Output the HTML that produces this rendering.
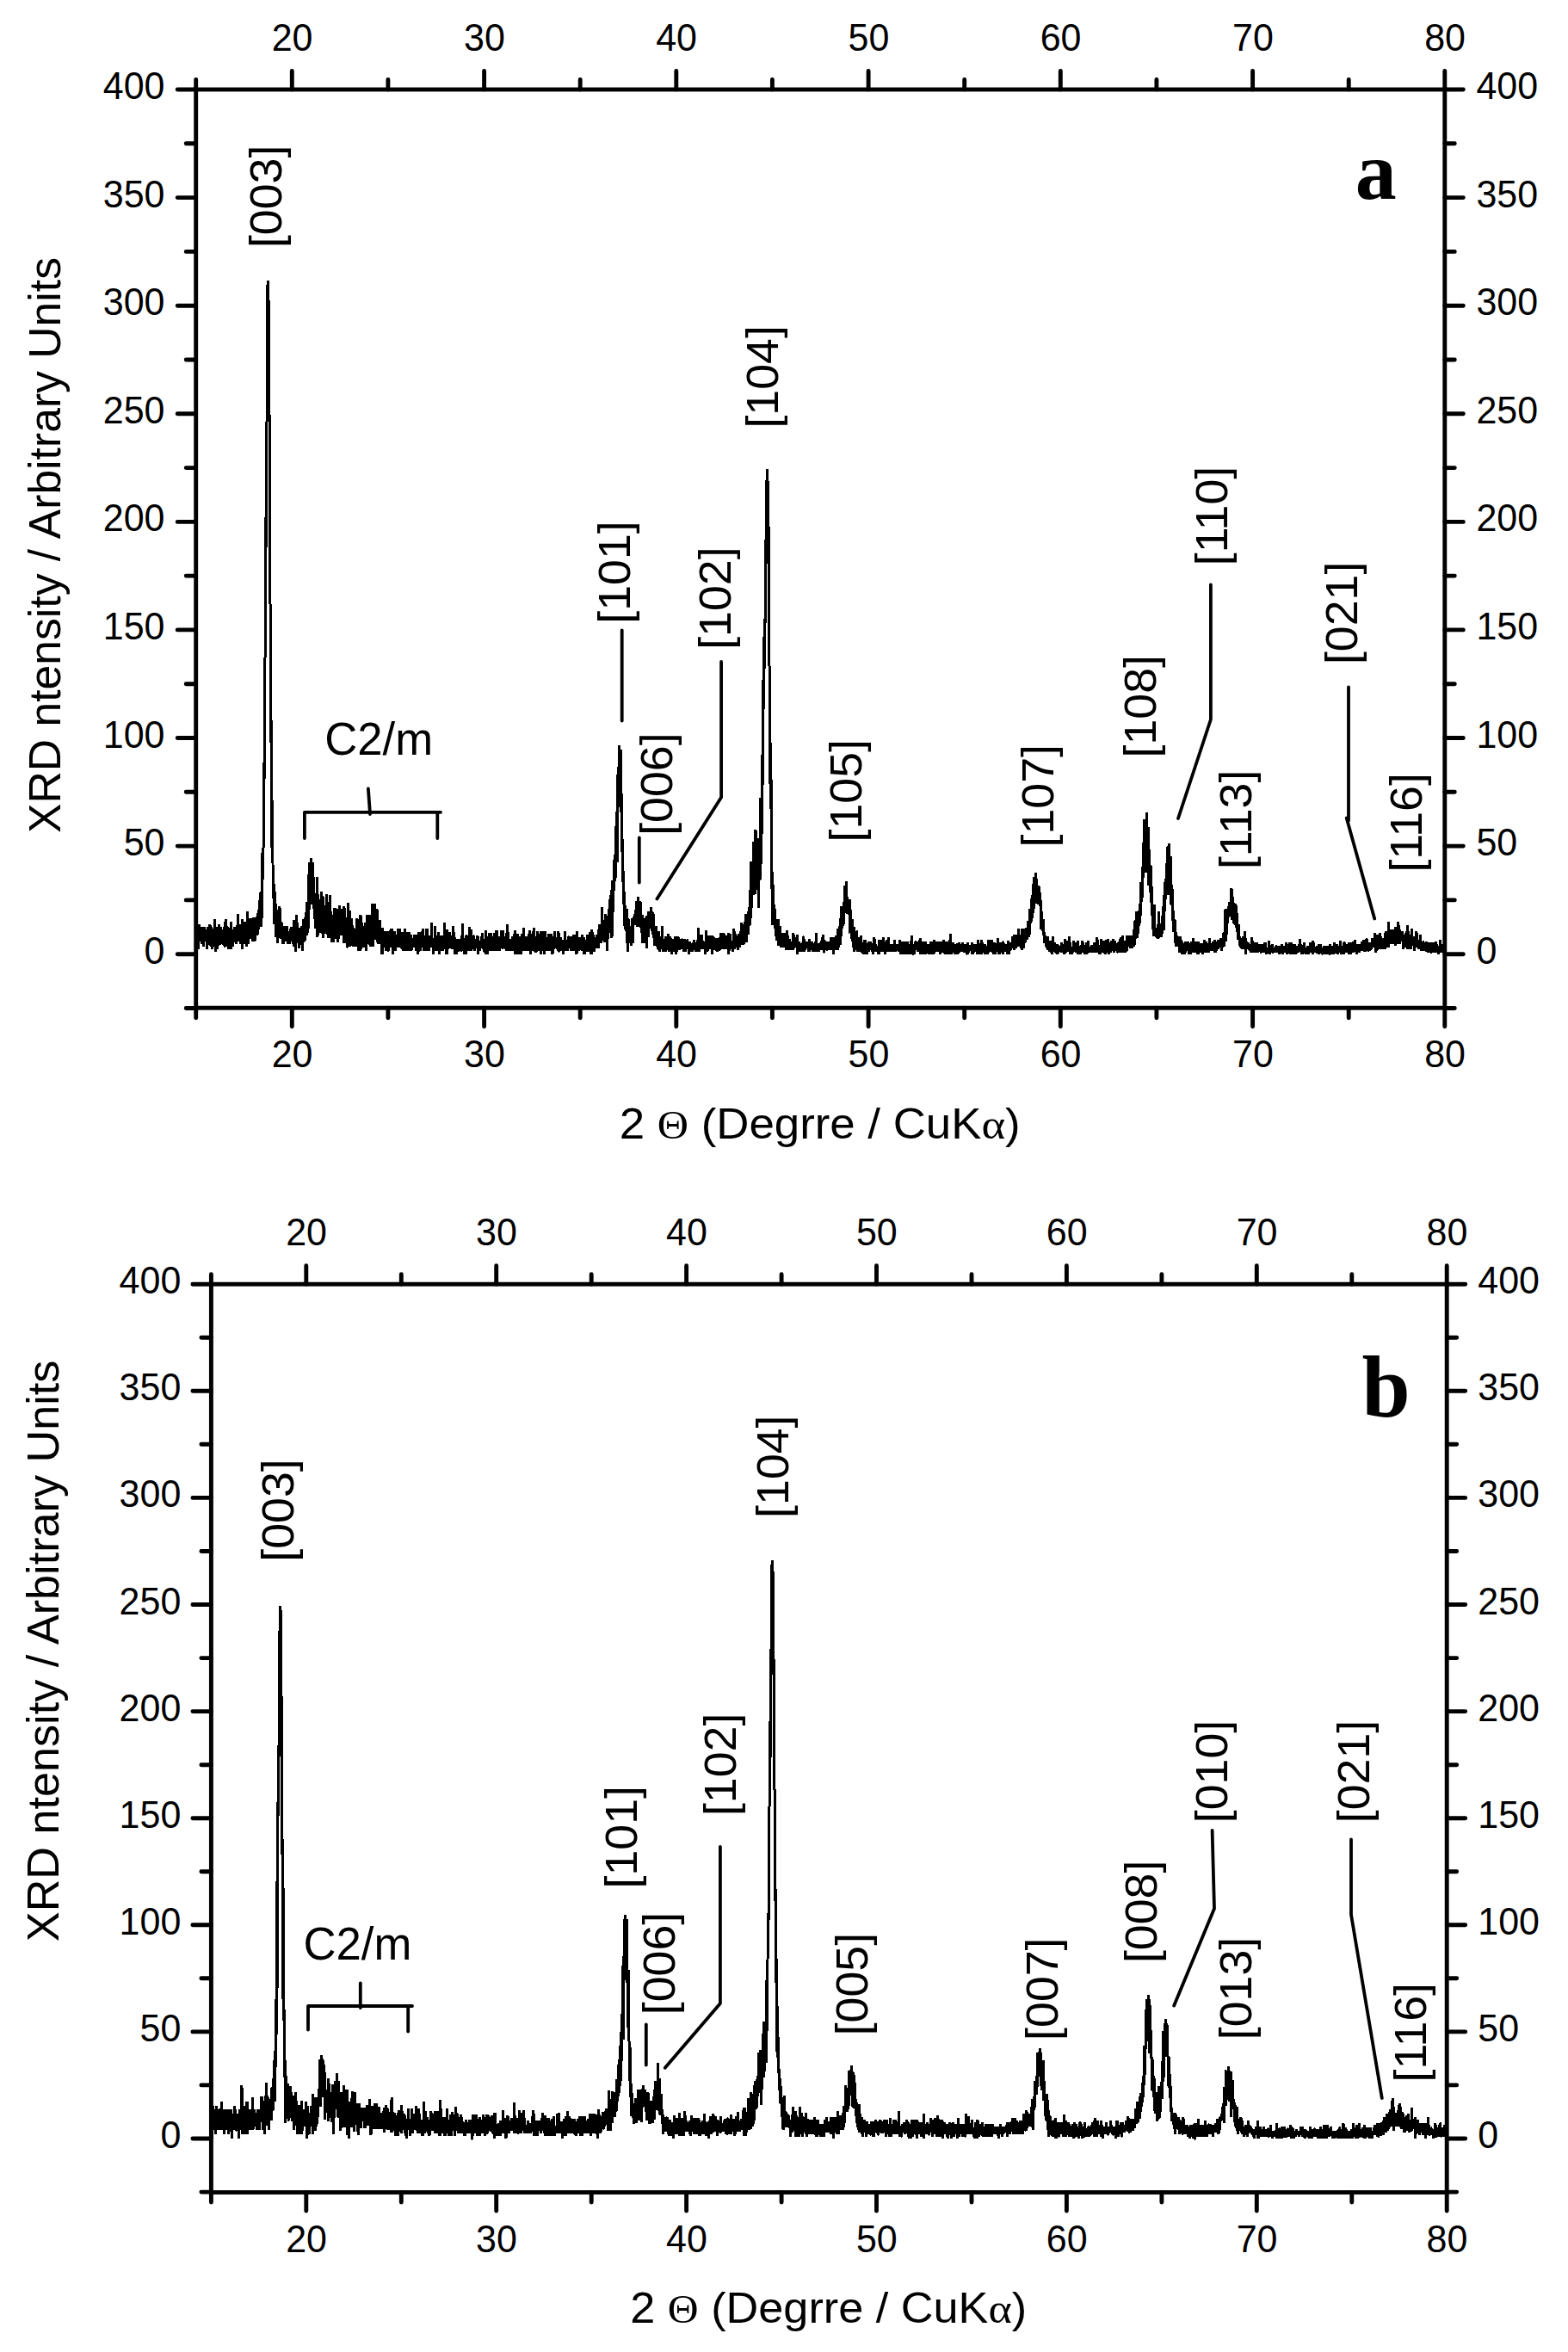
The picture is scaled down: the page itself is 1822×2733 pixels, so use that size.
<!DOCTYPE html>
<html lang="en"><head><meta charset="utf-8"><title>XRD patterns</title>
<style>html,body{margin:0;padding:0;background:#fff}svg{display:block}text{fill:#000}</style></head><body>
<svg width="1822" height="2733" viewBox="0 0 1822 2733">
<rect width="1822" height="2733" fill="#fff"/>
<g fill="none" stroke="#000" stroke-width="4.9" stroke-linecap="round">
<path d="M227.7 104V92.5M227.7 1171.2V1182.7M339.3 104V82.5M339.3 1171.2V1192.7M450.9 104V92.5M450.9 1171.2V1182.7M562.6 104V82.5M562.6 1171.2V1192.7M674.2 104V92.5M674.2 1171.2V1182.7M785.8 104V82.5M785.8 1171.2V1192.7M897.4 104V92.5M897.4 1171.2V1182.7M1009.1 104V82.5M1009.1 1171.2V1192.7M1120.7 104V92.5M1120.7 1171.2V1182.7M1232.3 104V82.5M1232.3 1171.2V1192.7M1343.9 104V92.5M1343.9 1171.2V1182.7M1455.6 104V82.5M1455.6 1171.2V1192.7M1567.2 104V92.5M1567.2 1171.2V1182.7M1678.8 104V82.5M1678.8 1171.2V1192.7M227.7 1171.5H216.2M1678.8 1171.5H1690.3M227.7 1108.7H206.2M1678.8 1108.7H1700.3M227.7 1045.9H216.2M1678.8 1045.9H1690.3M227.7 983.1H206.2M1678.8 983.1H1700.3M227.7 920.3H216.2M1678.8 920.3H1690.3M227.7 857.5H206.2M1678.8 857.5H1700.3M227.7 794.7H216.2M1678.8 794.7H1690.3M227.7 731.9H206.2M1678.8 731.9H1700.3M227.7 669.1H216.2M1678.8 669.1H1690.3M227.7 606.4H206.2M1678.8 606.4H1700.3M227.7 543.6H216.2M1678.8 543.6H1690.3M227.7 480.8H206.2M1678.8 480.8H1700.3M227.7 418H216.2M1678.8 418H1690.3M227.7 355.2H206.2M1678.8 355.2H1700.3M227.7 292.4H216.2M1678.8 292.4H1690.3M227.7 229.6H206.2M1678.8 229.6H1700.3M227.7 166.8H216.2M1678.8 166.8H1690.3M227.7 104H206.2M1678.8 104H1700.3"/>
</g>
<rect x="227.7" y="104" width="1451.1" height="1067.2" fill="none" stroke="#000" stroke-width="4.9"/>
<g font-family='"Liberation Sans", sans-serif' font-size="43" fill="#000">
<g text-anchor="middle">
<text transform="translate(339.6 58.5) scale(1 1.019)">20</text>
<text transform="translate(339.6 1240) scale(1 1.019)">20</text>
<text transform="translate(562.9 58.5) scale(1 1.019)">30</text>
<text transform="translate(562.9 1240) scale(1 1.019)">30</text>
<text transform="translate(786.1 58.5) scale(1 1.019)">40</text>
<text transform="translate(786.1 1240) scale(1 1.019)">40</text>
<text transform="translate(1009.4 58.5) scale(1 1.019)">50</text>
<text transform="translate(1009.4 1240) scale(1 1.019)">50</text>
<text transform="translate(1232.6 58.5) scale(1 1.019)">60</text>
<text transform="translate(1232.6 1240) scale(1 1.019)">60</text>
<text transform="translate(1455.9 58.5) scale(1 1.019)">70</text>
<text transform="translate(1455.9 1240) scale(1 1.019)">70</text>
<text transform="translate(1679.1 58.5) scale(1 1.019)">80</text>
<text transform="translate(1679.1 1240) scale(1 1.019)">80</text>
</g>
<g text-anchor="end">
<text transform="translate(191.5 1119.7) scale(1 1.019)">0</text>
<text transform="translate(191.5 994.1) scale(1 1.019)">50</text>
<text transform="translate(191.5 868.5) scale(1 1.019)">100</text>
<text transform="translate(191.5 742.9) scale(1 1.019)">150</text>
<text transform="translate(191.5 617.4) scale(1 1.019)">200</text>
<text transform="translate(191.5 491.8) scale(1 1.019)">250</text>
<text transform="translate(191.5 366.2) scale(1 1.019)">300</text>
<text transform="translate(191.5 240.6) scale(1 1.019)">350</text>
<text transform="translate(191.5 115) scale(1 1.019)">400</text>
</g>
<g text-anchor="start">
<text transform="translate(1715.4 1119.7) scale(1 1.019)">0</text>
<text transform="translate(1715.4 994.1) scale(1 1.019)">50</text>
<text transform="translate(1715.4 868.5) scale(1 1.019)">100</text>
<text transform="translate(1715.4 742.9) scale(1 1.019)">150</text>
<text transform="translate(1715.4 617.4) scale(1 1.019)">200</text>
<text transform="translate(1715.4 491.8) scale(1 1.019)">250</text>
<text transform="translate(1715.4 366.2) scale(1 1.019)">300</text>
<text transform="translate(1715.4 240.6) scale(1 1.019)">350</text>
<text transform="translate(1715.4 115) scale(1 1.019)">400</text>
</g>
</g>
<text x="952.7" y="1323" font-family='"Liberation Sans", sans-serif' font-size="49.5" text-anchor="middle" textLength="466" lengthAdjust="spacingAndGlyphs">2 <tspan font-family='"Liberation Serif", serif' font-size="0.95em">Θ</tspan> (Degrre / CuK<tspan font-family='"Liberation Serif", serif'>α</tspan>)</text>
<text transform="translate(70.2 633.5) rotate(-90)" font-family='"Liberation Sans", sans-serif' font-size="51.5" text-anchor="middle" textLength="669" lengthAdjust="spacingAndGlyphs">XRD ntensity / Arbitrary Units</text>
<polyline fill="none" stroke="#000" stroke-width="3" stroke-linejoin="bevel" shape-rendering="crispEdges" points="227.7,1100 227.9,1100 228.1,1085.6 228.4,1094.3 228.6,1097.1 228.8,1082.7 229,1097.1 229.3,1088.5 229.5,1097.1 229.7,1091.4 229.9,1074 230.2,1102.9 230.4,1076.9 230.6,1085.6 230.8,1094.3 231,1091.4 231.3,1074 231.5,1079.8 231.7,1082.7 231.9,1091.4 232.2,1091.4 232.4,1082.7 232.6,1091.4 232.8,1088.5 233.1,1091.4 233.3,1094.3 233.5,1085.6 233.7,1091.4 234,1088.5 234.2,1091.4 234.4,1097.1 234.6,1076.9 234.8,1088.5 235.1,1085.6 235.3,1094.3 235.5,1085.6 235.7,1091.4 236,1097.1 236.2,1100 236.4,1091.4 236.6,1091.4 236.9,1097.1 237.1,1088.5 237.3,1076.9 237.5,1088.5 237.7,1085.6 238,1088.5 238.2,1079.8 238.4,1091.4 238.6,1088.5 238.9,1082.7 239.1,1085.6 239.3,1094.3 239.5,1085.6 239.8,1091.4 240,1088.5 240.2,1094.3 240.4,1088.5 240.6,1102.9 240.9,1091.4 241.1,1076.9 241.3,1091.4 241.5,1082.7 241.8,1097.1 242,1091.4 242.2,1097.1 242.4,1097.1 242.7,1088.5 242.9,1088.5 243.1,1085.6 243.3,1088.5 243.6,1091.4 243.8,1094.3 244,1074 244.2,1082.7 244.4,1082.7 244.7,1091.4 244.9,1097.1 245.1,1100 245.3,1085.6 245.6,1076.9 245.8,1097.1 246,1085.6 246.2,1094.3 246.5,1091.4 246.7,1088.5 246.9,1102.9 247.1,1094.3 247.3,1097.1 247.6,1097.1 247.8,1091.4 248,1100 248.2,1079.8 248.5,1088.5 248.7,1085.6 248.9,1094.3 249.1,1068.3 249.4,1076.9 249.6,1097.1 249.8,1079.8 250,1085.6 250.2,1105.8 250.5,1076.9 250.7,1094.3 250.9,1085.6 251.1,1088.5 251.4,1094.3 251.6,1082.7 251.8,1091.4 252,1094.3 252.3,1079.8 252.5,1076.9 252.7,1088.5 252.9,1102.9 253.2,1094.3 253.4,1079.8 253.6,1085.6 253.8,1085.6 254,1088.5 254.3,1085.6 254.5,1085.6 254.7,1074 254.9,1079.8 255.2,1097.1 255.4,1085.6 255.6,1091.4 255.8,1082.7 256.1,1097.1 256.3,1097.1 256.5,1085.6 256.7,1076.9 256.9,1091.4 257.2,1094.3 257.4,1079.8 257.6,1091.4 257.8,1079.8 258.1,1097.1 258.3,1094.3 258.5,1088.5 258.7,1082.7 259,1091.4 259.2,1088.5 259.4,1082.7 259.6,1097.1 259.8,1097.1 260.1,1088.5 260.3,1094.3 260.5,1097.1 260.7,1097.1 261,1076.9 261.2,1100 261.4,1100 261.6,1071.1 261.9,1079.8 262.1,1100 262.3,1068.3 262.5,1082.7 262.7,1097.1 263,1094.3 263.2,1088.5 263.4,1097.1 263.6,1082.7 263.9,1085.6 264.1,1076.9 264.3,1076.9 264.5,1094.3 264.8,1094.3 265,1097.1 265.2,1079.8 265.4,1102.9 265.7,1091.4 265.9,1088.5 266.1,1085.6 266.3,1088.5 266.5,1091.4 266.8,1091.4 267,1082.7 267.2,1094.3 267.4,1097.1 267.7,1082.7 267.9,1088.5 268.1,1071.1 268.3,1094.3 268.6,1100 268.8,1102.9 269,1091.4 269.2,1082.7 269.4,1097.1 269.7,1097.1 269.9,1091.4 270.1,1082.7 270.3,1082.7 270.6,1085.6 270.8,1100 271,1097.1 271.2,1079.8 271.5,1085.6 271.7,1094.2 271.9,1079.8 272.1,1088.5 272.3,1088.5 272.6,1085.6 272.8,1076.9 273,1091.3 273.2,1085.6 273.5,1094.2 273.7,1085.5 273.9,1085.5 274.1,1085.5 274.4,1079.8 274.6,1082.6 274.8,1097.1 275,1082.6 275.3,1091.3 275.5,1088.4 275.7,1082.6 275.9,1094.2 276.1,1062.3 276.4,1085.5 276.6,1082.6 276.8,1085.5 277,1088.4 277.3,1079.7 277.5,1085.5 277.7,1082.6 277.9,1082.6 278.2,1085.5 278.4,1073.9 278.6,1088.4 278.8,1094.2 279,1079.6 279.3,1085.5 279.5,1094.2 279.7,1094.2 279.9,1097.1 280.2,1073.8 280.4,1094.2 280.6,1091.2 280.8,1082.5 281.1,1088.3 281.3,1067.9 281.5,1102.9 281.7,1082.5 281.9,1073.7 282.2,1088.3 282.4,1085.4 282.6,1097 282.8,1082.4 283.1,1073.7 283.3,1082.4 283.5,1097 283.7,1076.6 284,1091.2 284.2,1088.2 284.4,1070.7 284.6,1085.3 284.9,1082.4 285.1,1091.1 285.3,1091.1 285.5,1088.2 285.7,1091.1 286,1076.5 286.2,1082.3 286.4,1094 286.6,1085.2 286.9,1099.9 287.1,1082.3 287.3,1058.7 287.5,1079.3 287.8,1067.5 288,1091 288.2,1088.1 288.4,1091 288.6,1096.9 288.9,1093.9 289.1,1082.1 289.3,1079.2 289.5,1082.1 289.8,1067.3 290,1088 290.2,1082 290.4,1070.2 290.7,1090.9 290.9,1067.1 291.1,1082 291.3,1081.9 291.5,1081.9 291.8,1081.9 292,1075.9 292.2,1090.8 292.4,1081.8 292.7,1084.8 292.9,1075.8 293.1,1084.7 293.3,1093.7 293.6,1075.7 293.8,1072.6 294,1066.6 294.2,1084.6 294.5,1081.5 294.7,1066.4 294.9,1084.5 295.1,1075.4 295.3,1093.5 295.6,1084.4 295.8,1075.2 296,1072.1 296.2,1072 296.5,1093.4 296.7,1065.8 296.9,1084.1 297.1,1081 297.4,1077.8 297.6,1077.8 297.8,1077.7 298,1074.5 298.2,1065.1 298.5,1077.4 298.7,1086.8 298.9,1080.4 299.1,1061.4 299.4,1077.1 299.6,1061.1 299.8,1086.4 300,1079.9 300.3,1076.6 300.5,1057.1 300.7,1076.3 300.9,1069.6 301.1,1066.2 301.4,1059.3 301.6,1045.8 301.8,1072.1 302,1065.1 302.3,1037.8 302.5,1037.3 302.7,1050.4 302.9,1042.9 303.2,1077.2 303.4,1048.6 303.6,1051.4 303.8,1047 304.1,1031.3 304.3,1067.4 304.5,1047.5 304.7,991.4 304.9,1016.5 305.2,1022.2 305.4,1011 305.6,1020.7 305.8,985.3 306.1,984.8 306.3,945.3 306.5,940.3 306.7,915.6 307,885.9 307.2,905.3 307.4,847 307.6,836.5 307.8,788.7 308.1,754.9 308.3,716.6 308.5,742.9 308.7,703.3 309,601.1 309.2,636.2 309.4,559.9 309.6,540.6 309.9,509.2 310.1,478.1 310.3,436 310.5,331.3 310.7,389.5 311,389 311.2,331.3 311.4,326.3 311.6,428.1 311.9,397.2 312.1,348.8 312.3,450.7 312.5,431.1 312.8,458.3 313,481.9 313.2,577.7 313.4,536.3 313.6,566.9 313.9,698.6 314.1,704.1 314.3,760.8 314.5,741.8 314.8,862.5 315,837 315.2,904.7 315.4,920.3 315.7,866.1 315.9,984.9 316.1,945.3 316.3,1003.1 316.6,929.9 316.8,990 317,1002.8 317.2,1026.7 317.4,1005.2 317.7,1042.8 317.9,1044.2 318.1,1026.9 318.3,1039.3 318.6,1044 318.8,1052 319,1073.7 319.2,1036 319.5,1057.3 319.7,1057.7 319.9,1064.9 320.1,1058.5 320.3,1072.2 320.6,1088.9 320.8,1049.7 321,1069.6 321.2,1076.3 321.5,1079.6 321.7,1057.3 321.9,1083.1 322.1,1060.9 322.4,1096 322.6,1077.1 322.8,1064.6 323,1077.3 323.2,1071.1 323.5,1086.9 323.7,1068.3 323.9,1077.7 324.1,1062.3 324.4,1068.6 324.6,1090.2 324.8,1078 325,1053.5 325.3,1090.3 325.5,1069 325.7,1090.4 325.9,1063.1 326.2,1090.5 326.4,1078.4 326.6,1078.4 326.8,1078.5 327,1072.5 327.3,1072.5 327.5,1087.6 327.7,1084.7 327.9,1084.7 328.2,1096.7 328.4,1090.7 328.6,1093.7 328.8,1087.8 329.1,1084.8 329.3,1081.9 329.5,1096.8 329.7,1081.9 329.9,1087.9 330.2,1076 330.4,1090.9 330.6,1079.1 330.8,1082 331.1,1093.9 331.3,1088 331.5,1088 331.7,1088 332,1088 332.2,1082.2 332.4,1091 332.6,1088.1 332.8,1088.1 333.1,1076.3 333.3,1088.1 333.5,1094 333.7,1079.3 334,1088.2 334.2,1085.2 334.4,1082.3 334.6,1097 334.9,1088.2 335.1,1082.3 335.3,1094.1 335.5,1088.2 335.8,1094.1 336,1088.2 336.2,1094.1 336.4,1091.2 336.6,1085.3 336.9,1097 337.1,1079.5 337.3,1085.4 337.5,1091.2 337.8,1091.2 338,1091.2 338.2,1088.3 338.4,1088.3 338.7,1082.5 338.9,1076.7 339.1,1091.2 339.3,1085.4 339.5,1091.2 339.8,1094 340,1088.1 340.2,1085 340.4,1090.9 340.7,1090.8 340.9,1096.7 341.1,1090.6 341.3,1069.4 341.6,1099.6 341.8,1081.2 342,1087.2 342.2,1096.4 342.4,1093.2 342.7,1093.2 342.9,1083.7 343.1,1071.1 343.3,1102.4 343.6,1105.5 343.8,1089.7 344,1092.8 344.2,1079.9 344.5,1079.8 344.7,1082.9 344.9,1063.4 345.1,1092.4 345.4,1095.6 345.6,1092.3 345.8,1072.5 346,1092.2 346.2,1095.4 346.5,1088.7 346.7,1092 346.9,1081.8 347.1,1088.5 347.4,1101.9 347.6,1095.1 347.8,1091.6 348,1081.3 348.3,1077.7 348.5,1081.1 348.7,1094.8 348.9,1098.3 349.1,1094.7 349.4,1084.1 349.6,1091.1 349.8,1083.9 350,1094.5 350.3,1076.6 350.5,1087.2 350.7,1076.3 350.9,1097.9 351.2,1087 351.4,1097.8 351.6,1105 351.8,1075.7 352,1079.2 352.3,1071.7 352.5,1075.2 352.7,1067.6 352.9,1082.4 353.2,1093.6 353.4,1093.5 353.6,1093.5 353.8,1085.7 354.1,1077.9 354.3,1066.1 354.5,1081.4 354.7,1093 355,1081 355.2,1080.8 355.4,1060.4 355.6,1076.2 355.8,1063.6 356.1,1067.2 356.3,1083.5 356.5,1057.6 356.7,1048.2 357,1086.7 357.2,1068.4 357.4,1067.6 357.6,1071.4 357.9,1056.3 358.1,1079.4 358.3,1043.6 358.5,1031.5 358.7,1055.8 359,1016 359.2,1018.8 359.4,1056.5 359.6,1032.6 359.9,1001.7 360.1,1013.7 360.3,1007.3 360.5,1001.7 360.8,1006.9 361,1018.9 361.2,1037 361.4,1025.4 361.6,996.7 361.9,1009 362.1,1050.6 362.3,1022.5 362.5,1046.2 362.8,1018.7 363,1030.8 363.2,1048.1 363.4,1021.4 363.7,1005.9 363.9,1001.7 364.1,1034.2 364.3,1024.2 364.5,1056.2 364.8,1040.9 365,1036 365.2,1057.1 365.4,1062.4 365.7,1057.5 365.9,1067.9 366.1,1052.7 366.3,1052.9 366.6,1063.1 366.8,1053.1 367,1078.5 367.2,1068.5 367.5,1068.5 367.7,1053.6 367.9,1053.7 368.1,1053.8 368.3,1019 368.6,1054 368.8,1083.9 369,1088.9 369.2,1074 369.5,1039.5 369.7,1069.2 369.9,1054.5 370.1,1084.1 370.4,1054.6 370.6,1049.8 370.8,1074.4 371,1054.9 371.2,1069.6 371.5,1045.2 371.7,1084.3 371.9,1064.9 372.1,1060.1 372.4,1079.6 372.6,1065.1 372.8,1079.6 373,1060.3 373.3,1055.6 373.5,1070.1 373.7,1065.3 373.9,1036.5 374.1,1060.7 374.4,1041.5 374.6,1084.7 374.8,1070.4 375,1051.3 375.3,1070.5 375.5,1041.9 375.7,1089.6 375.9,1061.1 376.2,1061.2 376.4,1066 376.6,1075.5 376.8,1070.8 377.1,1061.4 377.3,1075.6 377.5,1066.2 377.7,1071 377.9,1071 378.2,1080.5 378.4,1052.3 378.6,1061.8 378.8,1085.3 379.1,1061.9 379.3,1047.9 379.5,1038.6 379.7,1071.4 380,1048.1 380.2,1048.2 380.4,1062.2 380.6,1071.5 380.8,1085.5 381.1,1076.3 381.3,1076.3 381.5,1071.7 381.7,1090.2 382,1085.6 382.2,1081 382.4,1058 382.6,1085.7 382.9,1081.1 383.1,1039.8 383.3,1081.2 383.5,1076.6 383.7,1067.5 384,1081.3 384.2,1090.4 384.4,1085.9 384.6,1081.3 384.9,1058.6 385.1,1085.9 385.3,1063.2 385.5,1067.8 385.8,1095.1 386,1072.4 386.2,1090.6 386.4,1086.1 386.7,1086.1 386.9,1063.5 387.1,1095.2 387.3,1077.1 387.5,1072.7 387.8,1077.2 388,1095.2 388.2,1054.8 388.4,1086.3 388.7,1086.3 388.9,1063.9 389.1,1090.8 389.3,1077.4 389.6,1068.5 389.8,1055.1 390,1077.5 390.2,1082 390.4,1073.1 390.7,1082 390.9,1086.5 391.1,1068.7 391.3,1073.2 391.6,1068.8 391.8,1073.3 392,1073.3 392.2,1064.5 392.5,1095.4 392.7,1069 392.9,1055.8 393.1,1077.9 393.3,1091.1 393.6,1069.1 393.8,1086.7 394,1064.8 394.2,1073.6 394.5,1051.7 394.7,1064.9 394.9,1069.3 395.1,1073.7 395.4,1086.8 395.6,1082.5 395.8,1086.9 396,1069.4 396.3,1078.2 396.5,1073.9 396.7,1078.2 396.9,1056.5 397.1,1087 397.4,1078.3 397.6,1078.3 397.8,1082.7 398,1074 398.3,1087.1 398.5,1082.7 398.7,1078.4 398.9,1082.8 399.2,1069.9 399.4,1095.8 399.6,1069.9 399.8,1095.8 400,1052.8 400.3,1087.2 400.5,1078.6 400.7,1095.8 400.9,1083 401.2,1087.3 401.4,1095.8 401.6,1078.7 401.8,1078.7 402.1,1083 402.3,1066 402.5,1078.8 402.7,1095.9 402.9,1074.6 403.2,1078.9 403.4,1100.2 403.6,1100.2 403.8,1087.4 404.1,1070.4 404.3,1087.5 404.5,1096 404.7,1049.3 405,1083.3 405.2,1100.2 405.4,1079.1 405.6,1091.8 405.9,1091.8 406.1,1087.6 406.3,1079.1 406.5,1091.8 406.7,1058.1 407,1100.3 407.2,1087.6 407.4,1087.7 407.6,1083.5 407.9,1070.9 408.1,1066.7 408.3,1079.3 408.5,1087.7 408.8,1066.8 409,1079.4 409.2,1079.4 409.4,1092 409.6,1079.4 409.9,1075.3 410.1,1083.6 410.3,1083.6 410.5,1083.7 410.8,1079.5 411,1100.4 411.2,1092 411.4,1096.2 411.7,1079.6 411.9,1079.6 412.1,1100.4 412.3,1087.9 412.5,1092.1 412.8,1100.4 413,1088 413.2,1088 413.4,1088 413.7,1088 413.9,1083.9 414.1,1092.1 414.3,1092.2 414.6,1075.6 414.8,1100.4 415,1067.4 415.2,1079.8 415.5,1096.3 415.7,1088.1 415.9,1084 416.1,1092.2 416.3,1104.6 416.6,1079.9 416.8,1075.8 417,1092.2 417.2,1092.2 417.5,1096.4 417.7,1079.9 417.9,1088.2 418.1,1092.3 418.4,1071.7 418.6,1084.1 418.8,1063.5 419,1104.6 419.2,1096.4 419.5,1088.2 419.7,1063.6 419.9,1100.5 420.1,1088.2 420.4,1071.8 420.6,1088.2 420.8,1096.4 421,1084.1 421.3,1096.4 421.5,1096.4 421.7,1075.9 421.9,1088.2 422.1,1092.3 422.4,1079.9 422.6,1096.4 422.8,1100.5 423,1088.1 423.3,1096.4 423.5,1088.1 423.7,1092.2 423.9,1092.2 424.2,1071.6 424.4,1088.1 424.6,1083.9 424.8,1088.1 425,1088 425.3,1075.6 425.5,1104.6 425.7,1088 425.9,1088 426.2,1063.1 426.4,1083.8 426.6,1087.9 426.8,1071.3 427.1,1067.1 427.3,1083.7 427.5,1075.4 427.7,1079.5 428,1079.5 428.2,1096.2 428.4,1096.2 428.6,1092 428.8,1083.6 429.1,1062.7 429.3,1083.6 429.5,1091.9 429.7,1083.6 430,1066.8 430.2,1075.2 430.4,1100.3 430.6,1066.8 430.9,1096.1 431.1,1071 431.3,1079.3 431.5,1075.2 431.7,1079.4 432,1091.9 432.2,1083.6 432.4,1079.4 432.6,1050.1 432.9,1075.2 433.1,1100.3 433.3,1079.4 433.5,1066.9 433.8,1092 434,1083.7 434.2,1067 434.4,1054.5 434.6,1079.6 434.9,1075.4 435.1,1050.5 435.3,1071.4 435.5,1083.8 435.8,1088 436,1079.8 436.2,1071.5 436.4,1075.7 436.7,1092.2 436.9,1067.6 437.1,1084.1 437.3,1084.1 437.6,1067.8 437.8,1080.1 438,1055.7 438.2,1068 438.4,1092.5 438.7,1076.3 438.9,1092.5 439.1,1096.6 439.3,1084.5 439.6,1080.6 439.8,1076.6 440,1096.7 440.2,1092.7 440.5,1076.8 440.7,1084.8 440.9,1084.9 441.1,1073.1 441.3,1088.9 441.6,1069.3 441.8,1089 442,1093 442.2,1089.1 442.5,1089.1 442.7,1097 442.9,1089.2 443.1,1077.6 443.4,1097.1 443.6,1108.7 443.8,1097.1 444,1104.8 444.2,1077.9 444.5,1108.7 444.7,1085.7 444.9,1093.4 445.1,1097.2 445.4,1089.5 445.6,1081.9 445.8,1093.4 446,1097.2 446.3,1085.8 446.5,1093.4 446.7,1089.6 446.9,1101.1 447.2,1093.5 447.4,1089.7 447.6,1085.9 447.8,1097.3 448,1089.7 448.3,1093.5 448.5,1104.9 448.7,1082.2 448.9,1093.5 449.2,1089.8 449.4,1093.6 449.6,1101.1 449.8,1097.4 450.1,1093.6 450.3,1089.8 450.5,1097.4 450.7,1086.1 450.9,1104.9 451.2,1104.9 451.4,1082.3 451.6,1097.4 451.8,1097.4 452.1,1093.6 452.3,1086.1 452.5,1097.4 452.7,1082.4 453,1082.4 453.2,1097.4 453.4,1093.7 453.6,1093.7 453.8,1101.2 454.1,1089.9 454.3,1101.2 454.5,1078.6 454.7,1089.9 455,1082.4 455.2,1089.9 455.4,1078.6 455.6,1097.4 455.9,1089.9 456.1,1093.7 456.3,1097.4 456.5,1097.4 456.8,1108.7 457,1086.2 457.2,1089.9 457.4,1097.4 457.6,1089.9 457.9,1089.9 458.1,1082.4 458.3,1086.2 458.5,1097.4 458.8,1097.4 459,1101.2 459.2,1101.2 459.4,1105 459.7,1101.2 459.9,1105 460.1,1097.5 460.3,1093.7 460.5,1097.5 460.8,1097.5 461,1097.5 461.2,1093.7 461.4,1086.2 461.7,1093.7 461.9,1093.7 462.1,1090 462.3,1078.8 462.6,1101.2 462.8,1093.7 463,1090 463.2,1097.5 463.4,1086.3 463.7,1101.2 463.9,1086.3 464.1,1097.5 464.3,1101.2 464.6,1078.8 464.8,1097.5 465,1093.8 465.2,1097.5 465.5,1093.8 465.7,1082.6 465.9,1086.3 466.1,1097.5 466.4,1097.5 466.6,1101.2 466.8,1101.2 467,1101.2 467.2,1082.6 467.5,1090 467.7,1093.8 467.9,1101.2 468.1,1093.8 468.4,1090.1 468.6,1105 468.8,1097.5 469,1101.2 469.3,1090.1 469.5,1101.2 469.7,1105 469.9,1090.1 470.1,1078.9 470.4,1101.3 470.6,1105 470.8,1097.5 471,1101.3 471.3,1097.5 471.5,1101.3 471.7,1086.4 471.9,1097.5 472.2,1093.8 472.4,1101.3 472.6,1105 472.8,1093.8 473,1093.8 473.3,1090.1 473.5,1082.7 473.7,1097.6 473.9,1105 474.2,1093.8 474.4,1097.6 474.6,1090.1 474.8,1101.3 475.1,1090.1 475.3,1086.4 475.5,1093.9 475.7,1082.7 475.9,1090.1 476.2,1097.6 476.4,1105 476.6,1097.6 476.8,1105 477.1,1093.9 477.3,1093.9 477.5,1097.6 477.7,1086.5 478,1105 478.2,1097.6 478.4,1090.2 478.6,1101.3 478.9,1097.6 479.1,1097.6 479.3,1097.6 479.5,1090.2 479.7,1097.6 480,1090.2 480.2,1093.9 480.4,1101.3 480.6,1097.6 480.9,1097.6 481.1,1093.9 481.3,1093.9 481.5,1086.5 481.8,1101.3 482,1097.6 482.2,1097.6 482.4,1097.6 482.6,1097.6 482.9,1093.9 483.1,1097.6 483.3,1086.5 483.5,1105 483.8,1101.3 484,1090.2 484.2,1101.3 484.4,1101.3 484.7,1105 484.9,1105 485.1,1093.9 485.3,1097.6 485.5,1105 485.8,1101.3 486,1108.7 486.2,1086.6 486.4,1082.9 486.7,1086.6 486.9,1105 487.1,1105 487.3,1101.3 487.6,1090.3 487.8,1105 488,1097.6 488.2,1097.6 488.5,1090.3 488.7,1086.6 488.9,1105 489.1,1097.7 489.3,1082.9 489.6,1094 489.8,1082.9 490,1094 490.2,1101.3 490.5,1097.7 490.7,1097.7 490.9,1086.6 491.1,1079.3 491.4,1090.3 491.6,1094 491.8,1101.3 492,1094 492.2,1094 492.5,1094 492.7,1094 492.9,1105 493.1,1101.4 493.4,1097.7 493.6,1105 493.8,1097.7 494,1105 494.3,1086.7 494.5,1090.4 494.7,1097.7 494.9,1101.4 495.1,1094 495.4,1079.4 495.6,1094 495.8,1105 496,1097.7 496.3,1079.4 496.5,1097.7 496.7,1097.7 496.9,1094 497.2,1090.4 497.4,1090.4 497.6,1097.7 497.8,1101.4 498.1,1094.1 498.3,1094.1 498.5,1086.7 498.7,1105 498.9,1101.4 499.2,1090.4 499.4,1090.4 499.6,1094.1 499.8,1094.1 500.1,1097.7 500.3,1101.4 500.5,1097.7 500.7,1101.4 501,1094.1 501.2,1090.4 501.4,1072.2 501.6,1090.4 501.8,1097.7 502.1,1094.1 502.3,1094.1 502.5,1097.7 502.7,1101.4 503,1094.1 503.2,1108.7 503.4,1094.1 503.6,1094.1 503.9,1105.1 504.1,1094.1 504.3,1094.1 504.5,1090.5 504.7,1101.4 505,1090.5 505.2,1090.5 505.4,1075.9 505.6,1090.5 505.9,1105.1 506.1,1097.8 506.3,1101.4 506.5,1097.8 506.8,1105.1 507,1094.1 507.2,1090.5 507.4,1105.1 507.7,1090.5 507.9,1086.9 508.1,1094.1 508.3,1094.1 508.5,1105.1 508.8,1101.4 509,1097.8 509.2,1101.4 509.4,1097.8 509.7,1105.1 509.9,1083.3 510.1,1097.8 510.3,1108.7 510.6,1090.5 510.8,1101.4 511,1090.5 511.2,1105.1 511.4,1101.4 511.7,1086.9 511.9,1090.5 512.1,1097.8 512.3,1097.8 512.6,1097.8 512.8,1105.1 513,1086.9 513.2,1090.6 513.5,1094.2 513.7,1101.4 513.9,1094.2 514.1,1097.8 514.3,1105.1 514.6,1101.5 514.8,1101.5 515,1094.2 515.2,1087 515.5,1101.5 515.7,1101.5 515.9,1087 516.1,1090.6 516.4,1097.8 516.6,1072.5 516.8,1090.6 517,1101.5 517.3,1101.5 517.5,1101.5 517.7,1101.5 517.9,1101.5 518.1,1094.2 518.4,1094.2 518.6,1101.5 518.8,1105.1 519,1108.7 519.3,1105.1 519.5,1094.2 519.7,1094.2 519.9,1079.8 520.2,1090.6 520.4,1097.9 520.6,1101.5 520.8,1101.5 521,1083.4 521.3,1094.3 521.5,1101.5 521.7,1101.5 521.9,1087.1 522.2,1094.3 522.4,1083.5 522.6,1097.9 522.8,1090.7 523.1,1097.9 523.3,1101.5 523.5,1097.9 523.7,1090.7 523.9,1094.3 524.2,1101.5 524.4,1101.5 524.6,1097.9 524.8,1087.1 525.1,1101.5 525.3,1097.9 525.5,1097.9 525.7,1090.7 526,1101.5 526.2,1101.5 526.4,1097.9 526.6,1101.5 526.8,1076.3 527.1,1097.9 527.3,1101.5 527.5,1083.5 527.7,1094.3 528,1087.1 528.2,1105.1 528.4,1101.5 528.6,1101.5 528.9,1108.7 529.1,1094.3 529.3,1094.3 529.5,1097.9 529.8,1105.1 530,1090.8 530.2,1094.3 530.4,1094.3 530.6,1108.7 530.9,1097.9 531.1,1105.1 531.3,1094.4 531.5,1097.9 531.8,1105.1 532,1090.8 532.2,1105.1 532.4,1105.1 532.7,1097.9 532.9,1098 533.1,1105.1 533.3,1105.1 533.5,1098 533.8,1094.4 534,1101.5 534.2,1101.5 534.4,1098 534.7,1090.8 534.9,1101.5 535.1,1098 535.3,1098 535.6,1090.8 535.8,1098 536,1105.1 536.2,1105.1 536.4,1098 536.7,1094.4 536.9,1087.3 537.1,1101.6 537.3,1087.3 537.6,1073 537.8,1087.3 538,1094.4 538.2,1090.8 538.5,1090.8 538.7,1098 538.9,1094.4 539.1,1094.4 539.4,1101.6 539.6,1101.6 539.8,1108.7 540,1101.6 540.2,1090.9 540.5,1101.6 540.7,1101.6 540.9,1101.6 541.1,1101.6 541.4,1105.1 541.6,1094.4 541.8,1108.7 542,1087.3 542.3,1087.3 542.5,1098 542.7,1094.5 542.9,1098 543.1,1090.9 543.4,1090.9 543.6,1098 543.8,1098 544,1094.5 544.3,1101.6 544.5,1087.4 544.7,1087.4 544.9,1105.1 545.2,1087.4 545.4,1090.9 545.6,1076.7 545.8,1105.1 546,1101.6 546.3,1094.5 546.5,1105.1 546.7,1080.3 546.9,1101.6 547.2,1105.1 547.4,1094.5 547.6,1101.6 547.8,1080.3 548.1,1101.6 548.3,1094.5 548.5,1091 548.7,1094.5 549,1087.4 549.2,1098.1 549.4,1098.1 549.6,1098.1 549.8,1101.6 550.1,1101.6 550.3,1087.4 550.5,1087.4 550.7,1087.4 551,1098.1 551.2,1105.2 551.4,1091 551.6,1098.1 551.9,1101.6 552.1,1091 552.3,1101.6 552.5,1098.1 552.7,1091 553,1098.1 553.2,1091 553.4,1094.6 553.6,1101.6 553.9,1098.1 554.1,1094.6 554.3,1091 554.5,1098.1 554.8,1098.1 555,1087.5 555.2,1094.6 555.4,1098.1 555.6,1108.7 555.9,1098.1 556.1,1098.1 556.3,1098.1 556.5,1101.6 556.8,1094.6 557,1098.1 557.2,1101.6 557.4,1098.1 557.7,1105.2 557.9,1094.6 558.1,1094.6 558.3,1094.6 558.6,1101.6 558.8,1094.6 559,1101.7 559.2,1087.6 559.4,1094.6 559.7,1098.1 559.9,1091.1 560.1,1098.1 560.3,1084 560.6,1094.6 560.8,1094.6 561,1101.7 561.2,1101.7 561.5,1098.1 561.7,1094.6 561.9,1101.7 562.1,1091.1 562.3,1105.2 562.6,1105.2 562.8,1101.7 563,1094.6 563.2,1098.2 563.5,1091.1 563.7,1098.2 563.9,1105.2 564.1,1087.6 564.4,1108.7 564.6,1080.6 564.8,1101.7 565,1087.6 565.2,1091.1 565.5,1105.2 565.7,1087.6 565.9,1098.2 566.1,1094.7 566.4,1101.7 566.6,1101.7 566.8,1108.7 567,1105.2 567.3,1098.2 567.5,1098.2 567.7,1094.7 567.9,1098.2 568.2,1091.2 568.4,1101.7 568.6,1084.2 568.8,1091.2 569,1101.7 569.3,1091.2 569.5,1094.7 569.7,1091.2 569.9,1084.2 570.2,1087.7 570.4,1105.2 570.6,1098.2 570.8,1084.2 571.1,1098.2 571.3,1098.2 571.5,1091.2 571.7,1105.2 571.9,1094.7 572.2,1101.7 572.4,1094.7 572.6,1098.2 572.8,1087.7 573.1,1098.2 573.3,1098.2 573.5,1105.2 573.7,1101.7 574,1101.7 574.2,1087.8 574.4,1084.3 574.6,1087.8 574.8,1101.7 575.1,1098.2 575.3,1101.7 575.5,1101.7 575.7,1101.7 576,1098.2 576.2,1080.8 576.4,1101.7 576.6,1105.2 576.9,1091.3 577.1,1080.8 577.3,1098.3 577.5,1098.3 577.7,1098.3 578,1098.3 578.2,1098.3 578.4,1091.3 578.6,1091.3 578.9,1105.2 579.1,1101.7 579.3,1098.3 579.5,1094.8 579.8,1094.8 580,1091.3 580.2,1101.7 580.4,1087.8 580.7,1105.2 580.9,1091.3 581.1,1094.8 581.3,1094.8 581.5,1087.9 581.8,1091.3 582,1098.3 582.2,1094.8 582.4,1080.9 582.7,1098.3 582.9,1091.3 583.1,1094.8 583.3,1084.4 583.6,1098.3 583.8,1094.8 584,1101.8 584.2,1101.8 584.4,1084.4 584.7,1094.8 584.9,1081 585.1,1098.3 585.3,1094.8 585.6,1094.8 585.8,1087.9 586,1091.4 586.2,1098.3 586.5,1101.8 586.7,1101.8 586.9,1091.4 587.1,1091.4 587.3,1098.3 587.6,1098.3 587.8,1091.4 588,1087.9 588.2,1105.2 588.5,1084.5 588.7,1094.9 588.9,1098.3 589.1,1094.9 589.4,1105.2 589.6,1088 589.8,1074.1 590,1081.1 590.3,1105.2 590.5,1101.8 590.7,1101.8 590.9,1101.8 591.1,1101.8 591.4,1094.9 591.6,1091.4 591.8,1105.2 592,1101.8 592.3,1098.4 592.5,1098.4 592.7,1101.8 592.9,1094.9 593.2,1098.4 593.4,1094.9 593.6,1094.9 593.8,1091.5 594,1105.3 594.3,1098.4 594.5,1098.4 594.7,1094.9 594.9,1094.9 595.2,1098.4 595.4,1101.8 595.6,1088 595.8,1091.5 596.1,1091.5 596.3,1098.4 596.5,1105.3 596.7,1094.9 596.9,1091.5 597.2,1091.5 597.4,1084.6 597.6,1101.8 597.8,1088.1 598.1,1108.7 598.3,1081.2 598.5,1101.8 598.7,1088.1 599,1098.4 599.2,1095 599.4,1095 599.6,1105.3 599.9,1088.1 600.1,1098.4 600.3,1088.1 600.5,1101.8 600.7,1101.8 601,1084.7 601.2,1091.6 601.4,1105.3 601.6,1095 601.9,1108.7 602.1,1088.1 602.3,1091.6 602.5,1098.4 602.8,1101.8 603,1088.1 603.2,1095 603.4,1105.3 603.6,1101.9 603.9,1101.9 604.1,1105.3 604.3,1088.2 604.5,1101.9 604.8,1088.2 605,1108.7 605.2,1101.9 605.4,1108.7 605.7,1098.4 605.9,1098.4 606.1,1105.3 606.3,1098.4 606.5,1084.8 606.8,1101.9 607,1101.9 607.2,1091.6 607.4,1095 607.7,1098.5 607.9,1095 608.1,1078 608.3,1081.4 608.6,1095 608.8,1101.9 609,1095.1 609.2,1105.3 609.5,1095.1 609.7,1098.5 609.9,1095.1 610.1,1095.1 610.3,1088.2 610.6,1101.9 610.8,1095.1 611,1095.1 611.2,1088.3 611.5,1101.9 611.7,1095.1 611.9,1098.5 612.1,1095.1 612.4,1091.7 612.6,1098.5 612.8,1105.3 613,1101.9 613.2,1101.9 613.5,1101.9 613.7,1095.1 613.9,1101.9 614.1,1098.5 614.4,1105.3 614.6,1084.9 614.8,1091.7 615,1095.1 615.3,1098.5 615.5,1098.5 615.7,1081.5 615.9,1101.9 616.1,1095.1 616.4,1108.7 616.6,1098.5 616.8,1084.9 617,1098.5 617.3,1091.7 617.5,1091.7 617.7,1098.5 617.9,1098.5 618.2,1105.3 618.4,1098.5 618.6,1095.1 618.8,1095.1 619.1,1098.5 619.3,1105.3 619.5,1098.5 619.7,1081.6 619.9,1091.8 620.2,1091.8 620.4,1098.5 620.6,1078.2 620.8,1101.9 621.1,1095.2 621.3,1091.8 621.5,1105.3 621.7,1105.3 622,1095.2 622.2,1105.3 622.4,1105.3 622.6,1095.2 622.8,1095.2 623.1,1105.3 623.3,1105.3 623.5,1088.4 623.7,1098.6 624,1095.2 624.2,1091.8 624.4,1098.6 624.6,1098.6 624.9,1081.7 625.1,1105.3 625.3,1101.9 625.5,1095.2 625.7,1091.8 626,1102 626.2,1102 626.4,1102 626.6,1098.6 626.9,1105.3 627.1,1098.6 627.3,1102 627.5,1091.8 627.8,1088.5 628,1085.1 628.2,1108.7 628.4,1081.8 628.7,1098.6 628.9,1095.2 629.1,1091.9 629.3,1085.1 629.5,1095.2 629.8,1105.3 630,1088.5 630.2,1095.2 630.4,1081.8 630.7,1085.2 630.9,1085.2 631.1,1091.9 631.3,1095.3 631.6,1091.9 631.8,1095.3 632,1102 632.2,1108.7 632.4,1095.3 632.7,1108.7 632.9,1098.6 633.1,1105.3 633.3,1095.3 633.6,1105.3 633.8,1081.9 634,1102 634.2,1102 634.5,1088.6 634.7,1098.6 634.9,1102 635.1,1091.9 635.3,1098.6 635.6,1095.3 635.8,1105.3 636,1102 636.2,1102 636.5,1102 636.7,1102 636.9,1092 637.1,1092 637.4,1085.3 637.6,1098.7 637.8,1092 638,1105.4 638.2,1085.3 638.5,1092 638.7,1098.7 638.9,1095.3 639.1,1102 639.4,1095.3 639.6,1088.6 639.8,1098.7 640,1102 640.3,1102 640.5,1105.4 640.7,1102 640.9,1085.3 641.2,1092 641.4,1108.7 641.6,1088.7 641.8,1102 642,1108.7 642.3,1102 642.5,1098.7 642.7,1102 642.9,1095.4 643.2,1102 643.4,1102 643.6,1102 643.8,1092 644.1,1098.7 644.3,1098.7 644.5,1085.4 644.7,1095.4 644.9,1082.1 645.2,1102 645.4,1088.7 645.6,1095.4 645.8,1088.7 646.1,1092.1 646.3,1102 646.5,1095.4 646.7,1092.1 647,1098.7 647.2,1088.7 647.4,1098.7 647.6,1102 647.8,1102.1 648.1,1095.4 648.3,1102.1 648.5,1105.4 648.7,1085.4 649,1082.1 649.2,1102.1 649.4,1105.4 649.6,1105.4 649.9,1092.1 650.1,1095.4 650.3,1105.4 650.5,1098.7 650.8,1088.8 651,1095.4 651.2,1092.1 651.4,1102.1 651.6,1088.8 651.9,1098.8 652.1,1102.1 652.3,1095.4 652.5,1098.8 652.8,1102.1 653,1098.8 653.2,1098.8 653.4,1092.1 653.7,1095.5 653.9,1105.4 654.1,1092.1 654.3,1108.7 654.5,1102.1 654.8,1095.5 655,1102.1 655.2,1098.8 655.4,1095.5 655.7,1095.5 655.9,1095.5 656.1,1102.1 656.3,1092.2 656.6,1095.5 656.8,1082.3 657,1102.1 657.2,1105.4 657.4,1095.5 657.7,1095.5 657.9,1105.4 658.1,1102.1 658.3,1098.8 658.6,1098.8 658.8,1098.8 659,1098.8 659.2,1105.4 659.5,1092.2 659.7,1092.2 659.9,1098.8 660.1,1088.9 660.4,1088.9 660.6,1088.9 660.8,1088.9 661,1092.2 661.2,1095.5 661.5,1092.2 661.7,1102.1 661.9,1095.5 662.1,1098.8 662.4,1095.5 662.6,1102.1 662.8,1089 663,1089 663.3,1092.3 663.5,1089 663.7,1089 663.9,1105.4 664.1,1095.5 664.4,1092.3 664.6,1098.8 664.8,1105.4 665,1095.6 665.3,1102.1 665.5,1095.6 665.7,1095.6 665.9,1102.1 666.2,1095.6 666.4,1085.7 666.6,1092.3 666.8,1105.4 667,1098.9 667.3,1102.1 667.5,1105.4 667.7,1085.7 667.9,1092.3 668.2,1092.3 668.4,1098.9 668.6,1098.9 668.8,1098.9 669.1,1095.6 669.3,1098.9 669.5,1089 669.7,1098.9 670,1108.7 670.2,1102.2 670.4,1095.6 670.6,1082.5 670.8,1089.1 671.1,1095.6 671.3,1089.1 671.5,1105.4 671.7,1095.6 672,1105.4 672.2,1089.1 672.4,1095.6 672.6,1105.4 672.9,1098.9 673.1,1095.6 673.3,1092.4 673.5,1102.2 673.7,1092.4 674,1089.1 674.2,1098.9 674.4,1102.2 674.6,1102.2 674.9,1095.6 675.1,1092.4 675.3,1092.4 675.5,1095.7 675.8,1098.9 676,1089.1 676.2,1095.7 676.4,1095.7 676.6,1105.4 676.9,1085.9 677.1,1095.7 677.3,1089.2 677.5,1098.9 677.8,1105.4 678,1098.9 678.2,1095.7 678.4,1089.2 678.7,1098.9 678.9,1108.7 679.1,1102.2 679.3,1105.5 679.6,1092.5 679.8,1108.7 680,1105.5 680.2,1095.7 680.4,1105.5 680.7,1095.7 680.9,1102.2 681.1,1102.2 681.3,1092.5 681.6,1099 681.8,1095.7 682,1092.5 682.2,1102.2 682.5,1102.2 682.7,1086 682.9,1092.5 683.1,1099 683.3,1092.5 683.6,1095.8 683.8,1102.2 684,1105.5 684.2,1092.5 684.5,1099 684.7,1099 684.9,1105.5 685.1,1095.8 685.4,1082.9 685.6,1105.5 685.8,1105.5 686,1092.6 686.2,1099 686.5,1099 686.7,1108.7 686.9,1089.4 687.1,1108.7 687.4,1102.3 687.6,1105.5 687.8,1079.7 688,1089.4 688.3,1083 688.5,1092.6 688.7,1095.8 688.9,1095.8 689.1,1099.1 689.4,1092.6 689.6,1095.8 689.8,1086.2 690,1105.5 690.3,1092.6 690.5,1102.3 690.7,1105.5 690.9,1099.1 691.2,1092.7 691.4,1089.5 691.6,1095.9 691.8,1089.5 692.1,1092.7 692.3,1095.9 692.5,1089.5 692.7,1092.7 692.9,1092.7 693.2,1089.5 693.4,1092.7 693.6,1102.3 693.8,1086.3 694.1,1089.5 694.3,1089.5 694.5,1095.9 694.7,1089.5 695,1089.5 695.2,1102.3 695.4,1092.7 695.6,1080 695.8,1095.9 696.1,1095.9 696.3,1073.6 696.5,1092.8 696.7,1080 697,1083.2 697.2,1095.9 697.4,1076.8 697.6,1083.1 697.9,1089.5 698.1,1089.5 698.3,1092.7 698.5,1095.8 698.7,1083 699,1086.1 699.2,1089.3 699.4,1053.7 699.6,1079.6 699.9,1079.5 700.1,1092.5 700.3,1089.2 700.5,1072.8 700.8,1076 701,1076 701.2,1082.5 701.4,1072.6 701.7,1089 701.9,1088.9 702.1,1085.6 702.3,1078.9 702.5,1095.4 702.8,1082.1 703,1068.7 703.2,1078.7 703.4,1085.3 703.7,1061.8 703.9,1075.1 704.1,1081.8 704.3,1088.4 704.6,1081.6 704.8,1081.6 705,1067.9 705.2,1105.3 705.4,1081.4 705.7,1081.3 705.9,1067.5 706.1,1064 706.3,1070.7 706.6,1074.1 706.8,1091.3 707,1077.4 707.2,1063.3 707.5,1077.2 707.7,1073.6 707.9,1055.8 708.1,1084 708.3,1044.8 708.6,1062.4 708.8,1051.5 709,1054.8 709.2,1051 709.5,1039.9 709.7,1057.7 709.9,1083.1 710.1,1046.1 710.4,1071.7 710.6,1034.2 710.8,1059.9 711,1089.8 711.3,1063 711.5,1031.9 711.7,1054.4 711.9,1022.6 712.1,1053.3 712.4,1024.7 712.6,1023.8 712.8,1059.6 713,1025.7 713.3,999.3 713.5,1031.9 713.7,1035 713.9,1007.4 714.2,1023.6 714.4,999.4 714.6,997.4 714.8,1014.2 715,993.1 715.3,1020.3 715.5,963.4 715.7,960.4 715.9,1004.3 716.2,948.8 716.4,942.7 716.6,980.2 716.8,953.5 717.1,953.6 717.3,1001.7 717.5,932.2 717.7,926.9 717.9,900.3 718.2,927 718.4,932.4 718.6,921.8 718.8,895.1 719.1,889.8 719.3,916.5 719.5,871.3 719.7,866.3 720,937.8 720.2,932.7 720.4,906.2 720.6,890.2 720.9,884.9 721.1,911.6 721.3,943.6 721.5,871.3 721.7,906.4 722,938.4 722.2,938.5 722.4,922.5 722.6,989.6 722.9,947.6 723.1,996.2 723.3,1013.5 723.5,988.3 723.8,1000.6 724,1025.3 724.2,1023.1 724.4,1012.6 724.6,1014.8 724.9,1040.8 725.1,1057.9 725.3,1035.8 725.5,1063.5 725.8,1060.6 726,1075.9 726.2,1080 726.4,1052 726.7,1063.2 726.9,1063.7 727.1,1074.5 727.3,1068 727.5,1071.7 727.8,1082 728,1069 728.2,1056.1 728.4,1085.8 728.7,1095.7 728.9,1069.8 729.1,1066.8 729.3,1083 729.6,1073.5 729.8,1105.5 730,1067.3 730.2,1073.8 730.5,1086.5 730.7,1080.2 730.9,1070.8 731.1,1092.9 731.3,1086.6 731.6,1080.4 731.8,1077.2 732,1093 732.2,1096.1 732.5,1092.9 732.7,1083.5 732.9,1086.6 733.1,1083.4 733.4,1086.5 733.6,1083.3 733.8,1099.2 734,1076.9 734.2,1070.4 734.5,1067.1 734.7,1076.6 734.9,1086.1 735.1,1069.9 735.4,1095.7 735.6,1076.1 735.8,1076 736,1069.3 736.3,1072.4 736.5,1068.9 736.7,1075.4 736.9,1068.5 737.1,1061.6 737.4,1074.9 737.6,1068 737.8,1074.6 738,1064.2 738.3,1070.8 738.5,1060.3 738.7,1056.7 738.9,1059.9 739.2,1070.3 739.4,1073.6 739.6,1073.5 739.8,1047.2 740,1062.8 740.3,1059.2 740.5,1066.2 740.7,1076.8 740.9,1062.6 741.2,1042.1 741.4,1076.8 741.6,1059.1 741.8,1047.2 742.1,1069.9 742.3,1055.9 742.5,1052.6 742.7,1052.8 743,1070.4 743.2,1070.5 743.4,1053.4 743.6,1064 743.8,1047.2 744.1,1067.8 744.3,1047.7 744.5,1078.4 744.7,1065.1 745,1068.7 745.2,1082.2 745.4,1082.3 745.6,1082.4 745.9,1066.2 746.1,1063.2 746.3,1092.5 746.5,1076.4 746.7,1095.8 747,1073.5 747.2,1095.9 747.4,1089.6 747.6,1077 747.9,1077.1 748.1,1074 748.3,1086.6 748.5,1074.1 748.8,1070.9 749,1086.7 749.2,1080.4 749.4,1067.8 749.6,1067.8 749.9,1089.8 750.1,1086.6 750.3,1070.8 750.5,1092.9 750.8,1096 751,1070.5 751.2,1102.3 751.4,1067.1 751.7,1063.8 751.9,1073.3 752.1,1073.2 752.3,1089.3 752.6,1073 752.8,1079.4 753,1089.1 753.2,1085.8 753.4,1072.6 753.7,1072.5 753.9,1059.2 754.1,1072.3 754.3,1078.9 754.6,1065.5 754.8,1072.1 755,1075.4 755.2,1068.8 755.5,1065.4 755.7,1075.4 755.9,1072.1 756.1,1059.2 756.3,1068.9 756.6,1069 756.8,1054.2 757,1065.9 757.2,1082.4 757.5,1069.4 757.7,1059.2 757.9,1060 758.1,1063.4 758.4,1060.4 758.6,1086.3 758.8,1076.8 759,1073.8 759.2,1080.2 759.5,1070.9 759.7,1089.9 759.9,1062 760.1,1099.4 760.4,1093.3 760.6,1096.4 760.8,1078.1 761,1087.4 761.3,1090.5 761.5,1081.6 761.7,1084.7 761.9,1093.8 762.2,1084.9 762.4,1090.9 762.6,1090.9 762.8,1076.1 763,1087.9 763.3,1099.8 763.5,1096.8 763.7,1088 763.9,1096.9 764.2,1090.9 764.4,1088 764.6,1102.8 764.8,1090.9 765.1,1082.1 765.3,1102.8 765.5,1102.8 765.7,1096.9 765.9,1091 766.2,1105.7 766.4,1091 766.6,1099.8 766.8,1102.8 767.1,1093.9 767.3,1102.8 767.5,1099.8 767.7,1096.9 768,1096.9 768.2,1102.8 768.4,1099.9 768.6,1099.9 768.8,1088.1 769.1,1091 769.3,1076.3 769.5,1099.9 769.7,1094 770,1094 770.2,1102.8 770.4,1094 770.6,1102.8 770.9,1105.8 771.1,1102.8 771.3,1105.8 771.5,1094 771.8,1097 772,1099.9 772.2,1102.8 772.4,1099.9 772.6,1091.1 772.9,1097 773.1,1088.2 773.3,1097 773.5,1105.8 773.8,1099.9 774,1097 774.2,1094.1 774.4,1094.1 774.7,1094.1 774.9,1102.8 775.1,1091.2 775.3,1102.9 775.5,1102.9 775.8,1099.9 776,1097 776.2,1085.3 776.4,1088.3 776.7,1099.9 776.9,1088.3 777.1,1097 777.3,1094.1 777.6,1105.8 777.8,1102.9 778,1102.9 778.2,1091.2 778.4,1100 778.7,1091.2 778.9,1088.3 779.1,1091.2 779.3,1097.1 779.6,1102.9 779.8,1102.9 780,1102.9 780.2,1097.1 780.5,1100 780.7,1108.7 780.9,1100 781.1,1097.1 781.4,1097.1 781.6,1097.1 781.8,1097.1 782,1091.3 782.2,1100 782.5,1094.2 782.7,1105.8 782.9,1102.9 783.1,1097.1 783.4,1094.2 783.6,1100 783.8,1091.3 784,1094.2 784.3,1102.9 784.5,1097.1 784.7,1100 784.9,1088.5 785.1,1097.1 785.4,1097.1 785.6,1108.7 785.8,1094.3 786,1100 786.3,1100 786.5,1100 786.7,1105.8 786.9,1100 787.2,1094.3 787.4,1088.5 787.6,1102.9 787.8,1102.9 788,1088.5 788.3,1094.3 788.5,1100.1 788.7,1094.3 788.9,1102.9 789.2,1094.3 789.4,1097.2 789.6,1102.9 789.8,1103 790.1,1100.1 790.3,1100.1 790.5,1091.5 790.7,1094.3 791,1100.1 791.2,1097.2 791.4,1100.1 791.6,1100.1 791.8,1094.4 792.1,1091.5 792.3,1091.5 792.5,1100.1 792.7,1103 793,1091.5 793.2,1100.1 793.4,1100.1 793.6,1103 793.9,1094.4 794.1,1105.8 794.3,1097.3 794.5,1094.4 794.7,1091.5 795,1094.4 795.2,1100.1 795.4,1091.6 795.6,1094.4 795.9,1097.3 796.1,1091.6 796.3,1105.8 796.5,1103 796.8,1103 797,1103 797.2,1097.3 797.4,1100.2 797.6,1094.5 797.9,1100.2 798.1,1091.6 798.3,1103 798.5,1091.6 798.8,1094.5 799,1100.2 799.2,1100.2 799.4,1097.3 799.7,1094.5 799.9,1100.2 800.1,1097.3 800.3,1097.3 800.5,1108.7 800.8,1105.9 801,1100.2 801.2,1100.2 801.4,1094.5 801.7,1100.2 801.9,1103 802.1,1097.4 802.3,1100.2 802.6,1100.2 802.8,1105.9 803,1097.4 803.2,1100.2 803.5,1100.2 803.7,1103 803.9,1103 804.1,1097.4 804.3,1097.4 804.6,1097.4 804.8,1105.9 805,1100.2 805.2,1094.6 805.5,1103.1 805.7,1100.2 805.9,1094.6 806.1,1100.2 806.4,1103.1 806.6,1091.8 806.8,1103.1 807,1103.1 807.2,1097.4 807.5,1100.3 807.7,1094.6 807.9,1100.3 808.1,1094.6 808.4,1103.1 808.6,1097.5 808.8,1105.9 809,1097.5 809.3,1103.1 809.5,1103.1 809.7,1105.9 809.9,1100.3 810.1,1097.5 810.4,1094.7 810.6,1091.9 810.8,1103.1 811,1100.3 811.3,1100.3 811.5,1091.9 811.7,1103.1 811.9,1077.9 812.2,1103.1 812.4,1086.3 812.6,1105.9 812.8,1103.1 813.1,1086.3 813.3,1094.7 813.5,1091.9 813.7,1100.3 813.9,1100.3 814.2,1094.7 814.4,1100.3 814.6,1097.5 814.8,1103.1 815.1,1086.4 815.3,1103.1 815.5,1100.3 815.7,1092 816,1097.6 816.2,1097.6 816.4,1097.6 816.6,1094.8 816.8,1094.8 817.1,1103.1 817.3,1094.8 817.5,1094.8 817.7,1100.4 818,1094.8 818.2,1100.4 818.4,1097.6 818.6,1100.4 818.9,1103.1 819.1,1094.8 819.3,1097.6 819.5,1108.7 819.7,1103.2 820,1097.6 820.2,1105.9 820.4,1097.6 820.6,1081 820.9,1092.1 821.1,1089.3 821.3,1105.9 821.5,1086.6 821.8,1103.2 822,1105.9 822.2,1094.9 822.4,1103.2 822.7,1094.9 822.9,1100.4 823.1,1094.9 823.3,1094.9 823.5,1100.4 823.8,1092.1 824,1094.9 824.2,1103.2 824.4,1086.6 824.7,1092.2 824.9,1094.9 825.1,1100.4 825.3,1097.7 825.6,1097.7 825.8,1100.4 826,1100.4 826.2,1094.9 826.4,1094.9 826.7,1100.4 826.9,1100.5 827.1,1086.7 827.3,1100.5 827.6,1108.7 827.8,1100.5 828,1095 828.2,1100.5 828.5,1097.7 828.7,1097.7 828.9,1089.5 829.1,1089.5 829.3,1100.5 829.6,1095 829.8,1103.2 830,1103.2 830.2,1095 830.5,1097.7 830.7,1092.3 830.9,1092.3 831.1,1097.8 831.4,1103.2 831.6,1103.2 831.8,1097.8 832,1103.2 832.3,1100.5 832.5,1095 832.7,1089.6 832.9,1097.8 833.1,1100.5 833.4,1106 833.6,1095.1 833.8,1106 834,1097.8 834.3,1103.3 834.5,1089.6 834.7,1100.5 834.9,1095.1 835.2,1100.5 835.4,1100.5 835.6,1103.3 835.8,1103.3 836,1100.5 836.3,1103.3 836.5,1103.3 836.7,1103.3 836.9,1092.4 837.2,1084.3 837.4,1095.1 837.6,1095.1 837.8,1087 838.1,1089.7 838.3,1100.6 838.5,1100.6 838.7,1097.9 838.9,1097.9 839.2,1092.4 839.4,1103.3 839.6,1100.6 839.8,1100.6 840.1,1095.2 840.3,1095.2 840.5,1100.6 840.7,1095.2 841,1084.4 841.2,1092.5 841.4,1097.9 841.6,1097.9 841.9,1095.2 842.1,1095.2 842.3,1089.8 842.5,1103.3 842.7,1097.9 843,1100.6 843.2,1089.8 843.4,1089.8 843.6,1095.2 843.9,1100.6 844.1,1087.2 844.3,1100.6 844.5,1103.3 844.8,1095.3 845,1097.9 845.2,1100.6 845.4,1089.9 845.6,1095.3 845.9,1092.6 846.1,1087.2 846.3,1108.7 846.5,1084.5 846.8,1100.7 847,1106 847.2,1092.6 847.4,1095.3 847.7,1100.7 847.9,1089.9 848.1,1100.7 848.3,1084.6 848.5,1095.3 848.8,1090 849,1100.7 849.2,1095.3 849.4,1092.7 849.7,1103.4 849.9,1098 850.1,1100.7 850.3,1095.3 850.6,1098 850.8,1092.7 851,1103.4 851.2,1100.7 851.4,1106 851.7,1095.4 851.9,1100.7 852.1,1100.7 852.3,1092.7 852.6,1079.4 852.8,1100.7 853,1087.4 853.2,1092.7 853.5,1103.4 853.7,1082.1 853.9,1103.4 854.1,1090.1 854.4,1084.8 854.6,1095.4 854.8,1092.8 855,1087.5 855.2,1098.1 855.5,1098.1 855.7,1100.7 855.9,1087.5 856.1,1098.1 856.4,1087.5 856.6,1100.8 856.8,1095.5 857,1100.8 857.3,1100.8 857.5,1103.4 857.7,1100.8 857.9,1090.2 858.1,1092.8 858.4,1098.1 858.6,1090.2 858.8,1084.9 859,1095.5 859.3,1084.9 859.5,1100.8 859.7,1092.9 859.9,1087.6 860.2,1085 860.4,1092.9 860.6,1082.3 860.8,1085 861,1087.6 861.3,1090.3 861.5,1098.2 861.7,1071.8 861.9,1074.5 862.2,1082.4 862.4,1087.7 862.6,1082.4 862.8,1092.9 863.1,1095.6 863.3,1090.3 863.5,1085.1 863.7,1085 864,1098.2 864.2,1084.9 864.4,1095.5 864.6,1090.1 864.8,1074.2 865.1,1092.7 865.3,1071.4 865.5,1090 865.7,1087.3 866,1081.8 866.2,1084.4 866.4,1089.8 866.6,1076.1 866.9,1062.4 867.1,1089.6 867.3,1084 867.5,1094.9 867.7,1075.5 868,1072.6 868.2,1080.8 868.4,1075 868.6,1083.3 868.9,1069 869.1,1085.9 869.3,1077.1 869.5,1082.7 869.8,1065.1 870,1058.9 870.2,1064.5 870.4,1073.1 870.6,1075.8 870.9,1057.5 871.1,1051 871.3,1075 871.5,1040.8 871.8,1033.9 872,1064.7 872.2,1039 872.4,1067.1 872.7,1050.6 872.9,1001.2 873.1,1023.2 873.3,1042.3 873.6,1031.6 873.8,1054.5 874,1033.5 874.2,1025.9 874.4,1004.2 874.7,1027.9 874.9,1030.7 875.1,1012.1 875.3,1040.1 875.6,977.6 875.8,1009.6 876,986.6 876.2,989.3 876.5,996 876.7,1010.4 876.9,983.1 877.1,1001.5 877.3,1039.4 877.6,996.5 877.8,992.1 878,964.4 878.2,975.7 878.5,1022.4 878.7,990.8 878.9,1034 879.1,986.8 879.4,979.1 879.6,983.2 879.8,975.8 880,987.9 880.2,1027.1 880.5,1004.2 880.7,973.7 880.9,997.2 881.1,1020.6 881.4,990.2 881.6,978.9 881.8,1055.3 882,1024.7 882.3,1001.7 882.5,1001.3 882.7,1012.4 882.9,1007.8 883.2,991.3 883.4,1021.7 883.6,984.6 883.8,978.7 884,926.9 884.3,978.2 884.5,936.7 884.7,1003.6 884.9,942.3 885.2,968.6 885.4,916.2 885.6,877.3 885.8,912 886.1,911.7 886.3,911 886.5,881.2 886.7,872.1 886.9,790.3 887.2,817.5 887.4,824 887.6,740.5 887.8,770 888.1,775.6 888.3,776.9 888.5,729.4 888.7,719.5 889,731.4 889.2,626.7 889.4,696.5 889.6,636.4 889.8,658.9 890.1,631.7 890.3,636.7 890.5,557.8 890.7,563.5 891,604.4 891.2,551.7 891.4,545.1 891.6,576.5 891.9,550.1 892.1,565.6 892.3,571.4 892.5,588.3 892.8,655.2 893,651.6 893.2,611.7 893.4,683.9 893.6,753.6 893.9,757.2 894.1,786.7 894.3,801.1 894.5,791.7 894.8,840.7 895,910.5 895.2,863.5 895.4,909.7 895.7,884.9 895.9,940.4 896.1,906 896.3,940.5 896.5,960.1 896.8,993.9 897,1032.6 897.2,1013.4 897.4,1030.8 897.7,1023 897.9,1075.4 898.1,1050.4 898.3,1032.8 898.6,1028.3 898.8,1054.1 899,1058.1 899.2,1073.6 899.4,1051 899.7,1068.8 899.9,1066.4 900.1,1055.7 900.3,1075.6 900.6,1075.8 900.8,1076.1 901,1079 901.2,1081.9 901.5,1068.7 901.7,1068.9 901.9,1082.3 902.1,1092.9 902.3,1074.7 902.6,1080 902.8,1085.3 903,1088 903.2,1085.5 903.5,1085.6 903.7,1090.8 903.9,1088.3 904.1,1096 904.4,1085.8 904.6,1098.6 904.8,1068.2 905,1093.6 905.3,1091.1 905.5,1086.1 905.7,1096.2 905.9,1086.2 906.1,1083.6 906.4,1076.1 906.6,1093.7 906.8,1086.2 907,1091.2 907.3,1096.2 907.5,1101.2 907.7,1093.7 907.9,1091.2 908.2,1088.7 908.4,1098.7 908.6,1088.7 908.8,1096.2 909,1093.7 909.3,1083.7 909.5,1088.7 909.7,1098.7 909.9,1093.7 910.2,1101.2 910.4,1088.7 910.6,1096.2 910.8,1098.7 911.1,1091.2 911.3,1083.7 911.5,1098.7 911.7,1096.2 911.9,1096.2 912.2,1091.2 912.4,1101.2 912.6,1093.7 912.8,1091.2 913.1,1103.7 913.3,1101.2 913.5,1086.2 913.7,1103.7 914,1091.2 914.2,1088.7 914.4,1101.2 914.6,1093.7 914.9,1081.2 915.1,1091.2 915.3,1093.7 915.5,1093.7 915.7,1098.7 916,1096.2 916.2,1103.7 916.4,1091.2 916.6,1098.7 916.9,1101.2 917.1,1096.2 917.3,1091.2 917.5,1093.7 917.8,1093.7 918,1098.7 918.2,1103.7 918.4,1098.7 918.6,1098.7 918.9,1103.7 919.1,1093.7 919.3,1103.7 919.5,1098.7 919.8,1103.7 920,1101.2 920.2,1098.7 920.4,1096.2 920.7,1101.2 920.9,1098.7 921.1,1101.2 921.3,1096.2 921.5,1103.7 921.8,1096.2 922,1083.8 922.2,1098.7 922.4,1096.2 922.7,1101.2 922.9,1101.2 923.1,1098.7 923.3,1096.2 923.6,1098.7 923.8,1093.7 924,1096.2 924.2,1096.2 924.5,1098.7 924.7,1088.8 924.9,1096.2 925.1,1101.2 925.3,1098.7 925.6,1098.7 925.8,1098.7 926,1101.2 926.2,1086.3 926.5,1096.3 926.7,1101.2 926.9,1108.7 927.1,1101.2 927.4,1098.7 927.6,1096.3 927.8,1096.3 928,1098.7 928.2,1101.2 928.5,1093.8 928.7,1103.7 928.9,1098.7 929.1,1101.2 929.4,1101.2 929.6,1103.7 929.8,1106.2 930,1096.3 930.3,1101.2 930.5,1101.2 930.7,1101.2 930.9,1103.7 931.1,1098.8 931.4,1098.8 931.6,1096.3 931.8,1096.3 932,1098.8 932.3,1106.2 932.5,1098.8 932.7,1096.3 932.9,1096.3 933.2,1098.8 933.4,1101.2 933.6,1088.8 933.8,1088.8 934.1,1091.3 934.3,1101.2 934.5,1098.8 934.7,1106.2 934.9,1098.8 935.2,1098.8 935.4,1101.3 935.6,1103.7 935.8,1101.3 936.1,1096.3 936.3,1096.3 936.5,1101.3 936.7,1101.3 937,1093.8 937.2,1101.3 937.4,1096.3 937.6,1101.3 937.8,1096.3 938.1,1093.8 938.3,1098.8 938.5,1098.8 938.7,1098.8 939,1101.3 939.2,1101.3 939.4,1106.2 939.6,1093.8 939.9,1101.3 940.1,1091.3 940.3,1106.2 940.5,1103.7 940.7,1096.3 941,1093.8 941.2,1096.3 941.4,1101.3 941.6,1098.8 941.9,1093.8 942.1,1101.3 942.3,1093.8 942.5,1103.7 942.8,1093.8 943,1096.3 943.2,1093.8 943.4,1098.8 943.7,1093.8 943.9,1098.8 944.1,1096.3 944.3,1101.3 944.5,1096.3 944.8,1106.2 945,1101.3 945.2,1101.3 945.4,1098.8 945.7,1103.7 945.9,1106.2 946.1,1103.7 946.3,1106.2 946.6,1096.3 946.8,1101.3 947,1098.8 947.2,1101.3 947.4,1093.9 947.7,1101.3 947.9,1098.8 948.1,1098.8 948.3,1084 948.6,1091.4 948.8,1096.3 949,1096.3 949.2,1098.8 949.5,1098.8 949.7,1098.8 949.9,1106.2 950.1,1103.8 950.3,1101.3 950.6,1096.3 950.8,1106.2 951,1103.8 951.2,1103.8 951.5,1098.8 951.7,1103.8 951.9,1106.2 952.1,1101.3 952.4,1101.3 952.6,1096.3 952.8,1098.8 953,1101.3 953.2,1096.4 953.5,1098.8 953.7,1101.3 953.9,1096.4 954.1,1093.9 954.4,1093.9 954.6,1098.8 954.8,1101.3 955,1103.8 955.3,1089 955.5,1093.9 955.7,1098.8 955.9,1103.8 956.2,1091.4 956.4,1089 956.6,1086.5 956.8,1098.8 957,1098.8 957.3,1101.3 957.5,1106.2 957.7,1106.2 957.9,1098.8 958.2,1101.3 958.4,1103.8 958.6,1093.9 958.8,1093.9 959.1,1098.8 959.3,1096.4 959.5,1093.9 959.7,1101.3 959.9,1098.8 960.2,1098.8 960.4,1096.4 960.6,1103.8 960.8,1103.8 961.1,1103.8 961.3,1101.3 961.5,1101.3 961.7,1101.3 962,1098.8 962.2,1103.8 962.4,1093.9 962.6,1096.4 962.8,1093.9 963.1,1098.8 963.3,1101.3 963.5,1101.3 963.7,1098.9 964,1096.4 964.2,1103.8 964.4,1098.9 964.6,1096.4 964.9,1101.3 965.1,1101.3 965.3,1093.9 965.5,1089 965.8,1096.4 966,1093.9 966.2,1101.3 966.4,1098.9 966.6,1103.8 966.9,1093.9 967.1,1098.9 967.3,1091.5 967.5,1096.4 967.8,1093.9 968,1098.9 968.2,1108.7 968.4,1098.9 968.7,1089 968.9,1094 969.1,1096.4 969.3,1096.4 969.5,1094 969.8,1101.3 970,1096.4 970.2,1098.9 970.4,1101.3 970.7,1098.9 970.9,1096.4 971.1,1103.8 971.3,1091.5 971.6,1096.4 971.8,1094 972,1086.6 972.2,1096.4 972.4,1086.6 972.7,1101.3 972.9,1091.5 973.1,1086.6 973.3,1103.8 973.6,1096.4 973.8,1086.6 974,1079.2 974.2,1086.6 974.5,1101.3 974.7,1096.3 974.9,1091.3 975.1,1086.3 975.4,1091.2 975.6,1093.6 975.8,1083.5 976,1075.7 976.2,1080.7 976.5,1075.4 976.7,1098.4 976.9,1067.3 977.1,1080.1 977.4,1077.3 977.6,1053.4 977.8,1087.5 978,1058 978.3,1079.2 978.5,1073.6 978.7,1062.5 978.9,1062.2 979.1,1067.4 979.4,1075.4 979.6,1075.2 979.8,1060.9 980,1069.1 980.3,1051.7 980.5,1048.4 980.7,1059.6 980.9,1073.8 981.2,1032.7 981.4,1029.1 981.6,1043.6 981.8,1049.2 982,1046 982.3,1060.7 982.5,1060.5 982.7,1054.3 982.9,1048.1 983.2,1054 983.4,1057 983.6,1029.1 983.8,1024.1 984.1,1053.9 984.3,1041.9 984.5,1048.1 984.7,1045.2 985,1054.5 985.2,1060.8 985.4,1058.1 985.6,1049.5 985.8,1061.6 986.1,1053.2 986.3,1056.5 986.5,1051.1 986.7,1063 987,1057.7 987.2,1083.4 987.4,1083.6 987.6,1045.1 987.9,1073.1 988.1,1070.6 988.3,1057.5 988.5,1068.6 988.7,1060.9 989,1079.7 989.2,1085.2 989.4,1069.8 989.6,1080.3 989.9,1090.8 990.1,1068 990.3,1093.5 990.5,1086.1 990.8,1088.7 991,1091.3 991.2,1086.4 991.4,1101.3 991.6,1081.7 991.9,1089.2 992.1,1096.5 992.3,1106.3 992.5,1077 992.8,1091.6 993,1098.9 993.2,1089.2 993.4,1096.5 993.7,1091.6 993.9,1103.8 994.1,1096.5 994.3,1094.1 994.6,1089.2 994.8,1089.2 995,1086.8 995.2,1091.6 995.4,1089.2 995.7,1081.9 995.9,1081.9 996.1,1094.1 996.3,1098.9 996.6,1099 996.8,1096.5 997,1106.3 997.2,1099 997.5,1101.4 997.7,1101.4 997.9,1101.4 998.1,1096.5 998.3,1091.6 998.6,1101.4 998.8,1089.2 999,1091.7 999.2,1094.1 999.5,1096.5 999.7,1096.5 999.9,1096.5 1000.1,1106.3 1000.4,1099 1000.6,1099 1000.8,1086.8 1001,1103.8 1001.2,1106.3 1001.5,1106.3 1001.7,1103.8 1001.9,1096.5 1002.1,1096.5 1002.4,1096.5 1002.6,1096.5 1002.8,1099 1003,1103.8 1003.3,1096.5 1003.5,1108.7 1003.7,1103.8 1003.9,1103.8 1004.2,1103.8 1004.4,1091.7 1004.6,1101.4 1004.8,1091.7 1005,1103.8 1005.3,1091.7 1005.5,1103.8 1005.7,1103.8 1005.9,1108.7 1006.2,1106.3 1006.4,1101.4 1006.6,1106.3 1006.8,1103.8 1007.1,1106.3 1007.3,1101.4 1007.5,1108.7 1007.7,1101.4 1007.9,1103.8 1008.2,1101.4 1008.4,1101.4 1008.6,1096.6 1008.8,1096.6 1009.1,1099 1009.3,1106.3 1009.5,1101.4 1009.7,1099 1010,1094.1 1010.2,1099 1010.4,1101.4 1010.6,1099 1010.8,1103.8 1011.1,1094.1 1011.3,1103.8 1011.5,1099 1011.7,1096.6 1012,1099 1012.2,1099 1012.4,1099 1012.6,1103.8 1012.9,1096.6 1013.1,1099 1013.3,1096.6 1013.5,1106.3 1013.7,1096.6 1014,1099 1014.2,1096.6 1014.4,1103.9 1014.6,1106.3 1014.9,1108.7 1015.1,1103.9 1015.3,1099 1015.5,1101.4 1015.8,1096.6 1016,1089.3 1016.2,1106.3 1016.4,1101.4 1016.7,1103.9 1016.9,1096.6 1017.1,1103.9 1017.3,1099 1017.5,1103.9 1017.8,1096.6 1018,1103.9 1018.2,1101.4 1018.4,1099 1018.7,1101.4 1018.9,1101.4 1019.1,1106.3 1019.3,1101.4 1019.6,1106.3 1019.8,1103.9 1020,1103.9 1020.2,1106.3 1020.4,1108.7 1020.7,1101.4 1020.9,1101.4 1021.1,1103.9 1021.3,1101.4 1021.6,1108.7 1021.8,1101.4 1022,1091.8 1022.2,1096.6 1022.5,1101.4 1022.7,1091.8 1022.9,1101.4 1023.1,1103.9 1023.3,1099 1023.6,1099 1023.8,1101.4 1024,1094.2 1024.2,1101.5 1024.5,1106.3 1024.7,1091.8 1024.9,1099 1025.1,1094.2 1025.4,1101.5 1025.6,1099 1025.8,1106.3 1026,1096.6 1026.3,1089.4 1026.5,1106.3 1026.7,1101.5 1026.9,1103.9 1027.1,1106.3 1027.4,1101.5 1027.6,1103.9 1027.8,1094.2 1028,1099 1028.3,1103.9 1028.5,1103.9 1028.7,1108.7 1028.9,1101.5 1029.2,1101.5 1029.4,1101.5 1029.6,1103.9 1029.8,1103.9 1030,1103.9 1030.3,1101.5 1030.5,1099.1 1030.7,1103.9 1030.9,1091.8 1031.2,1106.3 1031.4,1101.5 1031.6,1096.6 1031.8,1101.5 1032.1,1103.9 1032.3,1101.5 1032.5,1089.4 1032.7,1099.1 1032.9,1101.5 1033.2,1106.3 1033.4,1099.1 1033.6,1099.1 1033.8,1099.1 1034.1,1099.1 1034.3,1099.1 1034.5,1106.3 1034.7,1099.1 1035,1103.9 1035.2,1101.5 1035.4,1103.9 1035.6,1096.7 1035.9,1103.9 1036.1,1101.5 1036.3,1099.1 1036.5,1106.3 1036.7,1101.5 1037,1099.1 1037.2,1106.3 1037.4,1101.5 1037.6,1099.1 1037.9,1101.5 1038.1,1099.1 1038.3,1103.9 1038.5,1096.7 1038.8,1101.5 1039,1096.7 1039.2,1106.3 1039.4,1099.1 1039.6,1091.9 1039.9,1101.5 1040.1,1099.1 1040.3,1099.1 1040.5,1103.9 1040.8,1106.3 1041,1099.1 1041.2,1103.9 1041.4,1096.7 1041.7,1099.1 1041.9,1101.5 1042.1,1103.9 1042.3,1103.9 1042.5,1096.7 1042.8,1099.1 1043,1096.7 1043.2,1103.9 1043.4,1096.7 1043.7,1099.1 1043.9,1099.1 1044.1,1103.9 1044.3,1101.5 1044.6,1103.9 1044.8,1096.7 1045,1106.3 1045.2,1094.3 1045.5,1099.1 1045.7,1091.9 1045.9,1099.1 1046.1,1106.3 1046.3,1101.5 1046.6,1101.5 1046.8,1108.7 1047,1101.5 1047.2,1106.3 1047.5,1099.1 1047.7,1099.1 1047.9,1094.3 1048.1,1108.7 1048.4,1101.5 1048.6,1101.5 1048.8,1101.5 1049,1103.9 1049.2,1103.9 1049.5,1108.7 1049.7,1103.9 1049.9,1096.7 1050.1,1101.5 1050.4,1096.7 1050.6,1099.1 1050.8,1108.7 1051,1094.3 1051.3,1103.9 1051.5,1096.7 1051.7,1099.1 1051.9,1101.5 1052.1,1101.5 1052.4,1108.7 1052.6,1106.3 1052.8,1106.3 1053,1101.5 1053.3,1099.1 1053.5,1094.3 1053.7,1106.3 1053.9,1099.1 1054.2,1103.9 1054.4,1108.7 1054.6,1103.9 1054.8,1094.3 1055.1,1103.9 1055.3,1106.3 1055.5,1101.5 1055.7,1108.7 1055.9,1099.1 1056.2,1103.9 1056.4,1096.7 1056.6,1103.9 1056.8,1099.1 1057.1,1099.1 1057.3,1108.7 1057.5,1101.5 1057.7,1106.3 1058,1101.5 1058.2,1099.1 1058.4,1101.5 1058.6,1106.3 1058.8,1106.3 1059.1,1087.2 1059.3,1101.5 1059.5,1101.5 1059.7,1096.7 1060,1096.8 1060.2,1106.3 1060.4,1099.1 1060.6,1106.3 1060.9,1108.7 1061.1,1108.7 1061.3,1108.7 1061.5,1103.9 1061.7,1106.3 1062,1099.1 1062.2,1099.1 1062.4,1099.1 1062.6,1108.7 1062.9,1103.9 1063.1,1101.5 1063.3,1099.2 1063.5,1094.4 1063.8,1101.5 1064,1094.4 1064.2,1094.4 1064.4,1101.5 1064.6,1096.8 1064.9,1099.2 1065.1,1101.5 1065.3,1096.8 1065.5,1099.2 1065.8,1103.9 1066,1099.2 1066.2,1096.8 1066.4,1106.3 1066.7,1094.4 1066.9,1099.2 1067.1,1103.9 1067.3,1101.5 1067.6,1103.9 1067.8,1103.9 1068,1099.2 1068.2,1092 1068.4,1099.2 1068.7,1106.3 1068.9,1099.2 1069.1,1089.6 1069.3,1094.4 1069.6,1103.9 1069.8,1108.7 1070,1106.3 1070.2,1096.8 1070.5,1106.3 1070.7,1108.7 1070.9,1096.8 1071.1,1106.3 1071.3,1101.6 1071.6,1101.6 1071.8,1106.3 1072,1101.6 1072.2,1101.6 1072.5,1099.2 1072.7,1094.4 1072.9,1108.7 1073.1,1103.9 1073.4,1101.6 1073.6,1099.2 1073.8,1103.9 1074,1094.4 1074.2,1108.7 1074.5,1106.3 1074.7,1103.9 1074.9,1094.4 1075.1,1101.6 1075.4,1101.6 1075.6,1094.4 1075.8,1101.6 1076,1108.7 1076.3,1101.6 1076.5,1099.2 1076.7,1101.6 1076.9,1103.9 1077.2,1103.9 1077.4,1101.6 1077.6,1101.6 1077.8,1096.8 1078,1103.9 1078.3,1106.3 1078.5,1101.6 1078.7,1106.3 1078.9,1103.9 1079.2,1108.7 1079.4,1103.9 1079.6,1096.8 1079.8,1101.6 1080.1,1106.3 1080.3,1104 1080.5,1104 1080.7,1106.3 1080.9,1096.8 1081.2,1108.7 1081.4,1094.5 1081.6,1099.2 1081.8,1099.2 1082.1,1096.8 1082.3,1099.2 1082.5,1106.3 1082.7,1106.3 1083,1101.6 1083.2,1099.2 1083.4,1094.5 1083.6,1101.6 1083.8,1106.3 1084.1,1099.2 1084.3,1104 1084.5,1106.3 1084.7,1104 1085,1108.7 1085.2,1101.6 1085.4,1104 1085.6,1106.3 1085.9,1092.1 1086.1,1104 1086.3,1096.8 1086.5,1101.6 1086.8,1106.3 1087,1096.9 1087.2,1101.6 1087.4,1099.2 1087.6,1101.6 1087.9,1096.9 1088.1,1106.3 1088.3,1096.9 1088.5,1099.2 1088.8,1094.5 1089,1106.3 1089.2,1104 1089.4,1101.6 1089.7,1106.3 1089.9,1101.6 1090.1,1101.6 1090.3,1104 1090.5,1106.3 1090.8,1104 1091,1096.9 1091.2,1104 1091.4,1101.6 1091.7,1099.2 1091.9,1094.5 1092.1,1099.2 1092.3,1108.7 1092.6,1096.9 1092.8,1101.6 1093,1104 1093.2,1096.9 1093.4,1101.6 1093.7,1106.3 1093.9,1106.3 1094.1,1094.5 1094.3,1106.3 1094.6,1101.6 1094.8,1101.6 1095,1104 1095.2,1106.3 1095.5,1104 1095.7,1096.9 1095.9,1104 1096.1,1106.3 1096.4,1106.3 1096.6,1096.9 1096.8,1092.2 1097,1096.9 1097.2,1099.3 1097.5,1104 1097.7,1101.6 1097.9,1104 1098.1,1096.9 1098.4,1094.5 1098.6,1104 1098.8,1104 1099,1108.7 1099.3,1104 1099.5,1101.6 1099.7,1096.9 1099.9,1104 1100.1,1099.3 1100.4,1108.7 1100.6,1094.5 1100.8,1108.7 1101,1094.5 1101.3,1104 1101.5,1099.3 1101.7,1104 1101.9,1096.9 1102.2,1108.7 1102.4,1104 1102.6,1099.3 1102.8,1094.6 1103,1106.3 1103.3,1104 1103.5,1104 1103.7,1101.6 1103.9,1096.9 1104.2,1085.1 1104.4,1106.3 1104.6,1106.3 1104.8,1106.3 1105.1,1104 1105.3,1106.3 1105.5,1104 1105.7,1104 1106,1108.7 1106.2,1099.3 1106.4,1101.6 1106.6,1104 1106.8,1106.3 1107.1,1104 1107.3,1104 1107.5,1106.3 1107.7,1094.6 1108,1101.6 1108.2,1096.9 1108.4,1099.3 1108.6,1096.9 1108.9,1106.3 1109.1,1101.6 1109.3,1101.6 1109.5,1104 1109.7,1101.6 1110,1108.7 1110.2,1101.6 1110.4,1106.3 1110.6,1104 1110.9,1099.3 1111.1,1108.7 1111.3,1104 1111.5,1104 1111.8,1096.9 1112,1096.9 1112.2,1108.7 1112.4,1104 1112.6,1106.3 1112.9,1108.7 1113.1,1101.7 1113.3,1106.4 1113.5,1106.4 1113.8,1106.4 1114,1101.7 1114.2,1104 1114.4,1106.4 1114.7,1106.4 1114.9,1094.6 1115.1,1101.7 1115.3,1099.3 1115.5,1104 1115.8,1097 1116,1104 1116.2,1104 1116.4,1101.7 1116.7,1099.3 1116.9,1097 1117.1,1101.7 1117.3,1106.4 1117.6,1099.3 1117.8,1104 1118,1104 1118.2,1097 1118.5,1104 1118.7,1094.6 1118.9,1101.7 1119.1,1101.7 1119.3,1101.7 1119.6,1106.4 1119.8,1101.7 1120,1097 1120.2,1106.4 1120.5,1104 1120.7,1106.4 1120.9,1101.7 1121.1,1101.7 1121.4,1104 1121.6,1101.7 1121.8,1099.3 1122,1099.3 1122.2,1101.7 1122.5,1097 1122.7,1099.3 1122.9,1097 1123.1,1104 1123.4,1108.7 1123.6,1108.7 1123.8,1104 1124,1104 1124.3,1094.7 1124.5,1101.7 1124.7,1104 1124.9,1108.7 1125.1,1104 1125.4,1106.4 1125.6,1106.4 1125.8,1101.7 1126,1101.7 1126.3,1104 1126.5,1104 1126.7,1099.3 1126.9,1099.3 1127.2,1104 1127.4,1104 1127.6,1101.7 1127.8,1099.3 1128.1,1104 1128.3,1101.7 1128.5,1104 1128.7,1099.3 1128.9,1104 1129.2,1094.7 1129.4,1108.7 1129.6,1104 1129.8,1097 1130.1,1099.4 1130.3,1106.4 1130.5,1108.7 1130.7,1104 1131,1097 1131.2,1101.7 1131.4,1104 1131.6,1106.4 1131.8,1104 1132.1,1104 1132.3,1099.4 1132.5,1104 1132.7,1101.7 1133,1101.7 1133.2,1101.7 1133.4,1101.7 1133.6,1106.4 1133.9,1101.7 1134.1,1097 1134.3,1101.7 1134.5,1104 1134.7,1099.4 1135,1101.7 1135.2,1106.4 1135.4,1108.7 1135.6,1101.7 1135.9,1104 1136.1,1101.7 1136.3,1104 1136.5,1097 1136.8,1092.4 1137,1101.7 1137.2,1106.4 1137.4,1099.4 1137.7,1104 1137.9,1104 1138.1,1101.7 1138.3,1104 1138.5,1101.7 1138.8,1108.7 1139,1101.7 1139.2,1099.4 1139.4,1108.7 1139.7,1101.7 1139.9,1101.7 1140.1,1092.4 1140.3,1101.7 1140.6,1104 1140.8,1106.4 1141,1108.7 1141.2,1099.4 1141.4,1094.7 1141.7,1106.4 1141.9,1104 1142.1,1101.7 1142.3,1099.4 1142.6,1104 1142.8,1104 1143,1106.4 1143.2,1099.4 1143.5,1101.7 1143.7,1101.7 1143.9,1104 1144.1,1108.7 1144.3,1106.4 1144.6,1101.7 1144.8,1097.1 1145,1104 1145.2,1099.4 1145.5,1104 1145.7,1106.4 1145.9,1104 1146.1,1104 1146.4,1104 1146.6,1104.1 1146.8,1101.7 1147,1099.4 1147.3,1106.4 1147.5,1108.7 1147.7,1101.7 1147.9,1106.4 1148.1,1106.4 1148.4,1104.1 1148.6,1101.7 1148.8,1094.8 1149,1092.4 1149.3,1104.1 1149.5,1104.1 1149.7,1104.1 1149.9,1101.7 1150.2,1106.4 1150.4,1097.1 1150.6,1092.4 1150.8,1099.4 1151,1099.4 1151.3,1104.1 1151.5,1101.7 1151.7,1101.7 1151.9,1101.7 1152.2,1092.5 1152.4,1101.7 1152.6,1092.5 1152.8,1106.4 1153.1,1099.4 1153.3,1099.4 1153.5,1101.7 1153.7,1104.1 1153.9,1106.4 1154.2,1101.7 1154.4,1108.7 1154.6,1099.4 1154.8,1104.1 1155.1,1094.8 1155.3,1099.4 1155.5,1101.7 1155.7,1101.7 1156,1104.1 1156.2,1108.7 1156.4,1101.7 1156.6,1097.1 1156.9,1106.4 1157.1,1104.1 1157.3,1099.4 1157.5,1097.1 1157.7,1097.1 1158,1101.8 1158.2,1099.4 1158.4,1106.4 1158.6,1101.8 1158.9,1099.4 1159.1,1099.4 1159.3,1097.1 1159.5,1106.4 1159.8,1090.2 1160,1099.4 1160.2,1106.4 1160.4,1099.4 1160.6,1108.7 1160.9,1099.4 1161.1,1108.7 1161.3,1094.8 1161.5,1097.1 1161.8,1099.4 1162,1097.1 1162.2,1099.4 1162.4,1106.4 1162.7,1101.8 1162.9,1104.1 1163.1,1099.5 1163.3,1101.8 1163.5,1104.1 1163.8,1101.8 1164,1099.5 1164.2,1104.1 1164.4,1101.8 1164.7,1094.8 1164.9,1104.1 1165.1,1108.7 1165.3,1094.8 1165.6,1094.8 1165.8,1099.5 1166,1104.1 1166.2,1106.4 1166.5,1099.5 1166.7,1097.2 1166.9,1097.2 1167.1,1104.1 1167.3,1101.8 1167.6,1099.5 1167.8,1097.2 1168,1101.8 1168.2,1106.4 1168.5,1101.8 1168.7,1104.1 1168.9,1104.1 1169.1,1101.8 1169.4,1099.5 1169.6,1097.2 1169.8,1104.1 1170,1099.5 1170.2,1099.5 1170.5,1106.4 1170.7,1099.5 1170.9,1108.7 1171.1,1092.6 1171.4,1097.2 1171.6,1101.8 1171.8,1099.5 1172,1094.9 1172.3,1094.9 1172.5,1108.7 1172.7,1099.5 1172.9,1101.8 1173.1,1097.2 1173.4,1099.5 1173.6,1104.1 1173.8,1104.1 1174,1097.2 1174.3,1094.9 1174.5,1101.8 1174.7,1104.1 1174.9,1097.2 1175.2,1099.5 1175.4,1099.5 1175.6,1099.5 1175.8,1099.5 1176,1094.9 1176.3,1094.9 1176.5,1088 1176.7,1101.8 1176.9,1094.9 1177.2,1092.6 1177.4,1097.2 1177.6,1097.2 1177.8,1101.8 1178.1,1099.5 1178.3,1099.5 1178.5,1085.7 1178.7,1104.1 1179,1097.2 1179.2,1099.5 1179.4,1094.9 1179.6,1088 1179.8,1099.5 1180.1,1090.3 1180.3,1101.8 1180.5,1088 1180.7,1097.2 1181,1097.2 1181.2,1090.3 1181.4,1085.7 1181.6,1099.5 1181.9,1092.6 1182.1,1099.5 1182.3,1094.9 1182.5,1090.3 1182.7,1088 1183,1090.3 1183.2,1088 1183.4,1078.8 1183.6,1094.9 1183.9,1099.5 1184.1,1085.7 1184.3,1094.9 1184.5,1088 1184.8,1094.9 1185,1094.9 1185.2,1085.7 1185.4,1097.2 1185.6,1092.6 1185.9,1085.7 1186.1,1094.9 1186.3,1085.7 1186.5,1094.9 1186.8,1094.9 1187,1101.8 1187.2,1104.1 1187.4,1094.9 1187.7,1085.8 1187.9,1078.9 1188.1,1090.4 1188.3,1094.9 1188.6,1085.8 1188.8,1094.9 1189,1088.1 1189.2,1083.5 1189.4,1101.8 1189.7,1090.4 1189.9,1092.7 1190.1,1078.9 1190.3,1092.7 1190.6,1094.9 1190.8,1088 1191,1088 1191.2,1094.9 1191.5,1094.8 1191.7,1080.9 1191.9,1090.2 1192.1,1085.5 1192.3,1078.4 1192.6,1087.7 1192.8,1080.6 1193,1092.3 1193.2,1080.4 1193.5,1092.2 1193.7,1082.6 1193.9,1089.7 1194.1,1070.5 1194.4,1075.1 1194.6,1087 1194.8,1070 1195,1089.3 1195.2,1077 1195.5,1089.1 1195.7,1071.7 1195.9,1076.5 1196.1,1086.3 1196.4,1083.6 1196.6,1055.8 1196.8,1073.2 1197,1062.8 1197.3,1072.8 1197.5,1062.2 1197.7,1064.5 1197.9,1059 1198.2,1069.2 1198.4,1050.3 1198.6,1071.3 1198.8,1044.2 1199,1062.7 1199.3,1056.9 1199.5,1040 1199.7,1067.2 1199.9,1064.1 1200.2,1055.4 1200.4,1035.3 1200.6,1031.9 1200.8,1045.8 1201.1,1019 1201.3,1036.3 1201.5,1056.2 1201.7,1032.5 1201.9,1041 1202.2,1049.5 1202.4,1019 1202.6,1037.1 1202.8,1039.8 1203.1,1036.6 1203.3,1019 1203.5,1033.2 1203.7,1014 1204,1020.9 1204.2,1042.1 1204.4,1027 1204.6,1048.2 1204.8,1021.2 1205.1,1048.5 1205.3,1048.6 1205.5,1048.9 1205.7,1034.2 1206,1040.5 1206.2,1049.6 1206.4,1029.4 1206.6,1029.9 1206.9,1050.7 1207.1,1039.5 1207.3,1031.4 1207.5,1043.4 1207.8,1029.7 1208,1044.3 1208.2,1053.2 1208.4,1037.1 1208.6,1051.3 1208.9,1046.4 1209.1,1046.9 1209.3,1063.4 1209.5,1079.6 1209.8,1058.9 1210,1059.3 1210.2,1062.3 1210.4,1070.4 1210.7,1063.1 1210.9,1066 1211.1,1081.3 1211.3,1081.5 1211.5,1069.4 1211.8,1072.1 1212,1072.4 1212.2,1067.8 1212.4,1080 1212.7,1087.3 1212.9,1085.1 1213.1,1082.9 1213.3,1094.7 1213.6,1094.8 1213.8,1094.9 1214,1092.6 1214.2,1088.2 1214.4,1088.2 1214.7,1088.2 1214.9,1095.1 1215.1,1095.1 1215.3,1088.2 1215.6,1088.2 1215.8,1099.6 1216,1095.1 1216.2,1099.6 1216.5,1092.8 1216.7,1097.3 1216.9,1099.6 1217.1,1104.2 1217.4,1095.1 1217.6,1088.3 1217.8,1099.6 1218,1101.9 1218.2,1092.8 1218.5,1097.3 1218.7,1097.3 1218.9,1095.1 1219.1,1095.1 1219.4,1106.4 1219.6,1104.2 1219.8,1092.8 1220,1097.4 1220.3,1104.2 1220.5,1099.6 1220.7,1097.4 1220.9,1097.4 1221.1,1101.9 1221.4,1101.9 1221.6,1097.4 1221.8,1104.2 1222,1092.8 1222.3,1095.1 1222.5,1099.6 1222.7,1108.7 1222.9,1097.4 1223.2,1095.1 1223.4,1088.3 1223.6,1092.8 1223.8,1099.6 1224,1106.4 1224.3,1097.4 1224.5,1097.4 1224.7,1095.1 1224.9,1099.6 1225.2,1104.2 1225.4,1097.4 1225.6,1095.1 1225.8,1106.4 1226.1,1104.2 1226.3,1099.6 1226.5,1104.2 1226.7,1106.4 1226.9,1106.4 1227.2,1101.9 1227.4,1104.2 1227.6,1104.2 1227.8,1104.2 1228.1,1097.4 1228.3,1099.6 1228.5,1106.4 1228.7,1101.9 1229,1108.7 1229.2,1104.2 1229.4,1104.2 1229.6,1099.6 1229.9,1104.2 1230.1,1101.9 1230.3,1099.7 1230.5,1099.7 1230.7,1099.7 1231,1106.4 1231.2,1101.9 1231.4,1106.4 1231.6,1104.2 1231.9,1101.9 1232.1,1104.2 1232.3,1104.2 1232.5,1104.2 1232.8,1099.7 1233,1101.9 1233.2,1095.1 1233.4,1104.2 1233.6,1099.7 1233.9,1101.9 1234.1,1097.4 1234.3,1104.2 1234.5,1106.4 1234.8,1104.2 1235,1101.9 1235.2,1101.9 1235.4,1097.4 1235.7,1101.9 1235.9,1101.9 1236.1,1104.2 1236.3,1099.7 1236.5,1108.7 1236.8,1101.9 1237,1101.9 1237.2,1099.7 1237.4,1097.4 1237.7,1099.7 1237.9,1090.7 1238.1,1106.4 1238.3,1106.4 1238.6,1099.7 1238.8,1106.4 1239,1101.9 1239.2,1104.2 1239.5,1101.9 1239.7,1104.2 1239.9,1099.7 1240.1,1106.4 1240.3,1099.7 1240.6,1104.2 1240.8,1092.9 1241,1106.4 1241.2,1092.9 1241.5,1101.9 1241.7,1101.9 1241.9,1099.7 1242.1,1099.7 1242.4,1093 1242.6,1088.5 1242.8,1093 1243,1093 1243.2,1106.5 1243.5,1099.7 1243.7,1104.2 1243.9,1108.7 1244.1,1102 1244.4,1104.2 1244.6,1099.7 1244.8,1102 1245,1108.7 1245.3,1104.2 1245.5,1099.7 1245.7,1102 1245.9,1104.2 1246.1,1106.5 1246.4,1099.7 1246.6,1102 1246.8,1104.2 1247,1106.5 1247.3,1093 1247.5,1095.2 1247.7,1095.2 1247.9,1095.2 1248.2,1104.2 1248.4,1102 1248.6,1097.5 1248.8,1104.2 1249.1,1102 1249.3,1102 1249.5,1102 1249.7,1099.7 1249.9,1104.2 1250.2,1106.5 1250.4,1104.2 1250.6,1104.2 1250.8,1095.3 1251.1,1102 1251.3,1102 1251.5,1104.2 1251.7,1106.5 1252,1097.5 1252.2,1102 1252.4,1099.7 1252.6,1108.7 1252.8,1093 1253.1,1102 1253.3,1102 1253.5,1099.8 1253.7,1099.8 1254,1099.8 1254.2,1106.5 1254.4,1099.8 1254.6,1104.2 1254.9,1102 1255.1,1099.8 1255.3,1099.8 1255.5,1102 1255.7,1108.7 1256,1102 1256.2,1099.8 1256.4,1104.2 1256.6,1104.2 1256.9,1099.8 1257.1,1097.5 1257.3,1099.8 1257.5,1093.1 1257.8,1095.3 1258,1095.3 1258.2,1097.5 1258.4,1102 1258.7,1102 1258.9,1106.5 1259.1,1102 1259.3,1102 1259.5,1106.5 1259.8,1102 1260,1104.2 1260.2,1099.8 1260.4,1099.8 1260.7,1104.2 1260.9,1108.7 1261.1,1104.2 1261.3,1099.8 1261.6,1104.2 1261.8,1104.2 1262,1099.8 1262.2,1108.7 1262.4,1104.2 1262.7,1104.2 1262.9,1095.3 1263.1,1102 1263.3,1106.5 1263.6,1104.2 1263.8,1102 1264,1102 1264.2,1099.8 1264.5,1093.1 1264.7,1106.5 1264.9,1106.5 1265.1,1104.3 1265.3,1104.3 1265.6,1104.3 1265.8,1102 1266,1102 1266.2,1106.5 1266.5,1102 1266.7,1099.8 1266.9,1104.3 1267.1,1106.5 1267.4,1104.3 1267.6,1102 1267.8,1102 1268,1104.3 1268.3,1106.5 1268.5,1102 1268.7,1104.3 1268.9,1097.6 1269.1,1102 1269.4,1099.8 1269.6,1104.3 1269.8,1104.3 1270,1102 1270.3,1104.3 1270.5,1102 1270.7,1106.5 1270.9,1102 1271.2,1102 1271.4,1099.8 1271.6,1102.1 1271.8,1097.6 1272,1095.4 1272.3,1099.8 1272.5,1102.1 1272.7,1106.5 1272.9,1099.8 1273.2,1106.5 1273.4,1099.8 1273.6,1106.5 1273.8,1102.1 1274.1,1102.1 1274.3,1106.5 1274.5,1104.3 1274.7,1095.4 1274.9,1088.8 1275.2,1097.6 1275.4,1106.5 1275.6,1099.9 1275.8,1097.6 1276.1,1102.1 1276.3,1097.6 1276.5,1102.1 1276.7,1097.6 1277,1106.5 1277.2,1104.3 1277.4,1099.9 1277.6,1102.1 1277.8,1108.7 1278.1,1099.9 1278.3,1108.7 1278.5,1102.1 1278.7,1097.7 1279,1099.9 1279.2,1099.9 1279.4,1097.7 1279.6,1091 1279.9,1102.1 1280.1,1102.1 1280.3,1099.9 1280.5,1104.3 1280.8,1093.3 1281,1099.9 1281.2,1099.9 1281.4,1093.3 1281.6,1106.5 1281.9,1104.3 1282.1,1104.3 1282.3,1106.5 1282.5,1106.5 1282.8,1106.5 1283,1093.3 1283.2,1102.1 1283.4,1104.3 1283.7,1104.3 1283.9,1102.1 1284.1,1108.7 1284.3,1104.3 1284.5,1108.7 1284.8,1093.3 1285,1093.3 1285.2,1104.3 1285.4,1106.5 1285.7,1099.9 1285.9,1104.3 1286.1,1104.3 1286.3,1104.3 1286.6,1095.5 1286.8,1102.1 1287,1106.5 1287.2,1102.1 1287.4,1091.1 1287.7,1099.9 1287.9,1099.9 1288.1,1097.7 1288.3,1104.3 1288.6,1108.7 1288.8,1099.9 1289,1102.1 1289.2,1102.1 1289.5,1104.3 1289.7,1102.1 1289.9,1102.1 1290.1,1106.5 1290.4,1097.7 1290.6,1095.5 1290.8,1099.9 1291,1104.3 1291.2,1097.7 1291.5,1099.9 1291.7,1093.3 1291.9,1104.3 1292.1,1104.3 1292.4,1099.9 1292.6,1095.5 1292.8,1097.7 1293,1102.1 1293.3,1104.3 1293.5,1097.7 1293.7,1091.2 1293.9,1097.7 1294.1,1102.1 1294.4,1106.5 1294.6,1102.1 1294.8,1102.1 1295,1102.1 1295.3,1093.4 1295.5,1097.8 1295.7,1095.6 1295.9,1099.9 1296.2,1099.9 1296.4,1097.8 1296.6,1095.6 1296.8,1099.9 1297,1095.6 1297.3,1104.3 1297.5,1104.3 1297.7,1104.3 1297.9,1095.6 1298.2,1106.5 1298.4,1106.5 1298.6,1102.1 1298.8,1097.8 1299.1,1102.1 1299.3,1102.1 1299.5,1100 1299.7,1095.6 1300,1095.6 1300.2,1104.3 1300.4,1102.1 1300.6,1100 1300.8,1100 1301.1,1102.2 1301.3,1100 1301.5,1106.5 1301.7,1091.2 1302,1093.4 1302.2,1089.1 1302.4,1106.5 1302.6,1104.3 1302.9,1091.3 1303.1,1100 1303.3,1104.3 1303.5,1100 1303.7,1102.2 1304,1102.2 1304.2,1093.4 1304.4,1100 1304.6,1097.8 1304.9,1086.9 1305.1,1104.3 1305.3,1100 1305.5,1095.6 1305.8,1102.2 1306,1106.5 1306.2,1100 1306.4,1093.5 1306.6,1102.2 1306.9,1100 1307.1,1095.6 1307.3,1106.5 1307.5,1095.6 1307.8,1097.8 1308,1102.2 1308.2,1104.3 1308.4,1097.8 1308.7,1097.8 1308.9,1093.5 1309.1,1102.2 1309.3,1100 1309.6,1104.4 1309.8,1104.4 1310,1087 1310.2,1091.3 1310.4,1097.8 1310.7,1097.8 1310.9,1100 1311.1,1095.7 1311.3,1095.7 1311.6,1093.5 1311.8,1091.3 1312,1095.7 1312.2,1095.7 1312.5,1091.3 1312.7,1093.5 1312.9,1097.9 1313.1,1102.2 1313.3,1095.7 1313.6,1102.2 1313.8,1087 1314,1091.4 1314.2,1093.5 1314.5,1089.2 1314.7,1091.4 1314.9,1089.2 1315.1,1102.2 1315.4,1093.5 1315.6,1097.9 1315.8,1097.9 1316,1097.9 1316.2,1089.2 1316.5,1087 1316.7,1097.9 1316.9,1095.7 1317.1,1095.7 1317.4,1089.2 1317.6,1084.9 1317.8,1100 1318,1080.5 1318.3,1097.8 1318.5,1084.7 1318.7,1082.4 1318.9,1071.3 1319.2,1069 1319.4,1091 1319.6,1073.2 1319.8,1086.4 1320,1084.1 1320.3,1059.3 1320.5,1070.4 1320.7,1083.8 1320.9,1083.7 1321.2,1072.1 1321.4,1078.8 1321.6,1090.2 1321.8,1064.5 1322.1,1068.9 1322.3,1061.6 1322.5,1080.2 1322.7,1077.7 1322.9,1084.6 1323.2,1062.7 1323.4,1059.9 1323.6,1064.4 1323.8,1061.5 1324.1,1056.1 1324.3,1073.3 1324.5,1062.8 1324.7,1052 1325,1051.5 1325.2,1024.6 1325.4,1063.6 1325.6,1047 1325.8,1032.8 1326.1,1031.9 1326.3,1047.7 1326.5,1033 1326.7,1026.4 1327,1045.5 1327.2,1007 1327.4,1020.5 1327.6,1019.4 1327.9,1027.4 1328.1,1014.2 1328.3,1003.9 1328.5,1005.7 1328.8,979.3 1329,993.8 1329.2,1008.7 1329.4,952.2 1329.6,986.8 1329.9,998.9 1330.1,974.4 1330.3,1010.5 1330.5,982.4 1330.8,978.1 1331,977.3 1331.2,990.5 1331.4,979.5 1331.7,954.5 1331.9,1013.8 1332.1,978.5 1332.3,944.4 1332.5,985.6 1332.8,957.8 1333,996.8 1333.2,1000.9 1333.4,984.3 1333.7,968.2 1333.9,966.1 1334.1,960.8 1334.3,995.7 1334.6,990.5 1334.8,998.4 1335,1028.7 1335.2,1023.5 1335.4,987.3 1335.7,998.2 1335.9,1002.9 1336.1,1037.2 1336.3,1035.3 1336.6,1036.3 1336.8,1006 1337,1004.6 1337.2,1017.2 1337.5,1034.8 1337.7,1049.3 1337.9,1023.4 1338.1,1042.9 1338.3,1030.7 1338.6,1049.6 1338.8,1030 1339,1063.5 1339.2,1073.9 1339.5,1064.4 1339.7,1079.5 1339.9,1072.5 1340.1,1065.6 1340.4,1070.7 1340.6,1071 1340.8,1064.3 1341,1087.8 1341.3,1051.1 1341.5,1078.9 1341.7,1083.6 1341.9,1081.5 1342.1,1083.9 1342.4,1079.5 1342.6,1086.4 1342.8,1084.2 1343,1082.1 1343.3,1084.4 1343.5,1082.3 1343.7,1088.9 1343.9,1086.8 1344.2,1086.9 1344.4,1089.1 1344.6,1089.1 1344.8,1078.3 1345,1087 1345.3,1089.2 1345.5,1089.2 1345.7,1074.1 1345.9,1087.1 1346.2,1089.3 1346.4,1089.3 1346.6,1059 1346.8,1087.1 1347.1,1087.1 1347.3,1078.4 1347.5,1076.2 1347.7,1082.7 1347.9,1080.4 1348.2,1078.2 1348.4,1084.7 1348.6,1084.6 1348.8,1084.5 1349.1,1086.6 1349.3,1073.2 1349.5,1088.6 1349.7,1084 1350,1086.1 1350.2,1079.2 1350.4,1079 1350.6,1081 1350.9,1064.5 1351.1,1075.9 1351.3,1073.2 1351.5,1065.7 1351.7,1053.2 1352,1074.6 1352.2,1071.7 1352.4,1081.3 1352.6,1065.8 1352.9,1039.7 1353.1,1051.8 1353.3,1058.9 1353.5,1047.7 1353.8,1025.4 1354,1027.1 1354.2,1045.3 1354.4,1041.7 1354.6,1021.1 1354.9,1025.7 1355.1,1018.9 1355.3,1026.7 1355.5,1005 1355.8,1007 1356,1003 1356.2,1038.6 1356.4,984.6 1356.7,984.6 1356.9,1021.7 1357.1,1040.1 1357.3,1002.3 1357.5,1011.5 1357.8,998.9 1358,1036.6 1358.2,996.2 1358.4,1018.4 1358.7,979.6 1358.9,1013.4 1359.1,1008 1359.3,1002.9 1359.6,1007 1359.8,1017 1360,994.6 1360.2,1045.2 1360.5,1026 1360.7,1013.1 1360.9,1050.5 1361.1,1051.3 1361.3,1027.8 1361.6,1031.7 1361.8,1051.1 1362,1031.3 1362.2,1047.6 1362.5,1051 1362.7,1049.3 1362.9,1069.6 1363.1,1058.1 1363.4,1070.6 1363.6,1078.1 1363.8,1069.2 1364,1083.4 1364.2,1067.8 1364.5,1077.2 1364.7,1068.6 1364.9,1068.9 1365.1,1069.3 1365.4,1084.8 1365.6,1080.7 1365.8,1091.6 1366,1095.9 1366.3,1100.2 1366.5,1096 1366.7,1085.5 1366.9,1083.4 1367.1,1091.8 1367.4,1093.9 1367.6,1087.6 1367.8,1087.6 1368,1091.8 1368.3,1087.6 1368.5,1100.3 1368.7,1094 1368.9,1089.7 1369.2,1091.8 1369.4,1094 1369.6,1098.2 1369.8,1096.1 1370.1,1100.3 1370.3,1100.3 1370.5,1094 1370.7,1106.6 1370.9,1094 1371.2,1098.2 1371.4,1089.8 1371.6,1094 1371.8,1087.7 1372.1,1100.3 1372.3,1104.5 1372.5,1096.1 1372.7,1102.4 1373,1091.9 1373.2,1108.7 1373.4,1098.2 1373.6,1108.7 1373.8,1102.4 1374.1,1106.6 1374.3,1106.6 1374.5,1102.4 1374.7,1104.5 1375,1098.2 1375.2,1100.3 1375.4,1100.3 1375.6,1096.1 1375.9,1098.2 1376.1,1102.4 1376.3,1100.3 1376.5,1100.3 1376.7,1106.6 1377,1108.7 1377.2,1094 1377.4,1098.2 1377.6,1098.2 1377.9,1094 1378.1,1100.3 1378.3,1096.1 1378.5,1104.5 1378.8,1100.3 1379,1102.4 1379.2,1096.1 1379.4,1098.2 1379.7,1098.2 1379.9,1104.5 1380.1,1100.3 1380.3,1102.4 1380.5,1094 1380.8,1102.4 1381,1098.2 1381.2,1098.2 1381.4,1102.4 1381.7,1108.7 1381.9,1102.4 1382.1,1104.5 1382.3,1104.5 1382.6,1098.2 1382.8,1100.3 1383,1108.7 1383.2,1106.6 1383.4,1096.2 1383.7,1102.4 1383.9,1098.2 1384.1,1102.4 1384.3,1100.3 1384.6,1100.3 1384.8,1094.1 1385,1100.3 1385.2,1094.1 1385.5,1102.4 1385.7,1102.4 1385.9,1100.3 1386.1,1104.5 1386.3,1104.5 1386.6,1100.4 1386.8,1089.9 1387,1106.6 1387.2,1096.2 1387.5,1102.4 1387.7,1106.6 1387.9,1098.3 1388.1,1094.1 1388.4,1104.5 1388.6,1104.5 1388.8,1102.4 1389,1102.4 1389.2,1100.4 1389.5,1104.5 1389.7,1104.5 1389.9,1096.2 1390.1,1106.6 1390.4,1102.5 1390.6,1096.2 1390.8,1100.4 1391,1098.3 1391.3,1098.3 1391.5,1102.5 1391.7,1094.1 1391.9,1108.7 1392.2,1104.5 1392.4,1108.7 1392.6,1106.6 1392.8,1094.1 1393,1104.5 1393.3,1100.4 1393.5,1100.4 1393.7,1102.5 1393.9,1102.5 1394.2,1100.4 1394.4,1102.5 1394.6,1104.5 1394.8,1100.4 1395.1,1102.5 1395.3,1104.5 1395.5,1104.5 1395.7,1096.2 1395.9,1106.6 1396.2,1102.5 1396.4,1098.3 1396.6,1106.6 1396.8,1100.4 1397.1,1104.5 1397.3,1096.3 1397.5,1102.5 1397.7,1108.7 1398,1106.6 1398.2,1098.3 1398.4,1096.3 1398.6,1098.3 1398.8,1100.4 1399.1,1106.6 1399.3,1098.3 1399.5,1100.4 1399.7,1092.1 1400,1104.6 1400.2,1104.6 1400.4,1104.6 1400.6,1104.6 1400.9,1102.5 1401.1,1094.2 1401.3,1100.4 1401.5,1102.5 1401.8,1102.5 1402,1098.4 1402.2,1100.4 1402.4,1096.3 1402.6,1104.6 1402.9,1106.6 1403.1,1102.5 1403.3,1106.6 1403.5,1102.5 1403.8,1104.6 1404,1100.4 1404.2,1102.5 1404.4,1100.4 1404.7,1100.4 1404.9,1106.6 1405.1,1100.4 1405.3,1100.4 1405.5,1104.6 1405.8,1090.1 1406,1104.6 1406.2,1100.4 1406.4,1104.6 1406.7,1098.4 1406.9,1102.5 1407.1,1098.4 1407.3,1104.6 1407.6,1102.5 1407.8,1100.4 1408,1100.4 1408.2,1104.6 1408.4,1096.3 1408.7,1102.5 1408.9,1096.3 1409.1,1102.5 1409.3,1096.3 1409.6,1094.3 1409.8,1100.5 1410,1096.3 1410.2,1098.4 1410.5,1102.5 1410.7,1094.3 1410.9,1102.5 1411.1,1096.3 1411.4,1104.6 1411.6,1092.2 1411.8,1106.6 1412,1098.4 1412.2,1104.6 1412.5,1094.3 1412.7,1106.6 1412.9,1104.6 1413.1,1104.6 1413.4,1104.6 1413.6,1102.5 1413.8,1102.5 1414,1098.4 1414.3,1098.4 1414.5,1098.4 1414.7,1098.4 1414.9,1100.5 1415.1,1098.4 1415.4,1098.4 1415.6,1102.5 1415.8,1092.3 1416,1096.4 1416.3,1100.5 1416.5,1096.4 1416.7,1092.3 1416.9,1100.5 1417.2,1096.4 1417.4,1092.3 1417.6,1092.3 1417.8,1098.4 1418,1098.4 1418.3,1094.3 1418.5,1096.4 1418.7,1096.4 1418.9,1090.2 1419.2,1104.6 1419.4,1100.5 1419.6,1100.5 1419.8,1100.5 1420.1,1100.5 1420.3,1092.3 1420.5,1092.3 1420.7,1092.3 1421,1092.3 1421.2,1084.1 1421.4,1094.4 1421.6,1090.2 1421.8,1086 1422.1,1100.4 1422.3,1083.8 1422.5,1094.1 1422.7,1087.7 1423,1083.4 1423.2,1083.3 1423.4,1083.2 1423.6,1057.4 1423.9,1076.5 1424.1,1080.6 1424.3,1093.5 1424.5,1080.3 1424.7,1056 1425,1071.1 1425.2,1064.2 1425.4,1079.6 1425.6,1086.2 1425.9,1068 1426.1,1065.5 1426.3,1065.2 1426.5,1071.8 1426.8,1071.6 1427,1066.7 1427.2,1059.5 1427.4,1061.6 1427.6,1061.3 1427.9,1058.7 1428.1,1048.8 1428.3,1053.3 1428.5,1065.2 1428.8,1050.4 1429,1047.8 1429.2,1050 1429.4,1052.2 1429.7,1054.5 1429.9,1049.5 1430.1,1046.9 1430.3,1054.2 1430.6,1061.6 1430.8,1044.2 1431,1032.1 1431.2,1039.2 1431.4,1069 1431.7,1054.3 1431.9,1049.4 1432.1,1042.2 1432.3,1049.8 1432.6,1042.6 1432.8,1042.9 1433,1057.7 1433.2,1060.4 1433.5,1072.6 1433.7,1053.7 1433.9,1049.3 1434.1,1056.7 1434.3,1071.1 1434.6,1052.7 1434.8,1066.9 1435,1074.1 1435.2,1067.5 1435.5,1067.7 1435.7,1049.9 1435.9,1070.5 1436.1,1077.5 1436.4,1071 1436.6,1066.8 1436.8,1051.8 1437,1069.6 1437.2,1065.5 1437.5,1061.4 1437.7,1083.1 1437.9,1081.1 1438.1,1077 1438.4,1089.8 1438.6,1081.6 1438.8,1092.1 1439,1088 1439.3,1092.3 1439.5,1073.9 1439.7,1088.3 1439.9,1080.3 1440.1,1094.5 1440.4,1098.6 1440.6,1094.5 1440.8,1096.5 1441,1090.5 1441.3,1090.5 1441.5,1100.6 1441.7,1094.5 1441.9,1096.6 1442.2,1098.6 1442.4,1100.6 1442.6,1100.6 1442.8,1098.6 1443.1,1102.6 1443.3,1100.6 1443.5,1100.6 1443.7,1096.6 1443.9,1092.5 1444.2,1094.5 1444.4,1100.6 1444.6,1088.5 1444.8,1098.6 1445.1,1100.6 1445.3,1096.6 1445.5,1100.6 1445.7,1100.6 1446,1102.6 1446.2,1082.4 1446.4,1098.6 1446.6,1090.5 1446.8,1102.6 1447.1,1098.6 1447.3,1108.7 1447.5,1096.6 1447.7,1090.5 1448,1100.6 1448.2,1096.6 1448.4,1100.6 1448.6,1100.6 1448.9,1098.6 1449.1,1102.6 1449.3,1100.6 1449.5,1096.6 1449.7,1094.6 1450,1102.7 1450.2,1098.6 1450.4,1102.7 1450.6,1102.7 1450.9,1094.6 1451.1,1100.6 1451.3,1098.6 1451.5,1100.6 1451.8,1096.6 1452,1100.6 1452.2,1100.6 1452.4,1102.7 1452.7,1104.7 1452.9,1102.7 1453.1,1104.7 1453.3,1098.6 1453.5,1106.7 1453.8,1104.7 1454,1104.7 1454.2,1088.6 1454.4,1100.7 1454.7,1104.7 1454.9,1100.7 1455.1,1102.7 1455.3,1106.7 1455.6,1096.6 1455.8,1102.7 1456,1092.6 1456.2,1106.7 1456.4,1104.7 1456.7,1100.7 1456.9,1100.7 1457.1,1098.7 1457.3,1094.6 1457.6,1104.7 1457.8,1100.7 1458,1106.7 1458.2,1104.7 1458.5,1104.7 1458.7,1094.7 1458.9,1102.7 1459.1,1104.7 1459.3,1100.7 1459.6,1100.7 1459.8,1106.7 1460,1094.7 1460.2,1098.7 1460.5,1104.7 1460.7,1098.7 1460.9,1100.7 1461.1,1106.7 1461.4,1100.7 1461.6,1102.7 1461.8,1102.7 1462,1106.7 1462.3,1100.7 1462.5,1102.7 1462.7,1102.7 1462.9,1104.7 1463.1,1096.7 1463.4,1100.7 1463.6,1104.7 1463.8,1102.7 1464,1100.7 1464.3,1100.7 1464.5,1104.7 1464.7,1096.7 1464.9,1100.7 1465.2,1106.7 1465.4,1106.7 1465.6,1104.7 1465.8,1106.7 1466,1104.7 1466.3,1104.7 1466.5,1102.7 1466.7,1098.7 1466.9,1098.7 1467.2,1106.7 1467.4,1102.7 1467.6,1104.7 1467.8,1096.7 1468.1,1106.7 1468.3,1100.7 1468.5,1102.7 1468.7,1104.7 1468.9,1098.7 1469.2,1106.7 1469.4,1094.7 1469.6,1098.7 1469.8,1106.7 1470.1,1094.7 1470.3,1100.7 1470.5,1104.7 1470.7,1106.7 1471,1102.7 1471.2,1100.7 1471.4,1104.7 1471.6,1100.7 1471.9,1108.7 1472.1,1100.7 1472.3,1102.7 1472.5,1102.7 1472.7,1104.7 1473,1106.7 1473.2,1106.7 1473.4,1100.7 1473.6,1106.7 1473.9,1104.7 1474.1,1102.7 1474.3,1106.7 1474.5,1096.8 1474.8,1092.8 1475,1102.7 1475.2,1102.7 1475.4,1100.8 1475.6,1108.7 1475.9,1104.7 1476.1,1102.7 1476.3,1104.7 1476.5,1100.8 1476.8,1102.7 1477,1098.8 1477.2,1098.8 1477.4,1098.8 1477.7,1100.8 1477.9,1100.8 1478.1,1104.7 1478.3,1102.7 1478.5,1102.7 1478.8,1096.8 1479,1106.7 1479.2,1106.7 1479.4,1106.7 1479.7,1102.8 1479.9,1102.8 1480.1,1106.7 1480.3,1102.8 1480.6,1104.7 1480.8,1104.7 1481,1104.7 1481.2,1104.7 1481.5,1100.8 1481.7,1104.7 1481.9,1106.7 1482.1,1100.8 1482.3,1106.7 1482.6,1104.7 1482.8,1098.8 1483,1098.8 1483.2,1098.8 1483.5,1102.8 1483.7,1102.8 1483.9,1104.7 1484.1,1104.7 1484.4,1104.7 1484.6,1102.8 1484.8,1106.7 1485,1102.8 1485.2,1104.7 1485.5,1104.7 1485.7,1106.7 1485.9,1100.8 1486.1,1106.7 1486.4,1098.8 1486.6,1100.8 1486.8,1104.8 1487,1108.7 1487.3,1102.8 1487.5,1104.8 1487.7,1102.8 1487.9,1100.8 1488.1,1104.8 1488.4,1106.7 1488.6,1104.8 1488.8,1102.8 1489,1100.8 1489.3,1104.8 1489.5,1100.8 1489.7,1096.9 1489.9,1104.8 1490.2,1108.7 1490.4,1104.8 1490.6,1100.8 1490.8,1106.7 1491,1098.9 1491.3,1100.8 1491.5,1106.7 1491.7,1104.8 1491.9,1100.8 1492.2,1098.9 1492.4,1106.7 1492.6,1102.8 1492.8,1106.7 1493.1,1100.8 1493.3,1106.7 1493.5,1100.8 1493.7,1104.8 1494,1100.8 1494.2,1102.8 1494.4,1094.9 1494.6,1102.8 1494.8,1104.8 1495.1,1100.8 1495.3,1102.8 1495.5,1104.8 1495.7,1108.7 1496,1098.9 1496.2,1102.8 1496.4,1096.9 1496.6,1104.8 1496.9,1106.7 1497.1,1100.8 1497.3,1100.9 1497.5,1104.8 1497.7,1100.9 1498,1100.9 1498.2,1102.8 1498.4,1096.9 1498.6,1095 1498.9,1106.7 1499.1,1108.7 1499.3,1102.8 1499.5,1098.9 1499.8,1098.9 1500,1104.8 1500.2,1108.7 1500.4,1104.8 1500.6,1102.8 1500.9,1095 1501.1,1104.8 1501.3,1102.8 1501.5,1102.8 1501.8,1104.8 1502,1108.7 1502.2,1104.8 1502.4,1098.9 1502.7,1106.7 1502.9,1104.8 1503.1,1108.7 1503.3,1102.8 1503.6,1100.9 1503.8,1100.9 1504,1097 1504.2,1102.8 1504.4,1102.8 1504.7,1100.9 1504.9,1104.8 1505.1,1102.8 1505.3,1108.7 1505.6,1104.8 1505.8,1100.9 1506,1108.7 1506.2,1102.8 1506.5,1106.7 1506.7,1104.8 1506.9,1104.8 1507.1,1102.8 1507.3,1100.9 1507.6,1102.8 1507.8,1098.9 1508,1104.8 1508.2,1104.8 1508.5,1106.8 1508.7,1104.8 1508.9,1104.8 1509.1,1097 1509.4,1099 1509.6,1102.9 1509.8,1102.9 1510,1100.9 1510.2,1104.8 1510.5,1104.8 1510.7,1091.2 1510.9,1095.1 1511.1,1100.9 1511.4,1100.9 1511.6,1102.9 1511.8,1102.9 1512,1097 1512.3,1108.7 1512.5,1104.8 1512.7,1106.8 1512.9,1108.7 1513.2,1104.8 1513.4,1100.9 1513.6,1102.9 1513.8,1102.9 1514,1108.7 1514.3,1100.9 1514.5,1100.9 1514.7,1104.8 1514.9,1099 1515.2,1104.8 1515.4,1102.9 1515.6,1095.1 1515.8,1104.8 1516.1,1106.8 1516.3,1100.9 1516.5,1106.8 1516.7,1102.9 1516.9,1104.8 1517.2,1104.8 1517.4,1108.7 1517.6,1102.9 1517.8,1100.9 1518.1,1102.9 1518.3,1106.8 1518.5,1102.9 1518.7,1106.8 1519,1104.8 1519.2,1099 1519.4,1100.9 1519.6,1108.7 1519.8,1106.8 1520.1,1102.9 1520.3,1108.7 1520.5,1104.8 1520.7,1102.9 1521,1102.9 1521.2,1104.8 1521.4,1104.8 1521.6,1106.8 1521.9,1102.9 1522.1,1097.1 1522.3,1097.1 1522.5,1104.8 1522.8,1095.2 1523,1099 1523.2,1104.8 1523.4,1106.8 1523.6,1101 1523.9,1101 1524.1,1101 1524.3,1104.8 1524.5,1104.8 1524.8,1099 1525,1099 1525.2,1093.3 1525.4,1104.8 1525.7,1102.9 1525.9,1108.7 1526.1,1095.2 1526.3,1101 1526.5,1106.8 1526.8,1097.1 1527,1101 1527.2,1104.8 1527.4,1106.8 1527.7,1104.8 1527.9,1101 1528.1,1101 1528.3,1106.8 1528.6,1101 1528.8,1102.9 1529,1104.8 1529.2,1106.8 1529.4,1101 1529.7,1106.8 1529.9,1106.8 1530.1,1104.8 1530.3,1102.9 1530.6,1102.9 1530.8,1099.1 1531,1101 1531.2,1106.8 1531.5,1104.9 1531.7,1104.9 1531.9,1106.8 1532.1,1097.2 1532.4,1104.9 1532.6,1108.7 1532.8,1097.2 1533,1108.7 1533.2,1104.9 1533.5,1106.8 1533.7,1102.9 1533.9,1104.9 1534.1,1097.2 1534.4,1106.8 1534.6,1106.8 1534.8,1106.8 1535,1106.8 1535.3,1104.9 1535.5,1104.9 1535.7,1101 1535.9,1102.9 1536.1,1104.9 1536.4,1108.7 1536.6,1108.7 1536.8,1102.9 1537,1102.9 1537.3,1102.9 1537.5,1104.9 1537.7,1106.8 1537.9,1104.9 1538.2,1108.7 1538.4,1104.9 1538.6,1106.8 1538.8,1099.1 1539,1104.9 1539.3,1101 1539.5,1103 1539.7,1103 1539.9,1104.9 1540.2,1104.9 1540.4,1106.8 1540.6,1103 1540.8,1099.1 1541.1,1101 1541.3,1108.7 1541.5,1099.1 1541.7,1103 1542,1099.1 1542.2,1101.1 1542.4,1104.9 1542.6,1104.9 1542.8,1101.1 1543.1,1104.9 1543.3,1103 1543.5,1108.7 1543.7,1103 1544,1106.8 1544.2,1099.2 1544.4,1103 1544.6,1108.7 1544.9,1108.7 1545.1,1106.8 1545.3,1097.2 1545.5,1101.1 1545.7,1106.8 1546,1104.9 1546.2,1103 1546.4,1099.2 1546.6,1104.9 1546.9,1103 1547.1,1108.7 1547.3,1099.2 1547.5,1104.9 1547.8,1104.9 1548,1101.1 1548.2,1104.9 1548.4,1103 1548.6,1104.9 1548.9,1108.7 1549.1,1104.9 1549.3,1108.7 1549.5,1104.9 1549.8,1106.8 1550,1106.8 1550.2,1103 1550.4,1095.4 1550.7,1097.3 1550.9,1106.8 1551.1,1101.1 1551.3,1104.9 1551.5,1106.8 1551.8,1104.9 1552,1099.2 1552.2,1106.8 1552.4,1106.8 1552.7,1104.9 1552.9,1104.9 1553.1,1104.9 1553.3,1097.3 1553.6,1106.8 1553.8,1103 1554,1101.1 1554.2,1099.2 1554.5,1101.1 1554.7,1101.1 1554.9,1108.7 1555.1,1103 1555.3,1104.9 1555.6,1106.8 1555.8,1103 1556,1103 1556.2,1106.8 1556.5,1099.2 1556.7,1104.9 1556.9,1106.8 1557.1,1101.1 1557.4,1104.9 1557.6,1093.5 1557.8,1103 1558,1101.1 1558.2,1101.1 1558.5,1104.9 1558.7,1099.2 1558.9,1108.7 1559.1,1101.1 1559.4,1106.8 1559.6,1101.1 1559.8,1103 1560,1108.7 1560.3,1099.2 1560.5,1104.9 1560.7,1103 1560.9,1103 1561.1,1101.1 1561.4,1108.7 1561.6,1104.9 1561.8,1106.8 1562,1095.5 1562.3,1095.5 1562.5,1099.3 1562.7,1101.1 1562.9,1106.8 1563.2,1101.1 1563.4,1104.9 1563.6,1103 1563.8,1101.1 1564.1,1106.8 1564.3,1103 1564.5,1104.9 1564.7,1097.4 1564.9,1106.8 1565.2,1103 1565.4,1103 1565.6,1101.2 1565.8,1104.9 1566.1,1099.3 1566.3,1104.9 1566.5,1099.3 1566.7,1101.2 1567,1106.8 1567.2,1095.5 1567.4,1101.2 1567.6,1108.7 1567.8,1104.9 1568.1,1104.9 1568.3,1099.3 1568.5,1106.8 1568.7,1095.5 1569,1101.2 1569.2,1104.9 1569.4,1099.3 1569.6,1108.7 1569.9,1106.8 1570.1,1101.2 1570.3,1099.3 1570.5,1101.2 1570.7,1101.2 1571,1103 1571.2,1103 1571.4,1101.2 1571.6,1099.3 1571.9,1095.5 1572.1,1104.9 1572.3,1101.2 1572.5,1101.2 1572.8,1093.6 1573,1106.8 1573.2,1103 1573.4,1101.2 1573.7,1099.3 1573.9,1103 1574.1,1104.9 1574.3,1091.7 1574.5,1104.9 1574.8,1101.2 1575,1104.9 1575.2,1103 1575.4,1097.4 1575.7,1103 1575.9,1103 1576.1,1099.3 1576.3,1106.8 1576.6,1099.3 1576.8,1108.7 1577,1103 1577.2,1103 1577.4,1101.2 1577.7,1099.3 1577.9,1104.9 1578.1,1104.9 1578.3,1103 1578.6,1103 1578.8,1106.8 1579,1097.4 1579.2,1099.3 1579.5,1106.8 1579.7,1101.2 1579.9,1097.4 1580.1,1104.9 1580.3,1097.4 1580.6,1103 1580.8,1097.4 1581,1103 1581.2,1104.9 1581.5,1099.3 1581.7,1103 1581.9,1103 1582.1,1093.6 1582.4,1104.9 1582.6,1097.4 1582.8,1103 1583,1101.2 1583.3,1103 1583.5,1104.9 1583.7,1101.2 1583.9,1099.3 1584.1,1097.4 1584.4,1097.4 1584.6,1103 1584.8,1091.7 1585,1097.4 1585.3,1104.9 1585.5,1104.9 1585.7,1101.2 1585.9,1103 1586.2,1101.2 1586.4,1103 1586.6,1101.2 1586.8,1093.6 1587,1099.3 1587.3,1104.9 1587.5,1104.9 1587.7,1091.7 1587.9,1091.7 1588.2,1091.7 1588.4,1103 1588.6,1095.5 1588.8,1104.9 1589.1,1099.3 1589.3,1101.2 1589.5,1104.9 1589.7,1104.9 1589.9,1103 1590.2,1097.4 1590.4,1101.2 1590.6,1099.3 1590.8,1097.4 1591.1,1104.9 1591.3,1099.3 1591.5,1099.3 1591.7,1095.5 1592,1104.9 1592.2,1099.3 1592.4,1101.2 1592.6,1101.2 1592.9,1099.3 1593.1,1099.3 1593.3,1101.2 1593.5,1103 1593.7,1099.3 1594,1099.3 1594.2,1093.6 1594.4,1097.4 1594.6,1089.9 1594.9,1091.7 1595.1,1095.5 1595.3,1093.6 1595.5,1095.5 1595.8,1097.4 1596,1091.7 1596.2,1101.2 1596.4,1093.6 1596.6,1095.5 1596.9,1099.3 1597.1,1093.6 1597.3,1095.5 1597.5,1084.2 1597.8,1095.5 1598,1097.4 1598.2,1106.8 1598.4,1091.7 1598.7,1093.6 1598.9,1093.6 1599.1,1093.6 1599.3,1097.4 1599.5,1104.9 1599.8,1086.1 1600,1095.5 1600.2,1097.4 1600.4,1089.9 1600.7,1088 1600.9,1103 1601.1,1103 1601.3,1091.7 1601.6,1101.2 1601.8,1086.1 1602,1093.6 1602.2,1095.5 1602.4,1097.4 1602.7,1095.5 1602.9,1093.6 1603.1,1103 1603.3,1089.9 1603.6,1084.2 1603.8,1095.5 1604,1089.9 1604.2,1089.9 1604.5,1088 1604.7,1091.7 1604.9,1097.4 1605.1,1089.9 1605.4,1093.6 1605.6,1099.3 1605.8,1099.3 1606,1089.9 1606.2,1101.2 1606.5,1103 1606.7,1089.9 1606.9,1095.5 1607.1,1095.5 1607.4,1091.7 1607.6,1089.9 1607.8,1097.4 1608,1089.9 1608.3,1097.4 1608.5,1089.9 1608.7,1093.6 1608.9,1091.7 1609.1,1095.5 1609.4,1095.5 1609.6,1103 1609.8,1099.3 1610,1084.2 1610.3,1089.9 1610.5,1095.5 1610.7,1093.6 1610.9,1082.3 1611.2,1101.2 1611.4,1097.4 1611.6,1091.7 1611.8,1089.9 1612,1095.5 1612.3,1082.3 1612.5,1088 1612.7,1088 1612.9,1093.6 1613.2,1089.9 1613.4,1071 1613.6,1101.2 1613.8,1084.2 1614.1,1089.9 1614.3,1093.6 1614.5,1093.6 1614.7,1091.7 1615,1089.9 1615.2,1086.1 1615.4,1080.4 1615.6,1097.4 1615.8,1091.7 1616.1,1093.6 1616.3,1095.5 1616.5,1091.7 1616.7,1095.5 1617,1091.7 1617.2,1095.5 1617.4,1089.9 1617.6,1097.4 1617.9,1084.2 1618.1,1088 1618.3,1097.4 1618.5,1086.1 1618.7,1082.3 1619,1080.4 1619.2,1097.4 1619.4,1082.3 1619.6,1086.1 1619.9,1095.5 1620.1,1088 1620.3,1089.9 1620.5,1082.3 1620.8,1088 1621,1097.4 1621.2,1076.7 1621.4,1091.7 1621.6,1093.6 1621.9,1099.3 1622.1,1089.9 1622.3,1088 1622.5,1084.2 1622.8,1089.9 1623,1089.9 1623.2,1095.5 1623.4,1091.7 1623.7,1095.5 1623.9,1091.7 1624.1,1097.4 1624.3,1088 1624.6,1089.8 1624.8,1071 1625,1095.5 1625.2,1091.7 1625.4,1093.6 1625.7,1074.7 1625.9,1091.7 1626.1,1095.5 1626.3,1091.7 1626.6,1080.4 1626.8,1097.4 1627,1089.8 1627.2,1084.2 1627.5,1087.9 1627.7,1082.3 1627.9,1093.6 1628.1,1089.8 1628.3,1086.1 1628.6,1091.7 1628.8,1087.9 1629,1087.9 1629.2,1089.8 1629.5,1082.3 1629.7,1084.2 1629.9,1084.2 1630.1,1088 1630.4,1093.6 1630.6,1103 1630.8,1089.9 1631,1086.1 1631.2,1095.5 1631.5,1093.6 1631.7,1086.1 1631.9,1088 1632.1,1093.6 1632.4,1101.2 1632.6,1089.9 1632.8,1089.9 1633,1097.4 1633.3,1088 1633.5,1086.1 1633.7,1097.4 1633.9,1084.2 1634.2,1097.4 1634.4,1095.5 1634.6,1082.3 1634.8,1089.9 1635,1084.2 1635.3,1082.3 1635.5,1074.8 1635.7,1089.9 1635.9,1103 1636.2,1097.4 1636.4,1086.1 1636.6,1082.3 1636.8,1093.6 1637.1,1097.4 1637.3,1103 1637.5,1097.4 1637.7,1086.1 1637.9,1097.4 1638.2,1099.3 1638.4,1095.5 1638.6,1089.9 1638.8,1097.4 1639.1,1095.5 1639.3,1095.5 1639.5,1089.9 1639.7,1103 1640,1093.6 1640.2,1091.7 1640.4,1099.3 1640.6,1091.7 1640.8,1078.6 1641.1,1095.5 1641.3,1091.7 1641.5,1097.4 1641.7,1095.5 1642,1093.6 1642.2,1093.6 1642.4,1095.5 1642.6,1088 1642.9,1091.7 1643.1,1091.7 1643.3,1095.5 1643.5,1093.6 1643.8,1104.9 1644,1089.9 1644.2,1089.9 1644.4,1099.3 1644.6,1089.9 1644.9,1097.4 1645.1,1099.3 1645.3,1082.3 1645.5,1091.7 1645.8,1091.7 1646,1095.5 1646.2,1084.2 1646.4,1099.3 1646.7,1091.7 1646.9,1101.2 1647.1,1097.4 1647.3,1095.5 1647.5,1091.7 1647.8,1099.3 1648,1101.2 1648.2,1103 1648.4,1091.7 1648.7,1095.5 1648.9,1095.5 1649.1,1099.3 1649.3,1097.4 1649.6,1097.4 1649.8,1099.3 1650,1095.5 1650.2,1097.4 1650.4,1091.7 1650.7,1086.1 1650.9,1101.2 1651.1,1095.5 1651.3,1099.3 1651.6,1095.5 1651.8,1101.2 1652,1104.9 1652.2,1097.4 1652.5,1101.2 1652.7,1104.9 1652.9,1095.5 1653.1,1101.2 1653.3,1103 1653.6,1093.6 1653.8,1095.5 1654,1101.2 1654.2,1104.9 1654.5,1103 1654.7,1101.2 1654.9,1104.9 1655.1,1097.4 1655.4,1099.3 1655.6,1095.5 1655.8,1097.4 1656,1101.2 1656.3,1101.2 1656.5,1101.2 1656.7,1104.9 1656.9,1101.2 1657.1,1093.6 1657.4,1104.9 1657.6,1104.9 1657.8,1103 1658,1095.5 1658.3,1101.2 1658.5,1101.2 1658.7,1097.4 1658.9,1095.5 1659.2,1097.4 1659.4,1106.8 1659.6,1101.2 1659.8,1104.9 1660,1095.5 1660.3,1103 1660.5,1097.4 1660.7,1103 1660.9,1095.5 1661.2,1097.4 1661.4,1104.9 1661.6,1104.9 1661.8,1097.4 1662.1,1106.8 1662.3,1103 1662.5,1103 1662.7,1106.8 1662.9,1106.8 1663.2,1095.5 1663.4,1104.9 1663.6,1097.4 1663.8,1099.3 1664.1,1106.8 1664.3,1097.4 1664.5,1106.8 1664.7,1104.9 1665,1103 1665.2,1095.5 1665.4,1104.9 1665.6,1104.9 1665.9,1103 1666.1,1095.5 1666.3,1103 1666.5,1103 1666.7,1106.8 1667,1097.4 1667.2,1103 1667.4,1101.2 1667.6,1106.8 1667.9,1101.2 1668.1,1106.8 1668.3,1103 1668.5,1103 1668.8,1093.6 1669,1104.9 1669.2,1103 1669.4,1101.2 1669.6,1101.2 1669.9,1097.4 1670.1,1104.9 1670.3,1106.8 1670.5,1101.2 1670.8,1101.2 1671,1099.3 1671.2,1108.7 1671.4,1104.9 1671.7,1103 1671.9,1103 1672.1,1103 1672.3,1099.3 1672.5,1104.9 1672.8,1104.9 1673,1103 1673.2,1104.9 1673.4,1091.7 1673.7,1104.9 1673.9,1104.9 1674.1,1106.8 1674.3,1099.3 1674.6,1101.2 1674.8,1106.8 1675,1104.9 1675.2,1097.4 1675.5,1104.9 1675.7,1106.8 1675.9,1103 1676.1,1104.9 1676.3,1101.2 1676.6,1099.3 1676.8,1106.8 1677,1103 1677.2,1101.2 1677.5,1103 1677.7,1106.8 1677.9,1104.9 1678.1,1097.4 1678.4,1101.2 1678.6,1101.2 1678.8,1101.2"/>
<g font-family='"Liberation Sans", sans-serif' font-size="52.7" text-anchor="middle" fill="#000">
<text transform="translate(326.6 228.4) rotate(-90) scale(1.019 1)">[003]</text>
<text transform="translate(731.9 665) rotate(-90) scale(1.019 1)">[101]</text>
<text transform="translate(780.7 911.1) rotate(-90) scale(1.019 1)">[006]</text>
<text transform="translate(849 695.1) rotate(-90) scale(1.019 1)">[102]</text>
<text transform="translate(904.1 437.9) rotate(-90) scale(1.019 1)">[104]</text>
<text transform="translate(1001.1 918.8) rotate(-90) scale(1.019 1)">[105]</text>
<text transform="translate(1224.4 924.8) rotate(-90) scale(1.019 1)">[107]</text>
<text transform="translate(1343.2 820.8) rotate(-90) scale(1.019 1)">[108]</text>
<text transform="translate(1426.3 599.5) rotate(-90) scale(1.019 1)">[110]</text>
<text transform="translate(1454 952.4) rotate(-90) scale(1.019 1)">[113]</text>
<text transform="translate(1577 712.4) rotate(-90) scale(1.019 1)">[021]</text>
<text transform="translate(1652.2 955.9) rotate(-90) scale(1.019 1)">[116]</text>
<text transform="translate(440.2 877.4) scale(1 1.019)">C2/m</text>
</g>
<g fill="none" stroke="#000" stroke-width="3.8" stroke-linecap="round" stroke-linejoin="round">
<polyline points="722.7,732.5 722.7,837.5"/>
<polyline points="742.8,973.5 742.8,1025.5"/>
<polyline points="838.1,769 838.1,926.6 763.4,1044.5"/>
<polyline points="1406.9,679.5 1406.9,836 1369,951"/>
<polyline points="1567,798.5 1567,953.5"/>
<polyline points="1564.7,950.5 1597.2,1067.5"/>
<polyline points="353.9,974 353.9,943.8 512,943.8"/>
<polyline points="508.3,943.8 508.3,974"/>
<polyline points="427.9,916.5 430,946"/>
</g>
<text x="1598.8" y="231.2" font-family='"Liberation Serif", serif' font-weight="bold" font-size="96" text-anchor="middle">a</text>
<g fill="none" stroke="#000" stroke-width="4.9" stroke-linecap="round">
<path d="M245.4 1492.2V1480.7M245.4 2547.5V2559M355.8 1492.2V1470.7M355.8 2547.5V2569M466.3 1492.2V1480.7M466.3 2547.5V2559M576.7 1492.2V1470.7M576.7 2547.5V2569M687.2 1492.2V1480.7M687.2 2547.5V2559M797.6 1492.2V1470.7M797.6 2547.5V2569M908.1 1492.2V1480.7M908.1 2547.5V2559M1018.5 1492.2V1470.7M1018.5 2547.5V2569M1129 1492.2V1480.7M1129 2547.5V2559M1239.4 1492.2V1470.7M1239.4 2547.5V2569M1349.9 1492.2V1480.7M1349.9 2547.5V2559M1460.3 1492.2V1470.7M1460.3 2547.5V2569M1570.8 1492.2V1480.7M1570.8 2547.5V2559M1681.2 1492.2V1470.7M1681.2 2547.5V2569M245.4 2547.1H233.9M1681.2 2547.1H1692.7M245.4 2485H223.9M1681.2 2485H1702.7M245.4 2422.9H233.9M1681.2 2422.9H1692.7M245.4 2360.9H223.9M1681.2 2360.9H1702.7M245.4 2298.8H233.9M1681.2 2298.8H1692.7M245.4 2236.8H223.9M1681.2 2236.8H1702.7M245.4 2174.8H233.9M1681.2 2174.8H1692.7M245.4 2112.7H223.9M1681.2 2112.7H1702.7M245.4 2050.7H233.9M1681.2 2050.7H1692.7M245.4 1988.6H223.9M1681.2 1988.6H1702.7M245.4 1926.6H233.9M1681.2 1926.6H1692.7M245.4 1864.5H223.9M1681.2 1864.5H1702.7M245.4 1802.5H233.9M1681.2 1802.5H1692.7M245.4 1740.4H223.9M1681.2 1740.4H1702.7M245.4 1678.3H233.9M1681.2 1678.3H1692.7M245.4 1616.3H223.9M1681.2 1616.3H1702.7M245.4 1554.2H233.9M1681.2 1554.2H1692.7M245.4 1492.2H223.9M1681.2 1492.2H1702.7"/>
</g>
<rect x="245.4" y="1492.2" width="1435.8" height="1055.3" fill="none" stroke="#000" stroke-width="4.9"/>
<g font-family='"Liberation Sans", sans-serif' font-size="43" fill="#000">
<g text-anchor="middle">
<text transform="translate(356.1 1447.2) scale(1 1.019)">20</text>
<text transform="translate(356.1 2616.6) scale(1 1.019)">20</text>
<text transform="translate(577 1447.2) scale(1 1.019)">30</text>
<text transform="translate(577 2616.6) scale(1 1.019)">30</text>
<text transform="translate(797.9 1447.2) scale(1 1.019)">40</text>
<text transform="translate(797.9 2616.6) scale(1 1.019)">40</text>
<text transform="translate(1018.8 1447.2) scale(1 1.019)">50</text>
<text transform="translate(1018.8 2616.6) scale(1 1.019)">50</text>
<text transform="translate(1239.7 1447.2) scale(1 1.019)">60</text>
<text transform="translate(1239.7 2616.6) scale(1 1.019)">60</text>
<text transform="translate(1460.6 1447.2) scale(1 1.019)">70</text>
<text transform="translate(1460.6 2616.6) scale(1 1.019)">70</text>
<text transform="translate(1681.5 1447.2) scale(1 1.019)">80</text>
<text transform="translate(1681.5 2616.6) scale(1 1.019)">80</text>
</g>
<g text-anchor="end">
<text transform="translate(210.3 2496) scale(1 1.019)">0</text>
<text transform="translate(210.3 2371.9) scale(1 1.019)">50</text>
<text transform="translate(210.3 2247.8) scale(1 1.019)">100</text>
<text transform="translate(210.3 2123.7) scale(1 1.019)">150</text>
<text transform="translate(210.3 1999.6) scale(1 1.019)">200</text>
<text transform="translate(210.3 1875.5) scale(1 1.019)">250</text>
<text transform="translate(210.3 1751.4) scale(1 1.019)">300</text>
<text transform="translate(210.3 1627.3) scale(1 1.019)">350</text>
<text transform="translate(210.3 1503.2) scale(1 1.019)">400</text>
</g>
<g text-anchor="start">
<text transform="translate(1717.3 2496) scale(1 1.019)">0</text>
<text transform="translate(1717.3 2371.9) scale(1 1.019)">50</text>
<text transform="translate(1717.3 2247.8) scale(1 1.019)">100</text>
<text transform="translate(1717.3 2123.7) scale(1 1.019)">150</text>
<text transform="translate(1717.3 1999.6) scale(1 1.019)">200</text>
<text transform="translate(1717.3 1875.5) scale(1 1.019)">250</text>
<text transform="translate(1717.3 1751.4) scale(1 1.019)">300</text>
<text transform="translate(1717.3 1627.3) scale(1 1.019)">350</text>
<text transform="translate(1717.3 1503.2) scale(1 1.019)">400</text>
</g>
</g>
<text x="962.7" y="2698.5" font-family='"Liberation Sans", sans-serif' font-size="49.5" text-anchor="middle" textLength="461" lengthAdjust="spacingAndGlyphs">2 <tspan font-family='"Liberation Serif", serif' font-size="0.95em">Θ</tspan> (Degrre / CuK<tspan font-family='"Liberation Serif", serif'>α</tspan>)</text>
<text transform="translate(68.2 1918.4) rotate(-90)" font-family='"Liberation Sans", sans-serif' font-size="51.5" text-anchor="middle" textLength="675.5" lengthAdjust="spacingAndGlyphs">XRD ntensity / Arbitrary Units</text>
<polyline fill="none" stroke="#000" stroke-width="3" stroke-linejoin="bevel" shape-rendering="crispEdges" points="245.4,2456.3 245.6,2470.7 245.8,2456.3 246.1,2465.9 246.3,2485 246.5,2461.1 246.7,2465.9 246.9,2470.7 247.2,2456.3 247.4,2446.8 247.6,2470.7 247.8,2465.9 248.1,2456.3 248.3,2461.1 248.5,2465.9 248.7,2475.4 248.9,2456.3 249.2,2470.7 249.4,2470.7 249.6,2465.9 249.8,2470.7 250,2456.3 250.3,2451.5 250.5,2461.1 250.7,2465.9 250.9,2480.2 251.1,2446.8 251.4,2461.1 251.6,2470.7 251.8,2470.7 252,2470.7 252.2,2461.1 252.5,2475.4 252.7,2461.1 252.9,2461.1 253.1,2465.9 253.4,2470.7 253.6,2456.3 253.8,2461.1 254,2465.9 254.2,2470.7 254.5,2456.3 254.7,2461.1 254.9,2451.5 255.1,2451.5 255.3,2475.4 255.6,2465.9 255.8,2461.1 256,2475.4 256.2,2461.1 256.4,2461.1 256.7,2470.7 256.9,2465.9 257.1,2470.7 257.3,2465.9 257.5,2442 257.8,2475.4 258,2470.7 258.2,2475.4 258.4,2456.3 258.7,2451.5 258.9,2461.1 259.1,2461.1 259.3,2465.9 259.5,2465.9 259.8,2461.1 260,2461.1 260.2,2465.9 260.4,2456.3 260.6,2465.9 260.9,2480.2 261.1,2461.1 261.3,2470.7 261.5,2461.1 261.7,2451.5 262,2456.3 262.2,2465.9 262.4,2475.4 262.6,2461.1 262.9,2461.1 263.1,2470.7 263.3,2461.1 263.5,2470.7 263.7,2461.1 264,2451.5 264.2,2470.7 264.4,2461.1 264.6,2470.7 264.8,2451.5 265.1,2470.7 265.3,2480.2 265.5,2465.9 265.7,2470.7 265.9,2470.7 266.2,2451.5 266.4,2461.1 266.6,2470.7 266.8,2475.4 267,2475.4 267.3,2475.4 267.5,2456.3 267.7,2470.7 267.9,2451.5 268.2,2475.4 268.4,2465.9 268.6,2451.5 268.8,2456.3 269,2465.9 269.3,2485 269.5,2465.9 269.7,2456.3 269.9,2465.9 270.1,2456.3 270.4,2465.9 270.6,2465.9 270.8,2470.6 271,2461.1 271.2,2470.6 271.5,2475.4 271.7,2465.9 271.9,2456.3 272.1,2470.6 272.3,2446.7 272.6,2465.9 272.8,2465.9 273,2475.4 273.2,2465.9 273.5,2451.5 273.7,2461.1 273.9,2475.4 274.1,2456.3 274.3,2475.4 274.6,2475.4 274.8,2461.1 275,2475.4 275.2,2461.1 275.4,2470.6 275.7,2465.9 275.9,2456.3 276.1,2465.9 276.3,2461.1 276.5,2465.9 276.8,2465.8 277,2461.1 277.2,2470.6 277.4,2485 277.7,2470.6 277.9,2470.6 278.1,2475.4 278.3,2465.8 278.5,2451.5 278.8,2465.8 279,2456.3 279.2,2461.1 279.4,2461.1 279.6,2465.8 279.9,2470.6 280.1,2446.7 280.3,2470.6 280.5,2461 280.7,2451.5 281,2422.7 281.2,2456.3 281.4,2465.8 281.6,2475.4 281.8,2480.2 282.1,2470.6 282.3,2480.2 282.5,2461 282.7,2461 283,2451.4 283.2,2461 283.4,2451.4 283.6,2446.6 283.8,2461 284.1,2456.2 284.3,2461 284.5,2480.2 284.7,2461 284.9,2475.4 285.2,2456.2 285.4,2465.8 285.6,2446.6 285.8,2461 286,2470.6 286.3,2461 286.5,2465.8 286.7,2461 286.9,2441.8 287.1,2465.8 287.4,2470.6 287.6,2441.8 287.8,2480.2 288,2456.2 288.3,2456.2 288.5,2475.4 288.7,2451.4 288.9,2465.8 289.1,2456.2 289.4,2465.8 289.6,2470.6 289.8,2456.2 290,2456.2 290.2,2465.8 290.5,2451.4 290.7,2465.8 290.9,2475.4 291.1,2456.1 291.3,2461 291.6,2456.1 291.8,2465.8 292,2460.9 292.2,2456.1 292.5,2451.3 292.7,2465.7 292.9,2465.7 293.1,2465.7 293.3,2470.6 293.6,2436.8 293.8,2460.9 294,2475.4 294.2,2465.7 294.4,2456.1 294.7,2465.7 294.9,2465.7 295.1,2456.1 295.3,2451.2 295.5,2460.9 295.8,2460.9 296,2456.1 296.2,2460.9 296.4,2456 296.6,2456 296.9,2460.9 297.1,2470.5 297.3,2465.7 297.5,2465.7 297.8,2456 298,2465.7 298.2,2475.3 298.4,2456 298.6,2460.8 298.9,2456 299.1,2465.6 299.3,2456 299.5,2451.1 299.7,2455.9 300,2460.8 300.2,2455.9 300.4,2451.1 300.6,2460.8 300.8,2460.7 301.1,2455.9 301.3,2451 301.5,2475.3 301.7,2455.9 301.9,2465.6 302.2,2460.7 302.4,2465.5 302.6,2455.8 302.8,2450.9 303.1,2460.7 303.3,2446 303.5,2455.8 303.7,2460.6 303.9,2436.2 304.2,2460.6 304.4,2455.7 304.6,2455.7 304.8,2436.1 305,2465.4 305.3,2455.6 305.5,2465.4 305.7,2450.7 305.9,2475.2 306.1,2465.4 306.4,2465.4 306.6,2470.3 306.8,2475.2 307,2455.5 307.2,2445.6 307.5,2480.1 307.7,2475.1 307.9,2440.6 308.1,2470.2 308.4,2460.3 308.6,2435.5 308.8,2445.4 309,2455.2 309.2,2450.2 309.5,2420.4 309.7,2430.2 309.9,2455.1 310.1,2470 310.3,2465 310.6,2470 310.8,2459.9 311,2434.8 311.2,2459.9 311.4,2469.9 311.7,2464.8 311.9,2449.6 312.1,2474.9 312.3,2464.7 312.6,2439.3 312.8,2449.4 313,2444.2 313.2,2439 313.4,2454.2 313.7,2438.7 313.9,2448.9 314.1,2459.2 314.3,2464.3 314.5,2443.4 314.8,2458.9 315,2464.1 315.2,2458.7 315.4,2427 315.6,2426.7 315.9,2431.8 316.1,2442.2 316.3,2452.7 316.5,2441.8 316.7,2430.6 317,2424.8 317.2,2451.9 317.4,2440.5 317.6,2417.7 317.9,2439.7 318.1,2399.1 318.3,2415.4 318.5,2414.5 318.7,2413.3 319,2393.8 319.2,2441.6 319.4,2383.5 319.6,2387.4 319.8,2418 320.1,2395.1 320.3,2349 320.5,2358.6 320.7,2391.9 320.9,2323.3 321.2,2363.7 321.4,2185.9 321.6,2299.1 321.8,2323.3 322,2315.2 322.3,2258.6 322.5,2242.5 322.7,2169.7 322.9,2097.4 323.2,2089.6 323.4,2042.3 323.6,2110.4 323.8,2100.3 324,2030.1 324.3,1983.2 324.5,1980.8 324.7,1985.6 324.9,1932.8 325.1,1871 325.4,1871 325.6,1866 325.8,1871 326,1871 326.2,2034.4 326.5,1920.9 326.7,2040.6 326.9,1984.3 327.1,1971.3 327.4,2155.4 327.6,2142.8 327.8,2034.5 328,2137.5 328.2,2218.2 328.5,2218.2 328.7,2266.7 328.9,2323.3 329.1,2194 329.3,2282.9 329.6,2339.5 329.8,2347.6 330,2335.5 330.2,2409.9 330.4,2391.4 330.7,2367.2 330.9,2398 331.1,2426.6 331.3,2396.5 331.5,2466.5 331.8,2394.4 332,2407.9 332.2,2450 332.4,2462 332.7,2428.2 332.9,2423.2 333.1,2446.1 333.3,2440.9 333.5,2446.7 333.8,2436.1 334,2452.6 334.2,2420.6 334.4,2426.3 334.6,2453.2 334.9,2432.2 335.1,2464 335.3,2464 335.5,2438 335.7,2453.8 336,2453.9 336.2,2454 336.4,2449 336.6,2438.8 336.8,2459.4 337.1,2454.4 337.3,2434.1 337.5,2439.3 337.7,2424.2 338,2429.4 338.2,2449.7 338.4,2454.8 338.6,2444.8 338.8,2449.9 339.1,2465 339.3,2450 339.5,2465 339.7,2455.1 339.9,2450.1 340.2,2445.2 340.4,2445.3 340.6,2450.3 340.8,2435.4 341,2460.2 341.3,2445.4 341.5,2450.4 341.7,2460.3 341.9,2475.1 342.2,2460.4 342.4,2465.3 342.6,2460.4 342.8,2450.6 343,2460.5 343.3,2465.4 343.5,2465.4 343.7,2431.1 343.9,2455.6 344.1,2455.7 344.4,2441 344.6,2460.6 344.8,2441.1 345,2470.4 345.2,2446 345.5,2465.5 345.7,2480.1 345.9,2470.4 346.1,2470.4 346.3,2480.1 346.6,2465.6 346.8,2480.1 347,2465.6 347.2,2455.9 347.5,2451 347.7,2460.8 347.9,2480.2 348.1,2465.6 348.3,2446.2 348.6,2470.5 348.8,2465.6 349,2456 349.2,2460.8 349.4,2460.8 349.7,2460.8 349.9,2460.8 350.1,2456 350.3,2460.9 350.5,2441.5 350.8,2475.3 351,2480.2 351.2,2451.2 351.4,2465.7 351.6,2460.9 351.9,2465.7 352.1,2470.5 352.3,2465.7 352.5,2451.3 352.8,2465.7 353,2465.7 353.2,2465.7 353.4,2470.6 353.6,2456.1 353.9,2451.3 354.1,2460.9 354.3,2451.3 354.5,2461 354.7,2451.3 355,2456.2 355.2,2461 355.4,2441.7 355.6,2470.6 355.8,2461 356.1,2465.8 356.3,2451.4 356.5,2480.2 356.7,2456.2 357,2485 357.2,2456.3 357.4,2446.7 357.6,2451.5 357.8,2451.6 358.1,2470.7 358.3,2470.7 358.5,2475.5 358.7,2465.9 358.9,2456.4 359.2,2470.7 359.4,2470.7 359.6,2461.2 359.8,2480.2 360,2466 360.3,2470.8 360.5,2466 360.7,2461.3 360.9,2466 361.1,2447.1 361.4,2456.6 361.6,2466.1 361.8,2451.9 362,2456.6 362.3,2466.1 362.5,2466.1 362.7,2470.8 362.9,2470.8 363.1,2461.4 363.4,2461.4 363.6,2466.1 363.8,2480.3 364,2433.2 364.2,2475.6 364.5,2442.6 364.7,2456.7 364.9,2437.9 365.1,2470.9 365.3,2461.4 365.6,2461.4 365.8,2475.6 366,2456.7 366.2,2461.4 366.4,2466.1 366.7,2475.6 366.9,2456.6 367.1,2437.6 367.3,2456.5 367.6,2470.7 367.8,2437.3 368,2470.6 368.2,2451.4 368.4,2456.1 368.7,2465.6 368.9,2460.6 369.1,2440.8 369.3,2460.3 369.5,2455 369.8,2444.7 370,2439.1 370.2,2428.2 370.4,2443.2 370.6,2442.6 370.9,2447.3 371.1,2413.8 371.3,2423.7 371.5,2393.4 371.8,2421.4 372,2426 372.2,2424.7 372.4,2448.1 372.6,2393.4 372.9,2410.3 373.1,2393.4 373.3,2403.6 373.5,2422.3 373.7,2388.5 374,2393.4 374.2,2410.3 374.4,2423 374.6,2393.4 374.8,2393.4 375.1,2394.2 375.3,2437.1 375.5,2425.7 375.7,2397 375.9,2421.2 376.2,2398.9 376.4,2416.9 376.6,2417.6 376.8,2423.8 377.1,2407.9 377.3,2441.4 377.5,2463.4 377.7,2409.9 377.9,2431.8 378.2,2432.2 378.4,2453.5 378.6,2427.6 378.8,2438.3 379,2438.5 379.3,2443.9 379.5,2444 379.7,2439.1 379.9,2454.5 380.1,2429.2 380.4,2449.6 380.6,2444.7 380.8,2429.7 381,2439.8 381.2,2429.9 381.5,2465 381.7,2435.1 381.9,2415.3 382.1,2440.3 382.4,2455.2 382.6,2455.3 382.8,2420.8 383,2430.7 383.2,2440.7 383.5,2435.8 383.7,2445.7 383.9,2460.5 384.1,2450.8 384.3,2445.9 384.6,2441.1 384.8,2431.5 385,2451 385.2,2436.5 385.4,2455.9 385.7,2465.6 385.9,2460.8 386.1,2460.9 386.3,2465.7 386.6,2422.5 386.8,2441.8 387,2446.6 387.2,2465.8 387.4,2442 387.7,2480.2 387.9,2456.4 388.1,2456.4 388.3,2451.6 388.5,2461.1 388.8,2442 389,2432.4 389.2,2451.4 389.4,2417.6 389.6,2427 389.9,2441.2 390.1,2445.8 390.3,2440.7 390.5,2420.5 390.7,2425.1 391,2434.8 391.2,2424.4 391.4,2434.3 391.6,2419 391.9,2408.6 392.1,2444.5 392.3,2424.5 392.5,2459.9 392.7,2445.2 393,2420.9 393.2,2436.2 393.4,2460.8 393.6,2441.9 393.8,2418.5 394.1,2456.7 394.3,2447.6 394.5,2452.5 394.7,2457.3 394.9,2434.4 395.2,2434.6 395.4,2457.6 395.6,2462.2 395.8,2457.7 396,2475.9 396.3,2439.7 396.5,2448.8 396.7,2444.3 396.9,2430.9 397.2,2444.5 397.4,2453.5 397.6,2449.1 397.8,2467 398,2453.6 398.3,2467.1 398.5,2458.2 398.7,2458.2 398.9,2471.6 399.1,2422.6 399.4,2449.4 399.6,2453.9 399.8,2453.9 400,2467.3 400.2,2445.2 400.5,2454 400.7,2427.6 400.9,2449.7 401.1,2449.7 401.3,2458.6 401.6,2467.4 401.8,2458.7 402,2471.8 402.2,2454.3 402.5,2463.1 402.7,2454.4 402.9,2463.2 403.1,2467.6 403.3,2428.4 403.6,2450.2 403.8,2450.2 404,2480.7 404.2,2454.7 404.4,2463.4 404.7,2472 404.9,2459.1 405.1,2467.7 405.3,2446.2 405.5,2485 405.8,2459.2 406,2467.8 406.2,2472.1 406.4,2455 406.7,2455 406.9,2442.3 407.1,2446.6 407.3,2463.7 407.5,2446.7 407.8,2472.2 408,2446.7 408.2,2451 408.4,2438.3 408.6,2459.6 408.9,2459.6 409.1,2472.3 409.3,2430.1 409.5,2434.4 409.7,2455.5 410,2459.7 410.2,2455.6 410.4,2443 410.6,2451.4 410.8,2464.1 411.1,2443.1 411.3,2476.6 411.5,2459.9 411.7,2455.8 412,2443.3 412.2,2430.9 412.4,2468.4 412.6,2468.4 412.8,2443.5 413.1,2464.3 413.3,2447.7 413.5,2451.9 413.7,2456.1 413.9,2460.2 414.2,2464.4 414.4,2464.4 414.6,2468.5 414.8,2443.9 415,2464.5 415.3,2452.2 415.5,2456.3 415.7,2476.8 415.9,2468.7 416.1,2460.5 416.4,2464.6 416.6,2480.9 416.8,2460.6 417,2456.5 417.3,2456.6 417.5,2448.5 417.7,2444.5 417.9,2448.6 418.1,2464.8 418.4,2460.8 418.6,2456.8 418.8,2468.9 419,2456.8 419.2,2448.8 419.5,2472.9 419.7,2456.9 419.9,2460.9 420.1,2453 420.3,2457 420.6,2461 420.8,2449.1 421,2461.1 421.2,2461.1 421.5,2461.1 421.7,2461.1 421.9,2461.2 422.1,2453.2 422.3,2457.2 422.6,2453.3 422.8,2453.3 423,2465.2 423.2,2453.4 423.4,2449.5 423.7,2457.4 423.9,2473.2 424.1,2457.5 424.3,2457.5 424.5,2469.3 424.8,2473.2 425,2457.6 425.2,2465.4 425.4,2457.6 425.6,2461.6 425.9,2457.7 426.1,2449.9 426.3,2453.9 426.5,2450 426.8,2446.2 427,2465.6 427.2,2457.9 427.4,2450.1 427.6,2461.8 427.9,2469.5 428.1,2461.8 428.3,2446.4 428.5,2469.6 428.7,2461.9 429,2458.1 429.2,2454.3 429.4,2458.1 429.6,2439 429.8,2458.2 430.1,2458.2 430.3,2469.7 430.5,2462.1 430.7,2458.3 430.9,2481.2 431.2,2477.4 431.4,2458.4 431.6,2466 431.8,2466 432.1,2462.3 432.3,2454.7 432.5,2447.2 432.7,2469.9 432.9,2469.9 433.2,2469.9 433.4,2469.9 433.6,2454.9 433.8,2470 434,2458.7 434.3,2462.5 434.5,2458.7 434.7,2473.8 434.9,2470 435.1,2470 435.4,2462.6 435.6,2462.6 435.8,2470.1 436,2444 436.3,2462.7 436.5,2470.1 436.7,2451.6 436.9,2459 437.1,2455.4 437.4,2473.9 437.6,2444.3 437.8,2470.2 438,2459.2 438.2,2466.6 438.5,2459.2 438.7,2451.9 438.9,2455.6 439.1,2455.6 439.3,2466.7 439.6,2474 439.8,2470.4 440,2459.4 440.2,2455.8 440.4,2448.5 440.7,2470.4 440.9,2466.8 441.1,2463.2 441.3,2459.5 441.6,2459.6 441.8,2459.6 442,2463.2 442.2,2474.1 442.4,2456.1 442.7,2456.1 442.9,2474.2 443.1,2463.4 443.3,2459.8 443.5,2470.6 443.8,2467 444,2459.8 444.2,2459.9 444.4,2467.1 444.6,2463.5 444.9,2474.3 445.1,2460 445.3,2452.8 445.5,2470.7 445.7,2467.2 446,2460.1 446.2,2467.2 446.4,2449.5 446.6,2467.2 446.9,2477.9 447.1,2470.8 447.3,2460.2 447.5,2449.6 447.7,2460.3 448,2463.8 448.2,2456.8 448.4,2460.3 448.6,2449.8 448.8,2446.3 449.1,2449.9 449.3,2463.9 449.5,2467.5 449.7,2460.5 449.9,2460.5 450.2,2450 450.4,2474.5 450.6,2467.6 450.8,2474.5 451.1,2457.1 451.3,2460.7 451.5,2464.2 451.7,2464.2 451.9,2453.8 452.2,2467.7 452.4,2464.2 452.6,2464.3 452.8,2457.4 453,2460.8 453.3,2474.7 453.5,2464.3 453.7,2467.8 453.9,2467.8 454.1,2447.2 454.4,2447.3 454.6,2440.5 454.8,2461 455,2478.2 455.2,2437.2 455.5,2478.2 455.7,2454.3 455.9,2464.6 456.1,2457.8 456.4,2454.4 456.6,2461.2 456.8,2474.8 457,2468.1 457.2,2461.3 457.5,2474.9 457.7,2474.9 457.9,2471.5 458.1,2454.7 458.3,2464.8 458.6,2461.4 458.8,2468.2 459,2461.5 459.2,2464.9 459.4,2468.2 459.7,2481.7 459.9,2458.3 460.1,2475 460.3,2468.4 460.5,2468.4 460.8,2461.8 461,2475.1 461.2,2468.5 461.4,2478.4 461.7,2468.5 461.9,2478.4 462.1,2481.7 462.3,2471.9 462.5,2455.5 462.8,2465.3 463,2481.7 463.2,2452.3 463.4,2468.7 463.6,2462.2 463.9,2472 464.1,2468.7 464.3,2465.5 464.5,2472 464.7,2465.5 465,2462.3 465.2,2465.5 465.4,2468.8 465.6,2462.3 465.9,2459.1 466.1,2475.3 466.3,2478.5 466.5,2446.3 466.7,2459.2 467,2472.1 467.2,2475.3 467.4,2462.4 467.6,2475.3 467.8,2452.8 468.1,2468.9 468.3,2472.1 468.5,2462.4 468.7,2459.2 468.9,2465.7 469.2,2462.4 469.4,2472.1 469.6,2472.1 469.8,2468.9 470,2456 470.3,2478.6 470.5,2475.3 470.7,2472.1 470.9,2465.7 471.2,2475.3 471.4,2472.1 471.6,2462.5 471.8,2478.6 472,2481.8 472.3,2485 472.5,2465.7 472.7,2475.4 472.9,2462.5 473.1,2472.1 473.4,2475.4 473.6,2472.1 473.8,2468.9 474,2462.5 474.2,2472.1 474.5,2459.3 474.7,2449.7 474.9,2462.5 475.1,2465.7 475.3,2462.5 475.6,2468.9 475.8,2468.9 476,2472.2 476.2,2465.7 476.5,2469 476.7,2469 476.9,2481.8 477.1,2472.2 477.3,2469 477.6,2465.8 477.8,2469 478,2472.2 478.2,2449.7 478.4,2472.2 478.7,2472.2 478.9,2469 479.1,2478.6 479.3,2472.2 479.5,2465.8 479.8,2475.4 480,2459.4 480.2,2472.2 480.4,2456.2 480.7,2465.8 480.9,2469 481.1,2465.8 481.3,2472.2 481.5,2472.2 481.8,2472.2 482,2475.4 482.2,2465.8 482.4,2472.2 482.6,2459.4 482.9,2472.2 483.1,2465.8 483.3,2475.4 483.5,2462.6 483.7,2446.6 484,2475.4 484.2,2475.4 484.4,2469 484.6,2465.8 484.8,2453 485.1,2472.2 485.3,2469 485.5,2465.8 485.7,2472.2 486,2478.6 486.2,2449.9 486.4,2469 486.6,2469 486.8,2469 487.1,2465.9 487.3,2462.7 487.5,2469 487.7,2459.5 487.9,2456.3 488.2,2478.6 488.4,2462.7 488.6,2472.2 488.8,2465.9 489,2472.2 489.3,2475.4 489.5,2478.6 489.7,2465.9 489.9,2475.4 490.1,2472.3 490.4,2478.6 490.6,2475.4 490.8,2481.8 491,2475.4 491.3,2469.1 491.5,2481.8 491.7,2465.9 491.9,2462.7 492.1,2469.1 492.4,2456.4 492.6,2475.5 492.8,2441.6 493,2475.5 493.2,2478.6 493.5,2462.7 493.7,2465.9 493.9,2465.9 494.1,2465.9 494.3,2462.7 494.6,2453.2 494.8,2462.7 495,2459.6 495.2,2475.5 495.5,2475.5 495.7,2472.3 495.9,2465.9 496.1,2459.6 496.3,2475.5 496.6,2462.8 496.8,2462.8 497,2466 497.2,2472.3 497.4,2478.7 497.7,2472.3 497.9,2466 498.1,2462.8 498.3,2472.3 498.5,2472.3 498.8,2469.1 499,2481.8 499.2,2472.3 499.4,2469.1 499.6,2472.3 499.9,2469.1 500.1,2462.8 500.3,2466 500.5,2456.5 500.8,2453.3 501,2475.5 501.2,2462.8 501.4,2472.3 501.6,2472.3 501.9,2462.8 502.1,2462.8 502.3,2475.5 502.5,2456.5 502.7,2456.5 503,2472.3 503.2,2469.2 503.4,2459.7 503.6,2469.2 503.8,2462.9 504.1,2466 504.3,2462.9 504.5,2466 504.7,2466 504.9,2475.5 505.2,2469.2 505.4,2472.4 505.6,2478.7 505.8,2453.4 506.1,2469.2 506.3,2475.5 506.5,2469.2 506.7,2475.5 506.9,2459.7 507.2,2469.2 507.4,2478.7 507.6,2472.4 507.8,2453.4 508,2478.7 508.3,2469.2 508.5,2472.4 508.7,2475.5 508.9,2472.4 509.1,2462.9 509.4,2462.9 509.6,2453.5 509.8,2472.4 510,2475.5 510.2,2469.2 510.5,2481.8 510.7,2472.4 510.9,2466.1 511.1,2475.5 511.4,2481.8 511.6,2440.3 511.8,2466.1 512,2478.7 512.2,2469.3 512.5,2453.5 512.7,2456.7 512.9,2450.4 513.1,2469.3 513.3,2469.3 513.6,2463 513.8,2475.6 514,2469.3 514.2,2472.4 514.4,2475.6 514.7,2459.8 514.9,2478.7 515.1,2475.6 515.3,2459.8 515.6,2469.3 515.8,2478.7 516,2469.3 516.2,2478.7 516.4,2481.9 516.7,2463 516.9,2466.2 517.1,2481.9 517.3,2466.2 517.5,2472.4 517.8,2478.7 518,2472.4 518.2,2472.4 518.4,2472.4 518.6,2459.9 518.9,2478.7 519.1,2472.4 519.3,2450.5 519.5,2472.5 519.7,2466.2 520,2463 520.2,2463 520.4,2466.2 520.6,2469.3 520.9,2475.6 521.1,2475.6 521.3,2472.5 521.5,2463.1 521.7,2481.9 522,2463.1 522.2,2472.5 522.4,2466.2 522.6,2466.2 522.8,2478.7 523.1,2472.5 523.3,2463.1 523.5,2475.6 523.7,2463.1 523.9,2456.8 524.2,2466.2 524.4,2469.4 524.6,2481.9 524.8,2460 525,2472.5 525.3,2453.7 525.5,2460 525.7,2475.6 525.9,2475.6 526.2,2456.9 526.4,2469.4 526.6,2466.3 526.8,2472.5 527,2460 527.3,2460 527.5,2469.4 527.7,2460 527.9,2472.5 528.1,2475.6 528.4,2478.8 528.6,2472.5 528.8,2481.9 529,2478.8 529.2,2447.8 529.5,2472.5 529.7,2460 529.9,2472.5 530.1,2469.4 530.4,2472.5 530.6,2475.6 530.8,2472.5 531,2455.2 531.2,2463.2 531.5,2472.5 531.7,2463.2 531.9,2475.7 532.1,2466.3 532.3,2475.7 532.6,2472.5 532.8,2478.8 533,2475.7 533.2,2472.5 533.4,2478.8 533.7,2466.3 533.9,2460.1 534.1,2478.8 534.3,2460.1 534.5,2469.4 534.8,2460.1 535,2466.3 535.2,2475.7 535.4,2469.4 535.7,2478.8 535.9,2457 536.1,2478.8 536.3,2463.2 536.5,2475.7 536.8,2460.1 537,2472.6 537.2,2478.8 537.4,2475.7 537.6,2466.4 537.9,2466.4 538.1,2466.4 538.3,2469.5 538.5,2472.6 538.7,2469.5 539,2478.8 539.2,2472.6 539.4,2478.8 539.6,2481.9 539.8,2475.7 540.1,2475.7 540.3,2475.7 540.5,2478.8 540.7,2481.9 541,2475.7 541.2,2478.8 541.4,2463.3 541.6,2466.4 541.8,2466.4 542.1,2466.4 542.3,2472.6 542.5,2472.6 542.7,2469.5 542.9,2466.4 543.2,2472.6 543.4,2472.6 543.6,2469.5 543.8,2478.8 544,2469.5 544.3,2469.5 544.5,2469.5 544.7,2475.7 544.9,2466.4 545.2,2478.8 545.4,2463.3 545.6,2466.4 545.8,2472.6 546,2469.5 546.3,2469.5 546.5,2469.5 546.7,2475.7 546.9,2469.5 547.1,2469.5 547.4,2463.4 547.6,2475.7 547.8,2478.8 548,2466.5 548.2,2466.5 548.5,2485 548.7,2485 548.9,2475.7 549.1,2481.9 549.3,2457.2 549.6,2466.5 549.8,2472.7 550,2466.5 550.2,2469.6 550.5,2475.7 550.7,2463.4 550.9,2463.4 551.1,2460.3 551.3,2466.5 551.6,2472.7 551.8,2469.6 552,2457.3 552.2,2475.8 552.4,2475.8 552.7,2472.7 552.9,2478.8 553.1,2463.4 553.3,2457.3 553.5,2466.5 553.8,2478.8 554,2463.4 554.2,2469.6 554.4,2472.7 554.6,2466.5 554.9,2481.9 555.1,2475.8 555.3,2466.5 555.5,2472.7 555.8,2469.6 556,2472.7 556.2,2463.5 556.4,2475.8 556.6,2475.8 556.9,2463.5 557.1,2460.4 557.3,2466.6 557.5,2481.9 557.7,2469.6 558,2469.6 558.2,2466.6 558.4,2466.6 558.6,2463.5 558.8,2472.7 559.1,2472.7 559.3,2478.9 559.5,2475.8 559.7,2469.7 560,2469.7 560.2,2463.5 560.4,2475.8 560.6,2463.5 560.8,2475.8 561.1,2478.9 561.3,2475.8 561.5,2472.7 561.7,2457.4 561.9,2469.7 562.2,2475.8 562.4,2478.9 562.6,2460.5 562.8,2472.7 563,2460.5 563.3,2472.7 563.5,2460.5 563.7,2481.9 563.9,2469.7 564.1,2460.5 564.4,2463.6 564.6,2463.6 564.8,2472.8 565,2472.8 565.3,2469.7 565.5,2463.6 565.7,2457.5 565.9,2472.8 566.1,2478.9 566.4,2478.9 566.6,2472.8 566.8,2472.8 567,2457.5 567.2,2463.6 567.5,2472.8 567.7,2475.8 567.9,2469.7 568.1,2460.6 568.3,2460.6 568.6,2469.7 568.8,2463.6 569,2475.8 569.2,2472.8 569.4,2472.8 569.7,2469.7 569.9,2475.8 570.1,2475.8 570.3,2460.6 570.6,2469.7 570.8,2460.6 571,2466.7 571.2,2469.8 571.4,2475.9 571.7,2472.8 571.9,2457.6 572.1,2475.9 572.3,2469.8 572.5,2466.7 572.8,2475.9 573,2478.9 573.2,2478.9 573.4,2478.9 573.6,2466.7 573.9,2463.7 574.1,2485 574.3,2466.7 574.5,2469.8 574.8,2466.7 575,2454.6 575.2,2466.7 575.4,2460.7 575.6,2472.8 575.9,2463.7 576.1,2478.9 576.3,2475.9 576.5,2475.9 576.7,2469.8 577,2478.9 577.2,2482 577.4,2472.8 577.6,2469.8 577.8,2469.8 578.1,2472.8 578.3,2469.8 578.5,2469.8 578.7,2472.9 578.9,2475.9 579.2,2478.9 579.4,2466.8 579.6,2472.9 579.8,2482 580.1,2469.8 580.3,2482 580.5,2469.8 580.7,2475.9 580.9,2469.8 581.2,2472.9 581.4,2482 581.6,2475.9 581.8,2475.9 582,2463.8 582.3,2475.9 582.5,2469.8 582.7,2472.9 582.9,2478.9 583.1,2472.9 583.4,2475.9 583.6,2466.8 583.8,2478.9 584,2469.9 584.2,2451.7 584.5,2475.9 584.7,2469.9 584.9,2472.9 585.1,2475.9 585.4,2469.9 585.6,2472.9 585.8,2478.9 586,2472.9 586.2,2472.9 586.5,2469.9 586.7,2472.9 586.9,2475.9 587.1,2460.8 587.3,2472.9 587.6,2466.9 587.8,2472.9 588,2485 588.2,2472.9 588.4,2463.9 588.7,2472.9 588.9,2460.8 589.1,2475.9 589.3,2472.9 589.6,2469.9 589.8,2469.9 590,2457.8 590.2,2469.9 590.4,2479 590.7,2469.9 590.9,2463.9 591.1,2469.9 591.3,2476 591.5,2476 591.8,2479 592,2466.9 592.2,2472.9 592.4,2469.9 592.6,2463.9 592.9,2469.9 593.1,2472.9 593.3,2463.9 593.5,2469.9 593.7,2469.9 594,2476 594.2,2466.9 594.4,2463.9 594.6,2460.9 594.9,2463.9 595.1,2470 595.3,2476 595.5,2463.9 595.7,2476 596,2473 596.2,2470 596.4,2476 596.6,2470 596.8,2470 597.1,2467 597.3,2470 597.5,2479 597.7,2442.8 597.9,2473 598.2,2470 598.4,2458 598.6,2464 598.8,2461 599,2479 599.3,2476 599.5,2473 599.7,2476 599.9,2467 600.2,2464 600.4,2470 600.6,2467 600.8,2464 601,2461 601.3,2467 601.5,2473 601.7,2479 601.9,2479 602.1,2473 602.4,2467 602.6,2476 602.8,2467 603,2461 603.2,2473 603.5,2452.1 603.7,2467 603.9,2467 604.1,2479 604.3,2470 604.6,2476 604.8,2467 605,2476 605.2,2455.1 605.5,2470 605.7,2473 605.9,2479 606.1,2461.1 606.3,2467.1 606.6,2464.1 606.8,2470.1 607,2458.1 607.2,2458.1 607.4,2467.1 607.7,2476 607.9,2467.1 608.1,2473 608.3,2452.1 608.5,2476 608.8,2464.1 609,2473.1 609.2,2461.1 609.4,2479 609.7,2473.1 609.9,2473.1 610.1,2476 610.3,2473.1 610.5,2473.1 610.8,2473.1 611,2473.1 611.2,2470.1 611.4,2470.1 611.6,2473.1 611.9,2470.1 612.1,2470.1 612.3,2479 612.5,2470.1 612.7,2479 613,2473.1 613.2,2473.1 613.4,2479 613.6,2467.1 613.8,2464.2 614.1,2470.1 614.3,2476.1 614.5,2476.1 614.7,2473.1 615,2473.1 615.2,2470.1 615.4,2467.1 615.6,2470.1 615.8,2476.1 616.1,2479.1 616.3,2476.1 616.5,2476.1 616.7,2467.2 616.9,2476.1 617.2,2476.1 617.4,2476.1 617.6,2470.1 617.8,2470.1 618,2467.2 618.3,2467.2 618.5,2473.1 618.7,2467.2 618.9,2470.2 619.1,2452.3 619.4,2470.2 619.6,2473.1 619.8,2476.1 620,2455.3 620.3,2464.2 620.5,2476.1 620.7,2482 620.9,2476.1 621.1,2467.2 621.4,2467.2 621.6,2473.1 621.8,2473.1 622,2467.2 622.2,2464.3 622.5,2473.1 622.7,2467.2 622.9,2470.2 623.1,2476.1 623.3,2479.1 623.6,2473.2 623.8,2482 624,2464.3 624.2,2473.2 624.5,2470.2 624.7,2470.2 624.9,2482 625.1,2467.2 625.3,2470.2 625.6,2476.1 625.8,2470.2 626,2476.1 626.2,2470.2 626.4,2467.3 626.7,2464.3 626.9,2467.3 627.1,2473.2 627.3,2473.2 627.5,2467.3 627.8,2467.3 628,2467.3 628.2,2479.1 628.4,2467.3 628.6,2464.3 628.9,2467.3 629.1,2470.2 629.3,2461.4 629.5,2473.2 629.8,2473.2 630,2461.4 630.2,2455.5 630.4,2467.3 630.6,2464.4 630.9,2473.2 631.1,2467.3 631.3,2473.2 631.5,2467.3 631.7,2476.2 632,2470.3 632.2,2467.3 632.4,2467.3 632.6,2461.4 632.8,2479.1 633.1,2473.2 633.3,2482.1 633.5,2458.5 633.7,2482.1 633.9,2473.2 634.2,2473.2 634.4,2470.3 634.6,2476.2 634.8,2464.4 635.1,2473.2 635.3,2479.1 635.5,2464.4 635.7,2479.1 635.9,2470.3 636.2,2473.2 636.4,2461.5 636.6,2470.3 636.8,2479.1 637,2482.1 637.3,2473.2 637.5,2473.2 637.7,2476.2 637.9,2461.5 638.1,2479.1 638.4,2464.4 638.6,2464.4 638.8,2476.2 639,2464.5 639.3,2479.1 639.5,2473.3 639.7,2482.1 639.9,2476.2 640.1,2479.1 640.4,2467.4 640.6,2470.3 640.8,2482.1 641,2467.4 641.2,2479.1 641.5,2467.4 641.7,2470.3 641.9,2461.6 642.1,2476.2 642.3,2479.1 642.6,2473.3 642.8,2482.1 643,2470.4 643.2,2476.2 643.4,2458.6 643.7,2479.1 643.9,2467.4 644.1,2473.3 644.3,2470.4 644.6,2476.2 644.8,2482.1 645,2479.1 645.2,2470.4 645.4,2479.2 645.7,2473.3 645.9,2470.4 646.1,2476.2 646.3,2473.3 646.5,2470.4 646.8,2479.2 647,2476.2 647.2,2455.8 647.4,2464.6 647.6,2473.3 647.9,2462.7 648.1,2479.2 648.3,2462.7 648.5,2476.2 648.7,2470.4 649,2473.3 649.2,2462.7 649.4,2462.7 649.6,2455.2 649.9,2462.7 650.1,2470.4 650.3,2470.4 650.5,2464.6 650.7,2470.4 651,2479.2 651.2,2470.4 651.4,2473.3 651.6,2464.6 651.8,2470.4 652.1,2470.4 652.3,2479.2 652.5,2464.6 652.7,2473.4 652.9,2464.6 653.2,2470.4 653.4,2467.5 653.6,2467.5 653.8,2485 654.1,2479.2 654.3,2464.6 654.5,2473.4 654.7,2470.5 654.9,2467.5 655.2,2467.6 655.4,2476.3 655.6,2473.4 655.8,2473.4 656,2461.7 656.3,2482.1 656.5,2461.8 656.7,2479.2 656.9,2461.8 657.1,2461.8 657.4,2482.1 657.6,2458.9 657.8,2470.5 658,2470.5 658.2,2470.5 658.5,2473.4 658.7,2470.5 658.9,2473.4 659.1,2473.4 659.4,2479.2 659.6,2470.5 659.8,2453.1 660,2473.4 660.2,2476.3 660.5,2476.3 660.7,2461.8 660.9,2479.2 661.1,2470.5 661.3,2467.6 661.6,2476.3 661.8,2470.5 662,2458.9 662.2,2476.3 662.4,2467.6 662.7,2476.3 662.9,2464.7 663.1,2473.4 663.3,2464.7 663.5,2467.6 663.8,2479.2 664,2470.5 664.2,2476.3 664.4,2470.5 664.7,2464.8 664.9,2467.6 665.1,2476.3 665.3,2464.8 665.5,2470.5 665.8,2470.5 666,2461.9 666.2,2464.8 666.4,2479.2 666.6,2464.8 666.9,2461.9 667.1,2467.7 667.3,2467.7 667.5,2461.9 667.7,2479.2 668,2479.2 668.2,2467.7 668.4,2479.2 668.6,2470.6 668.9,2473.5 669.1,2464.8 669.3,2476.3 669.5,2482.1 669.7,2476.3 670,2467.7 670.2,2470.6 670.4,2476.4 670.6,2476.4 670.8,2476.4 671.1,2476.4 671.3,2464.8 671.5,2462 671.7,2467.7 671.9,2476.4 672.2,2473.5 672.4,2476.4 672.6,2470.6 672.8,2479.2 673,2476.4 673.3,2467.7 673.5,2473.5 673.7,2462 673.9,2459.1 674.2,2476.4 674.4,2467.7 674.6,2482.1 674.8,2467.7 675,2470.6 675.3,2470.6 675.5,2482.1 675.7,2473.5 675.9,2479.3 676.1,2462 676.4,2470.6 676.6,2482.1 676.8,2459.2 677,2473.5 677.2,2470.6 677.5,2464.9 677.7,2462 677.9,2473.5 678.1,2467.8 678.3,2470.7 678.6,2479.3 678.8,2473.5 679,2473.5 679.2,2473.5 679.5,2459.2 679.7,2462.1 679.9,2473.5 680.1,2467.8 680.3,2470.7 680.6,2476.4 680.8,2467.8 681,2479.3 681.2,2467.8 681.4,2465 681.7,2465 681.9,2479.3 682.1,2470.7 682.3,2465 682.5,2465 682.8,2473.6 683,2473.6 683.2,2467.8 683.4,2479.3 683.7,2470.7 683.9,2462.1 684.1,2470.7 684.3,2470.7 684.5,2479.3 684.8,2470.7 685,2470.7 685.2,2470.7 685.4,2473.6 685.6,2456.4 685.9,2467.9 686.1,2482.1 686.3,2467.9 686.5,2482.1 686.7,2459.3 687,2470.7 687.2,2465 687.4,2473.6 687.6,2470.7 687.8,2479.3 688.1,2473.6 688.3,2473.6 688.5,2476.4 688.7,2476.4 689,2456.5 689.2,2470.7 689.4,2473.6 689.6,2473.6 689.8,2467.9 690.1,2456.5 690.3,2465.1 690.5,2479.3 690.7,2473.6 690.9,2456.5 691.2,2470.8 691.4,2467.9 691.6,2465.1 691.8,2470.8 692,2459.4 692.3,2467.9 692.5,2479.3 692.7,2473.6 692.9,2467.9 693.1,2479.3 693.4,2462.2 693.6,2456.6 693.8,2479.3 694,2479.3 694.3,2467.9 694.5,2485 694.7,2470.8 694.9,2459.4 695.1,2473.6 695.4,2465.1 695.6,2450.9 695.8,2465.1 696,2479.3 696.2,2473.6 696.5,2456.6 696.7,2470.8 696.9,2470.8 697.1,2473.6 697.3,2479.3 697.6,2462.3 697.8,2465.1 698,2465.1 698.2,2473.7 698.5,2473.7 698.7,2476.5 698.9,2473.7 699.1,2465.2 699.3,2462.3 699.6,2459.5 699.8,2459.5 700,2462.3 700.2,2459.5 700.4,2473.7 700.7,2453.9 700.9,2456.7 701.1,2468 701.3,2473.7 701.5,2473.7 701.8,2468 702,2470.9 702.2,2459.5 702.4,2470.9 702.6,2462.3 702.9,2459.5 703.1,2456.6 703.3,2453.7 703.5,2453.7 703.8,2467.9 704,2467.9 704.2,2459.3 704.4,2462.1 704.6,2453.5 704.9,2450.6 705.1,2459.2 705.3,2467.8 705.5,2467.7 705.7,2464.8 706,2456.1 706.2,2450.3 706.4,2453.2 706.6,2458.9 706.8,2476.3 707.1,2453 707.3,2467.5 707.5,2452.9 707.7,2444.1 707.9,2429.4 708.2,2455.7 708.4,2443.9 708.6,2455.6 708.8,2458.4 709.1,2476.1 709.3,2455.4 709.5,2470.2 709.7,2458.2 709.9,2461.2 710.2,2449.2 710.4,2455.1 710.6,2443 710.8,2455 711,2451.9 711.3,2463.9 711.5,2442.7 711.7,2466.8 711.9,2430.3 712.1,2448.4 712.4,2454.5 712.6,2445.2 712.8,2448.2 713,2441.9 713.2,2460.3 713.5,2438.6 713.7,2444.7 713.9,2453.9 714.1,2460 714.4,2450.6 714.6,2450.5 714.8,2440.9 715,2431.3 715.2,2434.3 715.5,2440.4 715.7,2437.1 715.9,2452.9 716.1,2452.8 716.3,2439.7 716.6,2436.2 716.8,2416.4 717,2442.3 717.2,2422.2 717.4,2428.5 717.7,2441.5 717.9,2434.4 718.1,2423.8 718.3,2413.1 718.6,2398.6 718.8,2425.7 719,2435.7 719.2,2406.6 719.4,2420.2 719.7,2415.7 719.9,2392.6 720.1,2398.9 720.3,2424.2 720.5,2377 720.8,2406.6 721,2381.3 721.2,2411.9 721.4,2361 721.6,2417.6 721.9,2381.8 722.1,2362.1 722.3,2395.4 722.5,2365.9 722.7,2339.9 723,2346.2 723.2,2298.2 723.4,2350.9 723.6,2327 723.9,2283.9 724.1,2370.1 724.3,2303.1 724.5,2317.4 724.7,2326.7 725,2274.5 725.2,2241.7 725.4,2278.9 725.6,2269.4 725.8,2229.6 726.1,2259.9 726.3,2259.7 726.5,2282.4 726.7,2232.2 726.9,2224.6 727.2,2282.5 727.4,2301 727.6,2278.4 727.8,2260.4 728,2229.6 728.3,2237.5 728.5,2265.6 728.7,2265.6 728.9,2303.6 729.2,2289.4 729.4,2318 729.6,2294.2 729.8,2356.2 730,2289.5 730.3,2359.8 730.5,2327.5 730.7,2327.6 730.9,2344.8 731.1,2394 731.4,2396.4 731.6,2418.3 731.8,2389.3 732,2402.7 732.2,2378.9 732.5,2409.8 732.7,2404.2 732.9,2436.7 733.1,2437.5 733.4,2421.5 733.6,2445.5 733.8,2429.7 734,2459.3 734.2,2446.9 734.5,2441 734.7,2432 734.9,2457.2 735.1,2454.3 735.3,2460.6 735.6,2448.6 735.8,2454.8 736,2455 736.2,2467.1 736.4,2467.1 736.7,2452.3 736.9,2464.3 737.1,2443.6 737.3,2455.5 737.5,2449.7 737.8,2467.4 738,2449.7 738.2,2438 738.4,2467.4 738.7,2443.9 738.9,2440.9 739.1,2438 739.3,2467.4 739.5,2437.9 739.8,2446.7 740,2452.5 740.2,2449.5 740.4,2437.6 740.6,2452.3 740.9,2461.2 741.1,2440.2 741.3,2446 741.5,2451.9 741.7,2436.7 742,2428.2 742.2,2439.4 742.4,2448.4 742.6,2463.6 742.8,2454.3 743.1,2451.1 743.3,2463.3 743.5,2441.5 743.7,2441.3 744,2453.6 744.2,2444.1 744.4,2428.2 744.6,2446.9 744.8,2440.4 745.1,2430.7 745.3,2428.2 745.5,2465.7 745.7,2428.2 745.9,2428.2 746.2,2439.7 746.4,2428.2 746.6,2433 746.8,2439.4 747,2449.2 747.3,2436.1 747.5,2436.1 747.7,2423.2 747.9,2429.6 748.2,2432.9 748.4,2428.2 748.6,2446.1 748.8,2428.2 749,2443 749.3,2428.2 749.5,2436.9 749.7,2430.6 749.9,2443.6 750.1,2443.7 750.4,2447.1 750.6,2434.6 750.8,2453.7 751,2441.3 751.2,2444.6 751.5,2454.1 751.7,2463.5 751.9,2448.3 752.1,2436.3 752.3,2433.4 752.6,2460.8 752.8,2451.9 753,2431.1 753.2,2443.3 753.5,2455.3 753.7,2458.4 753.9,2443.7 754.1,2455.6 754.3,2461.6 754.6,2444.1 754.8,2447.1 755,2467.5 755.2,2453 755.4,2467.6 755.7,2461.8 755.9,2444.4 756.1,2456 756.3,2441.4 756.5,2455.9 756.8,2441.3 757,2461.7 757.2,2452.8 757.4,2452.7 757.6,2449.7 757.9,2452.5 758.1,2452.4 758.3,2449.3 758.5,2446.1 758.8,2467 759,2463.8 759.2,2436.4 759.4,2442.2 759.6,2448.1 759.9,2460.3 760.1,2429.1 760.3,2438.2 760.5,2463 760.7,2428.2 761,2446.9 761.2,2446.7 761.4,2417.7 761.6,2427.1 761.8,2443 762.1,2420.2 762.3,2423.3 762.5,2449.2 762.7,2423 763,2422.9 763.2,2439.2 763.4,2452.3 763.6,2445.8 763.8,2449.1 764.1,2449.2 764.3,2420.1 764.5,2397.4 764.7,2439.9 764.9,2427.2 765.2,2443.5 765.4,2453.2 765.6,2437.6 765.8,2428.4 766,2441.3 766.3,2444.6 766.5,2457.2 766.7,2445.2 766.9,2415 767.1,2454.8 767.4,2458 767.6,2446.3 767.8,2458.4 768,2438 768.3,2447.1 768.5,2432.8 768.7,2453.3 768.9,2453.5 769.1,2456.6 769.4,2462.4 769.6,2451.3 769.8,2468.2 770,2457.2 770.2,2460.1 770.5,2463 770.7,2479.5 770.9,2468.6 771.1,2460.5 771.3,2468.7 771.6,2463.3 771.8,2460.6 772,2468.7 772.2,2468.7 772.4,2466 772.7,2463.3 772.9,2474.2 773.1,2474.2 773.3,2468.7 773.6,2476.9 773.8,2463.3 774,2471.5 774.2,2460.6 774.4,2460.6 774.7,2474.2 774.9,2474.2 775.1,2476.9 775.3,2460.6 775.5,2460.7 775.8,2471.5 776,2474.2 776.2,2463.4 776.4,2463.4 776.6,2466.1 776.9,2476.9 777.1,2482.3 777.3,2468.8 777.5,2471.5 777.8,2471.5 778,2476.9 778.2,2474.2 778.4,2479.6 778.6,2463.4 778.9,2479.6 779.1,2468.8 779.3,2474.2 779.5,2471.5 779.7,2482.3 780,2471.5 780.2,2474.2 780.4,2466.1 780.6,2476.9 780.8,2468.8 781.1,2468.8 781.3,2466.1 781.5,2476.9 781.7,2476.9 781.9,2474.2 782.2,2479.6 782.4,2476.9 782.6,2485 782.8,2474.2 783.1,2471.5 783.3,2468.8 783.5,2463.5 783.7,2458.1 783.9,2474.2 784.2,2476.9 784.4,2466.2 784.6,2476.9 784.8,2474.2 785,2471.6 785.3,2479.6 785.5,2468.9 785.7,2463.5 785.9,2474.2 786.1,2460.8 786.4,2479.6 786.6,2460.8 786.8,2476.9 787,2468.9 787.2,2468.9 787.5,2468.9 787.7,2471.6 787.9,2463.5 788.1,2463.5 788.4,2471.6 788.6,2479.6 788.8,2466.2 789,2474.3 789.2,2482.3 789.5,2455.5 789.7,2468.9 789.9,2479.6 790.1,2468.9 790.3,2471.6 790.6,2468.9 790.8,2477 791,2468.9 791.2,2471.6 791.4,2482.3 791.7,2471.6 791.9,2471.6 792.1,2477 792.3,2468.9 792.6,2460.9 792.8,2466.3 793,2471.6 793.2,2468.9 793.4,2479.6 793.7,2469 793.9,2463.6 794.1,2482.3 794.3,2469 794.5,2474.3 794.8,2471.6 795,2469 795.2,2452.9 795.4,2466.3 795.6,2466.3 795.9,2471.6 796.1,2458.3 796.3,2466.3 796.5,2471.6 796.7,2469 797,2477 797.2,2469 797.4,2463.7 797.6,2471.7 797.9,2471.7 798.1,2466.3 798.3,2474.3 798.5,2471.7 798.7,2471.7 799,2474.3 799.2,2471.7 799.4,2471.7 799.6,2471.7 799.8,2477 800.1,2469 800.3,2466.4 800.5,2474.3 800.7,2466.4 800.9,2477 801.2,2474.4 801.4,2463.7 801.6,2479.7 801.8,2477 802,2469 802.3,2482.3 802.5,2469 802.7,2477 802.9,2469 803.2,2477 803.4,2474.4 803.6,2458.4 803.8,2471.7 804,2474.4 804.3,2469.1 804.5,2474.4 804.7,2469.1 804.9,2471.7 805.1,2471.7 805.4,2471.7 805.6,2477 805.8,2469.1 806,2471.7 806.2,2479.7 806.5,2461.1 806.7,2471.7 806.9,2479.7 807.1,2461.1 807.4,2469.1 807.6,2461.1 807.8,2471.7 808,2471.7 808.2,2474.4 808.5,2477.1 808.7,2479.7 808.9,2474.4 809.1,2474.4 809.3,2474.4 809.6,2479.7 809.8,2461.2 810,2474.4 810.2,2477.1 810.4,2479.7 810.7,2474.4 810.9,2474.4 811.1,2469.1 811.3,2474.4 811.5,2466.5 811.8,2474.4 812,2461.2 812.2,2477.1 812.4,2466.5 812.7,2482.4 812.9,2477.1 813.1,2466.5 813.3,2471.8 813.5,2482.4 813.8,2477.1 814,2471.8 814.2,2471.8 814.4,2471.8 814.6,2471.8 814.9,2469.2 815.1,2479.7 815.3,2474.4 815.5,2466.5 815.7,2477.1 816,2479.7 816.2,2477.1 816.4,2471.8 816.6,2463.9 816.8,2474.5 817.1,2479.7 817.3,2474.5 817.5,2466.6 817.7,2466.6 818,2474.5 818.2,2477.1 818.4,2456 818.6,2471.8 818.8,2477.1 819.1,2474.5 819.3,2466.6 819.5,2471.8 819.7,2466.6 819.9,2474.5 820.2,2466.6 820.4,2466.6 820.6,2469.2 820.8,2477.1 821,2482.4 821.3,2477.1 821.5,2471.9 821.7,2469.2 821.9,2477.1 822.1,2471.9 822.4,2466.6 822.6,2471.9 822.8,2466.6 823,2471.9 823.3,2482.4 823.5,2474.5 823.7,2485 823.9,2466.6 824.1,2464 824.4,2477.1 824.6,2469.3 824.8,2479.8 825,2477.1 825.2,2477.1 825.5,2458.8 825.7,2474.5 825.9,2477.1 826.1,2479.8 826.3,2466.7 826.6,2461.4 826.8,2469.3 827,2466.7 827.2,2471.9 827.5,2471.9 827.7,2471.9 827.9,2469.3 828.1,2466.7 828.3,2456.2 828.6,2458.8 828.8,2469.3 829,2477.2 829.2,2477.2 829.4,2466.7 829.7,2458.9 829.9,2458.9 830.1,2471.9 830.3,2471.9 830.5,2469.3 830.8,2466.7 831,2474.6 831.2,2458.9 831.4,2469.3 831.6,2464.1 831.9,2477.2 832.1,2471.9 832.3,2477.2 832.5,2469.3 832.8,2472 833,2464.1 833.2,2482.4 833.4,2464.1 833.6,2464.1 833.9,2472 834.1,2474.6 834.3,2466.8 834.5,2469.4 834.7,2477.2 835,2469.4 835.2,2472 835.4,2472 835.6,2472 835.8,2477.2 836.1,2464.2 836.3,2477.2 836.5,2477.2 836.7,2477.2 836.9,2466.8 837.2,2477.2 837.4,2477.2 837.6,2459 837.8,2474.6 838.1,2469.4 838.3,2469.4 838.5,2474.6 838.7,2477.2 838.9,2469.4 839.2,2469.4 839.4,2466.8 839.6,2469.4 839.8,2472 840,2472 840.3,2477.2 840.5,2472 840.7,2466.8 840.9,2472 841.1,2477.2 841.4,2469.4 841.6,2466.8 841.8,2477.2 842,2464.3 842.3,2472 842.5,2472 842.7,2472 842.9,2461.7 843.1,2464.3 843.4,2461.7 843.6,2479.8 843.8,2474.6 844,2469.5 844.2,2461.7 844.5,2479.8 844.7,2479.8 844.9,2474.6 845.1,2472.1 845.3,2472.1 845.6,2461.7 845.8,2461.7 846,2469.5 846.2,2474.7 846.4,2479.8 846.7,2469.5 846.9,2464.3 847.1,2469.5 847.3,2472.1 847.6,2461.7 847.8,2472.1 848,2479.8 848.2,2477.3 848.4,2469.5 848.7,2477.3 848.9,2474.7 849.1,2456.6 849.3,2477.3 849.5,2479.8 849.8,2477.3 850,2466.9 850.2,2461.8 850.4,2469.5 850.6,2466.9 850.9,2477.3 851.1,2472.1 851.3,2474.7 851.5,2461.8 851.7,2477.3 852,2464.4 852.2,2467 852.4,2461.8 852.6,2472.1 852.9,2477.3 853.1,2469.6 853.3,2472.1 853.5,2482.4 853.7,2467 854,2472.1 854.2,2479.9 854.4,2479.9 854.6,2469.6 854.8,2472.1 855.1,2469.6 855.3,2459.3 855.5,2469.6 855.7,2474.7 855.9,2472.2 856.2,2469.6 856.4,2472.2 856.6,2464.5 856.8,2474.7 857.1,2454.2 857.3,2474.7 857.5,2467 857.7,2477.3 857.9,2474.7 858.2,2472.2 858.4,2467 858.6,2467 858.8,2469.6 859,2464.5 859.3,2467.1 859.5,2477.3 859.7,2474.7 859.9,2469.6 860.1,2472.2 860.4,2469.6 860.6,2472.2 860.8,2467.1 861,2467.1 861.2,2467.1 861.5,2464.5 861.7,2462 861.9,2469.6 862.1,2474.8 862.4,2469.6 862.6,2472.2 862.8,2472.2 863,2464.5 863.2,2451.8 863.5,2467.1 863.7,2467.1 863.9,2469.7 864.1,2464.6 864.3,2482.4 864.6,2462 864.8,2449.2 865,2454.3 865.2,2456.9 865.4,2449.2 865.7,2467.1 865.9,2462 866.1,2467.1 866.3,2474.8 866.5,2474.8 866.8,2461.9 867,2482.4 867.2,2454.2 867.4,2464.4 867.7,2467 867.9,2466.9 868.1,2454 868.3,2472.1 868.5,2469.5 868.8,2459.1 869,2459 869.2,2459 869.4,2453.7 869.6,2471.9 869.9,2437.9 870.1,2474.5 870.3,2456.1 870.5,2456.1 870.7,2442.8 871,2463.9 871.2,2450.6 871.4,2455.8 871.6,2447.8 871.9,2455.7 872.1,2460.9 872.3,2455.5 872.5,2466.2 872.7,2431.1 873,2474.2 873.2,2444.4 873.4,2433.4 873.6,2457.8 873.8,2455 874.1,2454.9 874.3,2471.3 874.5,2457.5 874.7,2449.1 874.9,2443.4 875.2,2448.8 875.4,2457.1 875.6,2440.2 875.8,2445.7 876,2468.1 876.3,2422.8 876.5,2433.9 876.7,2439.4 876.9,2439.3 877.2,2436.2 877.4,2430.3 877.6,2441.6 877.8,2418.3 878,2438.4 878.3,2449.9 878.5,2449.8 878.7,2420.2 878.9,2419.9 879.1,2449.4 879.4,2431.3 879.6,2437.1 879.8,2415.8 880,2436.7 880.2,2424.4 880.5,2436.3 880.7,2433 880.9,2417.5 881.1,2408 881.3,2432.4 881.6,2419.8 881.8,2385.2 882,2419.2 882.2,2409.5 882.5,2409.2 882.7,2408.9 882.9,2399 883.1,2421 883.3,2411.1 883.6,2381.8 883.8,2417 884,2403.6 884.2,2400 884.4,2445.6 884.7,2405.8 884.9,2412.1 885.1,2395.1 885.3,2401.4 885.5,2427.8 885.8,2397.1 886,2406.8 886.2,2406.4 886.4,2395.6 886.7,2384.7 886.9,2363.2 887.1,2376.4 887.3,2393.3 887.5,2414 887.8,2349 888,2409.2 888.2,2375.7 888.4,2404 888.6,2391.9 888.9,2394.5 889.1,2381.7 889.3,2368.5 889.5,2366.5 889.7,2356.2 890,2349.5 890.2,2396.8 890.4,2373.2 890.6,2334.3 890.8,2304.2 891.1,2299.9 891.3,2359.7 891.5,2304.1 891.7,2286.9 892,2278.1 892.2,2261 892.4,2255.9 892.6,2222.8 892.8,2252.6 893.1,2223.2 893.3,2178.8 893.5,2157.4 893.7,2113.8 893.9,2099.9 894.2,2096.7 894.4,2039.2 894.6,2000.1 894.8,2056.3 895,2051.8 895.3,1922.8 895.5,1956.7 895.7,2003.5 895.9,1965.3 896.1,1884.1 896.4,1904.1 896.6,1818.1 896.8,1818.1 897,1877.1 897.3,1853 897.5,1813.1 897.7,1827 897.9,1838.6 898.1,1834.6 898.4,1931.1 898.6,1872 898.8,1825.8 899,1945.6 899.2,1961.1 899.5,1927.9 899.7,2062 899.9,2067.1 900.1,2089.7 900.3,2079.3 900.6,2160.2 900.8,2208.8 901,2204.6 901.2,2195.5 901.5,2279.8 901.7,2225.9 901.9,2291.6 902.1,2313.3 902.3,2276 902.6,2348.3 902.8,2322.7 903,2383.6 903.2,2330.7 903.4,2387.2 903.7,2356.5 903.9,2378.8 904.1,2399.7 904.3,2381.2 904.5,2366.8 904.8,2409.1 905,2400.9 905.2,2427.9 905.4,2419.5 905.6,2414.3 905.9,2412.3 906.1,2443.1 906.3,2443.6 906.5,2432.3 906.8,2415.5 907,2427.6 907.2,2433.7 907.4,2445.4 907.6,2434.5 907.9,2423.7 908.1,2449 908.3,2460.2 908.5,2454.9 908.7,2457.7 909,2455.2 909.2,2447.2 909.4,2447.4 909.6,2450.2 909.8,2474.3 910.1,2458.4 910.3,2437.4 910.5,2458.6 910.7,2461.3 910.9,2474.5 911.2,2453.6 911.4,2435.5 911.6,2446 911.8,2451.3 912.1,2454 912.3,2472.1 912.5,2459.3 912.7,2454.2 912.9,2464.5 913.2,2454.3 913.4,2464.6 913.6,2464.6 913.8,2462.1 914,2472.3 914.3,2464.8 914.5,2457.2 914.7,2467.3 914.9,2472.4 915.1,2462.4 915.4,2457.4 915.6,2457.4 915.8,2460 916,2457.5 916.2,2467.5 916.5,2470 916.7,2457.6 916.9,2467.6 917.1,2465.1 917.4,2472.6 917.6,2465.2 917.8,2472.6 918,2470.1 918.2,2465.2 918.5,2467.7 918.7,2482.5 918.9,2462.7 919.1,2477.6 919.3,2470.1 919.6,2475.1 919.8,2467.7 920,2470.1 920.2,2477.6 920.4,2457.7 920.7,2457.7 920.9,2457.8 921.1,2465.2 921.3,2470.1 921.6,2465.2 921.8,2447.8 922,2475.1 922.2,2467.7 922.4,2467.7 922.7,2472.6 922.9,2475.1 923.1,2475.1 923.3,2460.2 923.5,2465.2 923.8,2467.7 924,2470.1 924.2,2477.6 924.4,2460.2 924.6,2482.5 924.9,2452.8 925.1,2465.2 925.3,2465.2 925.5,2470.1 925.7,2457.8 926,2482.5 926.2,2460.2 926.4,2465.2 926.6,2462.7 926.9,2470.2 927.1,2475.1 927.3,2462.7 927.5,2467.7 927.7,2467.7 928,2470.2 928.2,2482.5 928.4,2470.2 928.6,2472.6 928.8,2472.6 929.1,2475.1 929.3,2457.8 929.5,2467.7 929.7,2462.7 929.9,2447.9 930.2,2472.6 930.4,2462.7 930.6,2480.1 930.8,2470.2 931,2470.2 931.3,2455.3 931.5,2467.7 931.7,2465.2 931.9,2470.2 932.2,2482.5 932.4,2470.2 932.6,2467.7 932.8,2472.6 933,2465.2 933.3,2460.3 933.5,2460.3 933.7,2477.6 933.9,2472.6 934.1,2472.6 934.4,2472.6 934.6,2460.3 934.8,2477.6 935,2467.7 935.2,2475.1 935.5,2467.7 935.7,2475.1 935.9,2472.6 936.1,2467.7 936.4,2480.1 936.6,2477.6 936.8,2455.3 937,2475.1 937.2,2470.2 937.5,2470.2 937.7,2472.6 937.9,2482.5 938.1,2467.7 938.3,2467.7 938.6,2472.6 938.8,2467.7 939,2462.8 939.2,2462.8 939.4,2480.1 939.7,2470.2 939.9,2470.2 940.1,2470.2 940.3,2480.1 940.5,2477.6 940.8,2475.1 941,2472.7 941.2,2475.1 941.4,2472.7 941.7,2470.2 941.9,2465.2 942.1,2465.2 942.3,2465.2 942.5,2462.8 942.8,2472.7 943,2465.2 943.2,2472.7 943.4,2480.1 943.6,2467.7 943.9,2480.1 944.1,2475.1 944.3,2470.2 944.5,2465.3 944.7,2467.7 945,2477.6 945.2,2470.2 945.4,2475.1 945.6,2467.7 945.8,2462.8 946.1,2470.2 946.3,2472.7 946.5,2460.3 946.7,2480.1 947,2480.1 947.2,2470.2 947.4,2480.1 947.6,2462.8 947.8,2475.1 948.1,2482.5 948.3,2470.2 948.5,2470.2 948.7,2465.3 948.9,2470.2 949.2,2467.7 949.4,2475.1 949.6,2482.5 949.8,2477.6 950,2482.5 950.3,2462.8 950.5,2480.1 950.7,2472.7 950.9,2470.2 951.2,2472.7 951.4,2480.1 951.6,2470.2 951.8,2467.7 952,2472.7 952.3,2472.7 952.5,2467.7 952.7,2472.7 952.9,2472.7 953.1,2470.2 953.4,2475.1 953.6,2470.2 953.8,2482.5 954,2470.2 954.2,2470.2 954.5,2482.5 954.7,2470.2 954.9,2467.7 955.1,2475.1 955.3,2472.7 955.6,2472.7 955.8,2470.2 956,2480.1 956.2,2475.1 956.5,2472.7 956.7,2480.1 956.9,2477.6 957.1,2472.7 957.3,2482.5 957.6,2470.2 957.8,2470.2 958,2467.8 958.2,2462.8 958.4,2467.8 958.7,2475.1 958.9,2472.7 959.1,2467.8 959.3,2475.1 959.5,2470.2 959.8,2472.7 960,2465.3 960.2,2472.7 960.4,2477.6 960.6,2460.4 960.9,2472.7 961.1,2477.6 961.3,2475.2 961.5,2475.2 961.8,2470.2 962,2470.2 962.2,2470.2 962.4,2472.7 962.6,2467.8 962.9,2477.6 963.1,2470.2 963.3,2465.3 963.5,2467.8 963.7,2467.8 964,2475.2 964.2,2475.2 964.4,2477.6 964.6,2477.6 964.8,2467.8 965.1,2472.7 965.3,2460.4 965.5,2480.1 965.7,2462.9 966,2480.1 966.2,2470.2 966.4,2477.6 966.6,2472.7 966.8,2475.2 967.1,2470.2 967.3,2477.6 967.5,2475.2 967.7,2467.8 967.9,2470.2 968.2,2460.4 968.4,2475.2 968.6,2470.2 968.8,2485 969,2475.2 969.3,2475.2 969.5,2477.6 969.7,2470.2 969.9,2475.2 970.1,2472.7 970.4,2460.4 970.6,2475.2 970.8,2477.6 971,2472.7 971.3,2465.3 971.5,2462.9 971.7,2467.8 971.9,2470.3 972.1,2480.1 972.4,2472.7 972.6,2477.6 972.8,2467.8 973,2467.8 973.2,2475.2 973.5,2472.7 973.7,2453.1 973.9,2475.2 974.1,2480.1 974.3,2467.8 974.6,2472.7 974.8,2480.1 975,2470.3 975.2,2470.3 975.4,2475.2 975.7,2472.7 975.9,2460.4 976.1,2465.3 976.3,2472.7 976.6,2470.3 976.8,2458 977,2462.9 977.2,2460.4 977.4,2470.3 977.7,2475.2 977.9,2460.4 978.1,2470.3 978.3,2460.4 978.5,2462.8 978.8,2457.8 979,2462.7 979.2,2455.1 979.4,2475 979.6,2470 979.9,2464.9 980.1,2472.4 980.3,2454.6 980.5,2462.1 980.8,2454.4 981,2446.6 981.2,2467 981.4,2454 981.6,2453.8 981.9,2456.3 982.1,2448.3 982.3,2453.3 982.5,2450.5 982.7,2453 983,2423.3 983.2,2449.9 983.4,2441.5 983.6,2433 983.8,2438.2 984.1,2446.2 984.3,2437.6 984.5,2437.2 984.7,2439.7 984.9,2453.7 985.2,2447.7 985.4,2427.2 985.6,2441.4 985.8,2426.4 986.1,2446.7 986.3,2422.7 986.5,2413.3 986.7,2412.8 986.9,2406.4 987.2,2415 987.4,2420.8 987.6,2423.5 987.8,2426.4 988,2413.7 988.3,2429 988.5,2435.1 988.7,2405.3 988.9,2434.9 989.1,2412.9 989.4,2400.4 989.6,2409.8 989.8,2405.3 990,2405.3 990.2,2429 990.5,2438.5 990.7,2417.2 990.9,2448.2 991.1,2408.8 991.4,2421.4 991.6,2421.9 991.8,2449.2 992,2408 992.2,2438 992.5,2412.2 992.7,2450.3 992.9,2439.2 993.1,2419.6 993.3,2425.8 993.6,2443.1 993.8,2446.2 994,2449.3 994.2,2452.3 994.4,2439 994.7,2447.4 994.9,2450.3 995.1,2466.5 995.3,2442.9 995.6,2445.8 995.8,2451.2 996,2454 996.2,2454.2 996.4,2462 996.7,2472.3 996.9,2454.7 997.1,2459.8 997.3,2475 997.5,2462.5 997.8,2447.7 998,2445.4 998.2,2477.6 998.4,2465.3 998.6,2462.9 998.9,2465.4 999.1,2460.5 999.3,2455.6 999.5,2460.5 999.7,2475.2 1000,2465.4 1000.2,2460.5 1000.4,2465.4 1000.6,2463 1000.9,2467.9 1001.1,2472.8 1001.3,2463 1001.5,2480.1 1001.7,2460.5 1002,2472.8 1002.2,2477.7 1002.4,2470.3 1002.6,2472.8 1002.8,2482.6 1003.1,2472.8 1003.3,2477.7 1003.5,2467.9 1003.7,2470.3 1003.9,2465.4 1004.2,2470.3 1004.4,2463 1004.6,2472.8 1004.8,2470.3 1005,2475.2 1005.3,2475.2 1005.5,2467.9 1005.7,2470.3 1005.9,2477.7 1006.2,2470.3 1006.4,2465.4 1006.6,2482.6 1006.8,2465.4 1007,2467.9 1007.3,2475.2 1007.5,2475.2 1007.7,2475.2 1007.9,2465.4 1008.1,2472.8 1008.4,2480.1 1008.6,2472.8 1008.8,2470.3 1009,2480.1 1009.2,2467.9 1009.5,2475.2 1009.7,2467.9 1009.9,2472.8 1010.1,2477.7 1010.4,2475.2 1010.6,2470.3 1010.8,2475.2 1011,2475.2 1011.2,2472.8 1011.5,2480.1 1011.7,2480.1 1011.9,2477.7 1012.1,2465.5 1012.3,2477.7 1012.6,2467.9 1012.8,2472.8 1013,2475.2 1013.2,2470.3 1013.4,2470.3 1013.7,2470.3 1013.9,2472.8 1014.1,2482.6 1014.3,2465.5 1014.5,2477.7 1014.8,2477.7 1015,2472.8 1015.2,2475.2 1015.4,2472.8 1015.7,2482.6 1015.9,2477.7 1016.1,2472.8 1016.3,2470.4 1016.5,2475.2 1016.8,2475.2 1017,2467.9 1017.2,2467.9 1017.4,2475.2 1017.6,2463 1017.9,2467.9 1018.1,2472.8 1018.3,2477.7 1018.5,2477.7 1018.7,2472.8 1019,2465.5 1019.2,2475.2 1019.4,2472.8 1019.6,2465.5 1019.8,2470.4 1020.1,2477.7 1020.3,2480.1 1020.5,2480.1 1020.7,2475.2 1021,2475.2 1021.2,2467.9 1021.4,2477.7 1021.6,2475.2 1021.8,2470.4 1022.1,2475.2 1022.3,2477.7 1022.5,2465.5 1022.7,2470.4 1022.9,2463 1023.2,2465.5 1023.4,2477.7 1023.6,2477.7 1023.8,2472.8 1024,2477.7 1024.3,2470.4 1024.5,2465.5 1024.7,2470.4 1024.9,2477.7 1025.1,2477.7 1025.4,2477.7 1025.6,2477.7 1025.8,2477.7 1026,2477.7 1026.3,2470.4 1026.5,2465.5 1026.7,2470.4 1026.9,2470.4 1027.1,2467.9 1027.4,2477.7 1027.6,2472.8 1027.8,2470.4 1028,2463.1 1028.2,2470.4 1028.5,2470.4 1028.7,2475.3 1028.9,2475.3 1029.1,2470.4 1029.3,2477.7 1029.6,2480.1 1029.8,2482.6 1030,2470.4 1030.2,2475.3 1030.5,2475.3 1030.7,2463.1 1030.9,2470.4 1031.1,2472.8 1031.3,2467.9 1031.6,2470.4 1031.8,2472.8 1032,2468 1032.2,2480.1 1032.4,2477.7 1032.7,2468 1032.9,2470.4 1033.1,2477.7 1033.3,2475.3 1033.5,2470.4 1033.8,2482.6 1034,2475.3 1034.2,2468 1034.4,2460.7 1034.6,2477.7 1034.9,2480.1 1035.1,2472.8 1035.3,2477.7 1035.5,2472.8 1035.8,2482.6 1036,2475.3 1036.2,2480.1 1036.4,2470.4 1036.6,2475.3 1036.9,2475.3 1037.1,2472.8 1037.3,2468 1037.5,2480.1 1037.7,2475.3 1038,2470.4 1038.2,2477.7 1038.4,2463.1 1038.6,2475.3 1038.8,2475.3 1039.1,2465.5 1039.3,2470.4 1039.5,2463.1 1039.7,2480.1 1039.9,2475.3 1040.2,2477.7 1040.4,2475.3 1040.6,2463.1 1040.8,2470.4 1041.1,2465.5 1041.3,2480.1 1041.5,2475.3 1041.7,2477.7 1041.9,2472.8 1042.2,2472.8 1042.4,2472.8 1042.6,2475.3 1042.8,2465.5 1043,2472.8 1043.3,2472.8 1043.5,2477.7 1043.7,2475.3 1043.9,2480.1 1044.1,2475.3 1044.4,2475.3 1044.6,2453.4 1044.8,2475.3 1045,2475.3 1045.3,2475.3 1045.5,2475.3 1045.7,2482.6 1045.9,2472.8 1046.1,2482.6 1046.4,2472.8 1046.6,2470.4 1046.8,2480.1 1047,2472.9 1047.2,2475.3 1047.5,2482.6 1047.7,2482.6 1047.9,2482.6 1048.1,2472.9 1048.3,2477.7 1048.6,2468 1048.8,2472.9 1049,2472.9 1049.2,2475.3 1049.4,2477.7 1049.7,2470.4 1049.9,2472.9 1050.1,2472.9 1050.3,2477.7 1050.6,2472.9 1050.8,2465.6 1051,2477.7 1051.2,2475.3 1051.4,2477.7 1051.7,2470.4 1051.9,2480.1 1052.1,2477.7 1052.3,2475.3 1052.5,2475.3 1052.8,2475.3 1053,2475.3 1053.2,2472.9 1053.4,2475.3 1053.6,2468 1053.9,2463.2 1054.1,2475.3 1054.3,2468 1054.5,2477.7 1054.7,2465.6 1055,2465.6 1055.2,2477.7 1055.4,2482.6 1055.6,2472.9 1055.9,2475.3 1056.1,2485 1056.3,2477.7 1056.5,2482.6 1056.7,2470.4 1057,2468 1057.2,2475.3 1057.4,2475.3 1057.6,2468 1057.8,2470.4 1058.1,2475.3 1058.3,2477.7 1058.5,2485 1058.7,2472.9 1058.9,2475.3 1059.2,2482.6 1059.4,2463.2 1059.6,2480.1 1059.8,2468 1060.1,2472.9 1060.3,2482.6 1060.5,2475.3 1060.7,2480.2 1060.9,2470.5 1061.2,2477.7 1061.4,2465.6 1061.6,2472.9 1061.8,2480.2 1062,2470.5 1062.3,2475.3 1062.5,2472.9 1062.7,2477.7 1062.9,2463.2 1063.1,2477.7 1063.4,2480.2 1063.6,2472.9 1063.8,2475.3 1064,2480.2 1064.2,2475.3 1064.5,2477.7 1064.7,2477.7 1064.9,2475.3 1065.1,2485 1065.4,2463.2 1065.6,2477.7 1065.8,2477.7 1066,2465.6 1066.2,2480.2 1066.5,2470.5 1066.7,2477.7 1066.9,2468 1067.1,2477.7 1067.3,2468 1067.6,2465.6 1067.8,2472.9 1068,2477.7 1068.2,2480.2 1068.4,2477.7 1068.7,2475.3 1068.9,2480.2 1069.1,2472.9 1069.3,2477.7 1069.5,2472.9 1069.8,2472.9 1070,2465.6 1070.2,2472.9 1070.4,2475.3 1070.7,2475.3 1070.9,2482.6 1071.1,2470.5 1071.3,2480.2 1071.5,2475.3 1071.8,2477.7 1072,2480.2 1072.2,2475.3 1072.4,2472.9 1072.6,2472.9 1072.9,2475.3 1073.1,2480.2 1073.3,2456 1073.5,2477.7 1073.7,2485 1074,2475.3 1074.2,2475.3 1074.4,2472.9 1074.6,2475.3 1074.9,2477.7 1075.1,2468.1 1075.3,2475.3 1075.5,2470.5 1075.7,2480.2 1076,2472.9 1076.2,2477.7 1076.4,2477.7 1076.6,2468.1 1076.8,2468.1 1077.1,2480.2 1077.3,2465.7 1077.5,2475.3 1077.7,2472.9 1077.9,2480.2 1078.2,2472.9 1078.4,2468.1 1078.6,2477.7 1078.8,2472.9 1079,2480.2 1079.3,2480.2 1079.5,2480.2 1079.7,2480.2 1079.9,2477.7 1080.2,2470.5 1080.4,2477.7 1080.6,2470.5 1080.8,2475.3 1081,2472.9 1081.3,2472.9 1081.5,2475.3 1081.7,2472.9 1081.9,2460.8 1082.1,2465.7 1082.4,2470.5 1082.6,2477.8 1082.8,2475.3 1083,2472.9 1083.2,2477.8 1083.5,2480.2 1083.7,2482.6 1083.9,2475.3 1084.1,2480.2 1084.3,2463.3 1084.6,2472.9 1084.8,2475.3 1085,2463.3 1085.2,2477.8 1085.5,2477.8 1085.7,2472.9 1085.9,2472.9 1086.1,2463.3 1086.3,2472.9 1086.6,2470.5 1086.8,2460.8 1087,2477.8 1087.2,2472.9 1087.4,2472.9 1087.7,2472.9 1087.9,2480.2 1088.1,2477.8 1088.3,2482.6 1088.5,2468.1 1088.8,2477.8 1089,2480.2 1089.2,2475.3 1089.4,2475.3 1089.7,2480.2 1089.9,2458.4 1090.1,2465.7 1090.3,2482.6 1090.5,2470.5 1090.8,2477.8 1091,2480.2 1091.2,2475.3 1091.4,2470.5 1091.6,2475.3 1091.9,2468.1 1092.1,2480.2 1092.3,2482.6 1092.5,2480.2 1092.7,2463.3 1093,2477.8 1093.2,2470.5 1093.4,2477.8 1093.6,2463.3 1093.8,2472.9 1094.1,2465.7 1094.3,2472.9 1094.5,2475.4 1094.7,2475.4 1095,2463.3 1095.2,2480.2 1095.4,2485 1095.6,2475.4 1095.8,2480.2 1096.1,2470.5 1096.3,2472.9 1096.5,2477.8 1096.7,2475.4 1096.9,2475.4 1097.2,2475.4 1097.4,2465.7 1097.6,2475.4 1097.8,2475.4 1098,2475.4 1098.3,2468.1 1098.5,2475.4 1098.7,2472.9 1098.9,2480.2 1099.1,2477.8 1099.4,2470.5 1099.6,2475.4 1099.8,2472.9 1100,2480.2 1100.3,2468.1 1100.5,2477.8 1100.7,2480.2 1100.9,2482.6 1101.1,2473 1101.4,2485 1101.6,2475.4 1101.8,2470.5 1102,2470.5 1102.2,2480.2 1102.5,2480.2 1102.7,2477.8 1102.9,2480.2 1103.1,2473 1103.3,2480.2 1103.6,2477.8 1103.8,2477.8 1104,2465.7 1104.2,2477.8 1104.5,2475.4 1104.7,2475.4 1104.9,2477.8 1105.1,2473 1105.3,2485 1105.6,2480.2 1105.8,2477.8 1106,2470.6 1106.2,2473 1106.4,2480.2 1106.7,2473 1106.9,2480.2 1107.1,2465.7 1107.3,2475.4 1107.5,2477.8 1107.8,2482.6 1108,2470.6 1108.2,2480.2 1108.4,2475.4 1108.6,2477.8 1108.9,2482.6 1109.1,2468.2 1109.3,2480.2 1109.5,2475.4 1109.8,2480.2 1110,2473 1110.2,2473 1110.4,2475.4 1110.6,2477.8 1110.9,2473 1111.1,2475.4 1111.3,2475.4 1111.5,2475.4 1111.7,2473 1112,2477.8 1112.2,2468.2 1112.4,2480.2 1112.6,2473 1112.8,2485 1113.1,2470.6 1113.3,2480.2 1113.5,2468.2 1113.7,2461 1113.9,2470.6 1114.2,2477.8 1114.4,2475.4 1114.6,2477.8 1114.8,2482.6 1115.1,2470.6 1115.3,2480.2 1115.5,2475.4 1115.7,2470.6 1115.9,2480.2 1116.2,2475.4 1116.4,2470.6 1116.6,2475.4 1116.8,2468.2 1117,2477.8 1117.3,2475.4 1117.5,2468.2 1117.7,2475.4 1117.9,2477.8 1118.1,2473 1118.4,2477.8 1118.6,2470.6 1118.8,2480.2 1119,2482.6 1119.2,2480.2 1119.5,2480.2 1119.7,2475.4 1119.9,2477.8 1120.1,2475.4 1120.4,2468.2 1120.6,2470.6 1120.8,2477.8 1121,2470.6 1121.2,2468.2 1121.5,2482.6 1121.7,2482.6 1121.9,2477.8 1122.1,2470.6 1122.3,2477.8 1122.6,2475.4 1122.8,2456.2 1123,2468.2 1123.2,2468.2 1123.4,2475.4 1123.7,2480.2 1123.9,2473 1124.1,2480.2 1124.3,2475.4 1124.6,2473 1124.8,2475.4 1125,2477.8 1125.2,2475.4 1125.4,2458.6 1125.7,2470.6 1125.9,2477.8 1126.1,2475.4 1126.3,2477.8 1126.5,2480.2 1126.8,2468.2 1127,2468.2 1127.2,2473 1127.4,2480.2 1127.6,2473 1127.9,2475.4 1128.1,2477.8 1128.3,2477.8 1128.5,2475.4 1128.7,2473 1129,2480.2 1129.2,2475.4 1129.4,2463.4 1129.6,2473 1129.9,2468.2 1130.1,2477.8 1130.3,2477.8 1130.5,2473 1130.7,2475.4 1131,2473 1131.2,2482.6 1131.4,2477.8 1131.6,2473 1131.8,2473 1132.1,2477.8 1132.3,2473 1132.5,2480.2 1132.7,2482.6 1132.9,2485 1133.2,2470.6 1133.4,2465.8 1133.6,2475.4 1133.8,2482.6 1134,2475.4 1134.3,2477.8 1134.5,2480.2 1134.7,2477.8 1134.9,2482.6 1135.2,2480.2 1135.4,2485 1135.6,2475.4 1135.8,2475.4 1136,2463.4 1136.3,2473 1136.5,2468.2 1136.7,2475.4 1136.9,2482.6 1137.1,2470.6 1137.4,2482.6 1137.6,2475.4 1137.8,2470.6 1138,2475.4 1138.2,2470.6 1138.5,2480.2 1138.7,2480.2 1138.9,2480.2 1139.1,2477.8 1139.4,2468.2 1139.6,2477.8 1139.8,2480.2 1140,2468.2 1140.2,2470.6 1140.5,2470.6 1140.7,2480.2 1140.9,2480.2 1141.1,2473 1141.3,2480.2 1141.6,2477.8 1141.8,2465.8 1142,2477.8 1142.2,2475.4 1142.4,2477.8 1142.7,2482.6 1142.9,2473 1143.1,2477.8 1143.3,2482.6 1143.5,2480.2 1143.8,2470.6 1144,2480.2 1144.2,2473 1144.4,2473 1144.7,2477.8 1144.9,2475.4 1145.1,2468.2 1145.3,2480.2 1145.5,2475.4 1145.8,2475.4 1146,2475.4 1146.2,2475.4 1146.4,2475.4 1146.6,2477.8 1146.9,2482.6 1147.1,2475.4 1147.3,2468.3 1147.5,2475.4 1147.7,2470.6 1148,2480.2 1148.2,2475.4 1148.4,2477.8 1148.6,2475.4 1148.8,2470.6 1149.1,2468.3 1149.3,2482.6 1149.5,2475.4 1149.7,2477.8 1150,2477.8 1150.2,2473 1150.4,2480.2 1150.6,2475.4 1150.8,2475.4 1151.1,2473 1151.3,2470.7 1151.5,2477.8 1151.7,2475.4 1151.9,2468.3 1152.2,2477.8 1152.4,2473 1152.6,2482.6 1152.8,2477.8 1153,2473 1153.3,2468.3 1153.5,2477.8 1153.7,2468.3 1153.9,2475.4 1154.2,2480.2 1154.4,2473.1 1154.6,2470.7 1154.8,2475.4 1155,2473.1 1155.3,2475.4 1155.5,2473.1 1155.7,2473.1 1155.9,2475.4 1156.1,2470.7 1156.4,2475.4 1156.6,2477.8 1156.8,2473.1 1157,2477.8 1157.2,2475.4 1157.5,2475.4 1157.7,2480.2 1157.9,2477.8 1158.1,2475.4 1158.3,2470.7 1158.6,2475.4 1158.8,2477.8 1159,2480.2 1159.2,2477.8 1159.5,2475.4 1159.7,2475.4 1159.9,2477.8 1160.1,2485 1160.3,2470.7 1160.6,2475.5 1160.8,2477.8 1161,2473.1 1161.2,2475.5 1161.4,2475.5 1161.7,2473.1 1161.9,2470.7 1162.1,2475.5 1162.3,2468.3 1162.5,2475.5 1162.8,2480.2 1163,2475.5 1163.2,2470.7 1163.4,2477.8 1163.6,2475.5 1163.9,2473.1 1164.1,2473.1 1164.3,2477.8 1164.5,2482.6 1164.8,2475.5 1165,2475.5 1165.2,2475.5 1165.4,2470.7 1165.6,2480.2 1165.9,2473.1 1166.1,2473.1 1166.3,2475.5 1166.5,2475.5 1166.7,2473.1 1167,2477.8 1167.2,2477.8 1167.4,2475.5 1167.6,2473.1 1167.8,2473.1 1168.1,2475.5 1168.3,2477.8 1168.5,2470.7 1168.7,2477.8 1169,2470.7 1169.2,2475.5 1169.4,2473.1 1169.6,2475.5 1169.8,2475.5 1170.1,2465.9 1170.3,2482.6 1170.5,2480.2 1170.7,2482.6 1170.9,2470.7 1171.2,2465.9 1171.4,2475.5 1171.6,2477.9 1171.8,2475.5 1172,2477.9 1172.3,2473.1 1172.5,2480.2 1172.7,2465.9 1172.9,2473.1 1173.1,2480.2 1173.4,2475.5 1173.6,2480.2 1173.8,2468.3 1174,2475.5 1174.3,2468.3 1174.5,2475.5 1174.7,2465.9 1174.9,2465.9 1175.1,2470.7 1175.4,2475.5 1175.6,2470.7 1175.8,2475.5 1176,2475.5 1176.2,2468.3 1176.5,2470.7 1176.7,2473.1 1176.9,2461.2 1177.1,2473.1 1177.3,2477.9 1177.6,2466 1177.8,2470.7 1178,2480.2 1178.2,2475.5 1178.4,2470.7 1178.7,2470.7 1178.9,2477.9 1179.1,2461.2 1179.3,2463.6 1179.6,2475.5 1179.8,2477.9 1180,2466 1180.2,2475.5 1180.4,2480.2 1180.7,2463.6 1180.9,2473.1 1181.1,2463.6 1181.3,2480.2 1181.5,2475.5 1181.8,2463.6 1182,2475.5 1182.2,2468.3 1182.4,2468.3 1182.6,2468.3 1182.9,2473.1 1183.1,2480.2 1183.3,2475.5 1183.5,2477.9 1183.8,2473.1 1184,2466 1184.2,2473.1 1184.4,2473.1 1184.6,2477.9 1184.9,2466 1185.1,2475.5 1185.3,2463.6 1185.5,2473.1 1185.7,2466 1186,2473.1 1186.2,2470.7 1186.4,2470.7 1186.6,2480.2 1186.8,2468.4 1187.1,2473.1 1187.3,2468.4 1187.5,2463.6 1187.7,2468.4 1187.9,2480.2 1188.2,2473.1 1188.4,2480.2 1188.6,2470.7 1188.8,2468.4 1189.1,2470.7 1189.3,2456.5 1189.5,2463.6 1189.7,2473.1 1189.9,2468.4 1190.2,2473.1 1190.4,2468.4 1190.6,2473.1 1190.8,2468.4 1191,2468.4 1191.3,2475.5 1191.5,2475.5 1191.7,2463.6 1191.9,2458.9 1192.1,2473.1 1192.4,2470.7 1192.6,2458.9 1192.8,2451.7 1193,2475.5 1193.2,2454.1 1193.5,2463.6 1193.7,2456.5 1193.9,2468.3 1194.1,2468.3 1194.4,2458.8 1194.6,2456.4 1194.8,2456.3 1195,2465.9 1195.2,2458.6 1195.5,2461 1195.7,2463.4 1195.9,2465.7 1196.1,2456 1196.3,2470.5 1196.6,2460.8 1196.8,2463.1 1197,2460.7 1197.2,2465.5 1197.4,2455.6 1197.7,2460.5 1197.9,2470.2 1198.1,2465.2 1198.3,2460.2 1198.6,2447.7 1198.8,2460 1199,2457.4 1199.2,2462.3 1199.4,2439.4 1199.7,2457 1199.9,2467.1 1200.1,2474.7 1200.3,2456.5 1200.5,2466.8 1200.8,2445.7 1201,2445.4 1201.2,2447.8 1201.4,2442.2 1201.6,2441.9 1201.9,2452.4 1202.1,2424.8 1202.3,2443.6 1202.5,2418.3 1202.7,2448.6 1203,2431.3 1203.2,2422.3 1203.4,2424.6 1203.6,2427 1203.9,2420.7 1204.1,2417.2 1204.3,2416.6 1204.5,2434 1204.7,2412.4 1205,2427 1205.2,2408.1 1205.4,2385.5 1205.6,2397.5 1205.8,2406.3 1206.1,2409 1206.3,2392.5 1206.5,2385.5 1206.7,2385.5 1206.9,2397.5 1207.2,2406.9 1207.4,2387 1207.6,2390 1207.8,2412.8 1208,2386.4 1208.3,2385.5 1208.5,2380.5 1208.7,2396.3 1208.9,2385.5 1209.2,2385.5 1209.4,2385.5 1209.6,2385.5 1209.8,2407.4 1210,2423.9 1210.3,2395.5 1210.5,2412 1210.7,2425.1 1210.9,2428.7 1211.1,2395 1211.4,2411.2 1211.6,2417.9 1211.8,2406.4 1212,2404.2 1212.2,2416.8 1212.5,2393.9 1212.7,2441.4 1212.9,2427.4 1213.1,2430.8 1213.4,2437 1213.6,2417.9 1213.8,2424 1214,2435.6 1214.2,2446.9 1214.5,2436.5 1214.7,2458.3 1214.9,2458.5 1215.1,2435.2 1215.3,2435.6 1215.6,2464.4 1215.8,2451.7 1216,2454.5 1216.2,2449.7 1216.4,2447.4 1216.7,2465.1 1216.9,2433.1 1217.1,2445.7 1217.3,2463 1217.5,2448.6 1217.8,2456 1218,2475.4 1218.2,2482.6 1218.4,2465.9 1218.7,2451.8 1218.9,2468.4 1219.1,2466.1 1219.3,2475.5 1219.5,2475.5 1219.8,2463.7 1220,2473.2 1220.2,2459 1220.4,2459 1220.6,2470.8 1220.9,2470.8 1221.1,2475.5 1221.3,2480.3 1221.5,2480.3 1221.7,2468.4 1222,2480.3 1222.2,2463.7 1222.4,2468.5 1222.6,2477.9 1222.8,2477.9 1223.1,2466.1 1223.3,2480.3 1223.5,2480.3 1223.7,2473.2 1224,2482.6 1224.2,2473.2 1224.4,2473.2 1224.6,2473.2 1224.8,2473.2 1225.1,2463.7 1225.3,2463.7 1225.5,2468.5 1225.7,2468.5 1225.9,2477.9 1226.2,2461.4 1226.4,2473.2 1226.6,2477.9 1226.8,2475.5 1227,2485 1227.3,2477.9 1227.5,2473.2 1227.7,2473.2 1227.9,2473.2 1228.1,2473.2 1228.4,2477.9 1228.6,2468.5 1228.8,2473.2 1229,2473.2 1229.3,2466.1 1229.5,2477.9 1229.7,2475.6 1229.9,2473.2 1230.1,2470.8 1230.4,2477.9 1230.6,2482.6 1230.8,2482.6 1231,2475.6 1231.2,2477.9 1231.5,2470.8 1231.7,2480.3 1231.9,2477.9 1232.1,2473.2 1232.3,2466.1 1232.6,2473.2 1232.8,2473.2 1233,2468.5 1233.2,2477.9 1233.5,2477.9 1233.7,2466.1 1233.9,2468.5 1234.1,2470.8 1234.3,2470.8 1234.6,2480.3 1234.8,2477.9 1235,2466.1 1235.2,2477.9 1235.4,2470.8 1235.7,2480.3 1235.9,2482.6 1236.1,2470.8 1236.3,2466.1 1236.5,2456.7 1236.8,2468.5 1237,2468.5 1237.2,2470.8 1237.4,2477.9 1237.6,2473.2 1237.9,2477.9 1238.1,2475.6 1238.3,2468.5 1238.5,2477.9 1238.8,2463.8 1239,2482.6 1239.2,2468.5 1239.4,2475.6 1239.6,2475.6 1239.9,2475.6 1240.1,2477.9 1240.3,2480.3 1240.5,2477.9 1240.7,2466.1 1241,2470.9 1241.2,2480.3 1241.4,2466.1 1241.6,2480.3 1241.8,2473.2 1242.1,2468.5 1242.3,2480.3 1242.5,2477.9 1242.7,2482.6 1242.9,2468.5 1243.2,2480.3 1243.4,2473.2 1243.6,2475.6 1243.8,2470.9 1244.1,2470.9 1244.3,2475.6 1244.5,2473.2 1244.7,2477.9 1244.9,2477.9 1245.2,2480.3 1245.4,2475.6 1245.6,2477.9 1245.8,2482.6 1246,2475.6 1246.3,2468.5 1246.5,2480.3 1246.7,2480.3 1246.9,2470.9 1247.1,2477.9 1247.4,2470.9 1247.6,2480.3 1247.8,2480.3 1248,2485 1248.3,2473.2 1248.5,2466.2 1248.7,2477.9 1248.9,2480.3 1249.1,2482.6 1249.4,2475.6 1249.6,2475.6 1249.8,2475.6 1250,2480.3 1250.2,2477.9 1250.5,2475.6 1250.7,2468.5 1250.9,2477.9 1251.1,2477.9 1251.3,2473.2 1251.6,2477.9 1251.8,2482.6 1252,2473.2 1252.2,2482.6 1252.4,2470.9 1252.7,2475.6 1252.9,2480.3 1253.1,2475.6 1253.3,2475.6 1253.6,2475.6 1253.8,2477.9 1254,2485 1254.2,2466.2 1254.4,2475.6 1254.7,2475.6 1254.9,2466.2 1255.1,2466.2 1255.3,2470.9 1255.5,2475.6 1255.8,2480.3 1256,2473.2 1256.2,2473.2 1256.4,2473.2 1256.6,2475.6 1256.9,2468.5 1257.1,2477.9 1257.3,2473.2 1257.5,2485 1257.7,2475.6 1258,2480.3 1258.2,2480.3 1258.4,2480.3 1258.6,2477.9 1258.9,2470.9 1259.1,2475.6 1259.3,2477.9 1259.5,2475.6 1259.7,2482.6 1260,2482.6 1260.2,2468.5 1260.4,2477.9 1260.6,2466.2 1260.8,2482.7 1261.1,2473.3 1261.3,2475.6 1261.5,2478 1261.7,2473.3 1261.9,2478 1262.2,2478 1262.4,2478 1262.6,2478 1262.8,2478 1263.1,2482.7 1263.3,2473.3 1263.5,2480.3 1263.7,2475.6 1263.9,2482.7 1264.2,2470.9 1264.4,2475.6 1264.6,2473.3 1264.8,2475.6 1265,2470.9 1265.3,2470.9 1265.5,2473.3 1265.7,2482.7 1265.9,2473.3 1266.1,2473.3 1266.4,2480.3 1266.6,2475.6 1266.8,2478 1267,2480.3 1267.2,2480.3 1267.5,2480.3 1267.7,2473.3 1267.9,2473.3 1268.1,2473.3 1268.4,2468.6 1268.6,2473.3 1268.8,2478 1269,2480.3 1269.2,2468.6 1269.5,2466.2 1269.7,2475.6 1269.9,2478 1270.1,2475.6 1270.3,2473.3 1270.6,2478 1270.8,2480.3 1271,2478 1271.2,2470.9 1271.4,2473.3 1271.7,2482.7 1271.9,2468.6 1272.1,2461.5 1272.3,2475.6 1272.5,2473.3 1272.8,2475.6 1273,2475.6 1273.2,2478 1273.4,2470.9 1273.7,2480.3 1273.9,2478 1274.1,2478 1274.3,2473.3 1274.5,2480.3 1274.8,2482.7 1275,2475.6 1275.2,2463.9 1275.4,2478 1275.6,2478 1275.9,2480.3 1276.1,2478 1276.3,2475.6 1276.5,2475.6 1276.7,2470.9 1277,2475.6 1277.2,2473.3 1277.4,2480.3 1277.6,2478 1277.9,2480.3 1278.1,2475.6 1278.3,2468.6 1278.5,2475.6 1278.7,2468.6 1279,2478 1279.2,2463.9 1279.4,2468.6 1279.6,2473.3 1279.8,2482.7 1280.1,2475.6 1280.3,2470.9 1280.5,2468.6 1280.7,2473.3 1280.9,2475.6 1281.2,2470.9 1281.4,2478 1281.6,2478 1281.8,2485 1282,2475.6 1282.3,2475.6 1282.5,2470.9 1282.7,2473.3 1282.9,2473.3 1283.2,2473.3 1283.4,2475.6 1283.6,2478 1283.8,2475.6 1284,2480.3 1284.3,2478 1284.5,2475.6 1284.7,2471 1284.9,2480.3 1285.1,2466.3 1285.4,2480.3 1285.6,2473.3 1285.8,2475.6 1286,2473.3 1286.2,2475.6 1286.5,2478 1286.7,2478 1286.9,2478 1287.1,2471 1287.3,2478 1287.6,2480.3 1287.8,2480.3 1288,2471 1288.2,2473.3 1288.5,2475.6 1288.7,2478 1288.9,2478 1289.1,2475.6 1289.3,2473.3 1289.6,2478 1289.8,2473.3 1290,2475.6 1290.2,2466.3 1290.4,2473.3 1290.7,2464 1290.9,2478 1291.1,2468.6 1291.3,2475.6 1291.5,2468.6 1291.8,2478 1292,2473.3 1292.2,2480.3 1292.4,2473.3 1292.7,2478 1292.9,2471 1293.1,2480.3 1293.3,2480.3 1293.5,2478 1293.8,2475.6 1294,2475.7 1294.2,2471 1294.4,2475.7 1294.6,2473.3 1294.9,2478 1295.1,2475.7 1295.3,2478 1295.5,2473.3 1295.7,2475.7 1296,2480.3 1296.2,2475.7 1296.4,2485 1296.6,2473.3 1296.8,2480.3 1297.1,2473.3 1297.3,2468.6 1297.5,2478 1297.7,2480.3 1298,2464 1298.2,2473.3 1298.4,2464 1298.6,2478 1298.8,2478 1299.1,2468.7 1299.3,2473.3 1299.5,2482.7 1299.7,2478 1299.9,2480.3 1300.2,2478 1300.4,2471 1300.6,2475.7 1300.8,2478 1301,2473.3 1301.3,2468.7 1301.5,2475.7 1301.7,2480.3 1301.9,2478 1302.1,2475.7 1302.4,2471 1302.6,2466.3 1302.8,2475.7 1303,2478 1303.3,2482.7 1303.5,2482.7 1303.7,2480.3 1303.9,2473.3 1304.1,2475.7 1304.4,2473.3 1304.6,2473.3 1304.8,2466.3 1305,2473.3 1305.2,2473.3 1305.5,2471 1305.7,2473.3 1305.9,2468.7 1306.1,2475.7 1306.3,2475.7 1306.6,2478 1306.8,2475.7 1307,2471 1307.2,2471 1307.5,2471 1307.7,2468.7 1307.9,2471 1308.1,2471 1308.3,2475.7 1308.6,2473.3 1308.8,2473.3 1309,2464 1309.2,2471 1309.4,2473.3 1309.7,2475.7 1309.9,2475.7 1310.1,2461.7 1310.3,2471 1310.5,2464 1310.8,2464 1311,2459.4 1311.2,2475.7 1311.4,2473.3 1311.6,2471 1311.9,2464 1312.1,2478 1312.3,2478 1312.5,2473.3 1312.8,2471 1313,2478 1313.2,2475.7 1313.4,2473.3 1313.6,2475.7 1313.9,2461.7 1314.1,2471 1314.3,2471 1314.5,2471 1314.7,2461.7 1315,2468.7 1315.2,2475.7 1315.4,2466.4 1315.6,2468.7 1315.8,2475.7 1316.1,2464 1316.3,2466.4 1316.5,2475.7 1316.7,2461.7 1316.9,2473.4 1317.2,2464 1317.4,2466.4 1317.6,2461.7 1317.8,2468.7 1318.1,2473.4 1318.3,2466.4 1318.5,2468.7 1318.7,2466.4 1318.9,2461.7 1319.2,2464 1319.4,2452.3 1319.6,2461.6 1319.8,2459.2 1320,2449.8 1320.3,2466.2 1320.5,2449.6 1320.7,2463.7 1320.9,2468.4 1321.1,2463.6 1321.4,2442.1 1321.6,2449.1 1321.8,2465.8 1322,2465.7 1322.2,2465.7 1322.5,2453.5 1322.7,2458.2 1322.9,2463 1323.1,2460.4 1323.4,2460.3 1323.6,2450.3 1323.8,2460.1 1324,2457.4 1324.2,2462.3 1324.5,2444.4 1324.7,2436.5 1324.9,2451.6 1325.1,2454 1325.3,2432.9 1325.6,2453.5 1325.8,2432 1326,2447.6 1326.2,2447.3 1326.4,2444.2 1326.7,2438.3 1326.9,2437.9 1327.1,2443 1327.3,2419.9 1327.6,2422 1327.8,2421.3 1328,2438.1 1328.2,2422.7 1328.4,2437 1328.7,2412 1328.9,2423.4 1329.1,2422.6 1329.3,2377.4 1329.5,2395.2 1329.8,2397.2 1330,2386.1 1330.2,2394.8 1330.4,2410.5 1330.6,2395.7 1330.9,2384 1331.1,2379.2 1331.3,2381.3 1331.5,2361.9 1331.7,2334.7 1332,2344.1 1332.2,2342.5 1332.4,2323.2 1332.6,2339.6 1332.9,2342.1 1333.1,2341 1333.3,2371.4 1333.5,2370.7 1333.7,2323.2 1334,2346 1334.2,2365.6 1334.4,2318.2 1334.6,2341.7 1334.8,2330.2 1335.1,2323.2 1335.3,2363.3 1335.5,2323.2 1335.7,2380.7 1335.9,2385.7 1336.2,2330.2 1336.4,2343.3 1336.6,2382 1336.8,2340 1337,2367.1 1337.3,2379.5 1337.5,2391.5 1337.7,2358.9 1337.9,2377.7 1338.2,2409.1 1338.4,2390.8 1338.6,2398.7 1338.8,2409.4 1339,2429.2 1339.3,2393.3 1339.5,2424.8 1339.7,2392.9 1339.9,2429.3 1340.1,2430.1 1340.4,2413.6 1340.6,2437 1340.8,2412.4 1341,2413.2 1341.2,2427.6 1341.5,2430.9 1341.7,2452.8 1341.9,2442.5 1342.1,2456 1342.4,2440.5 1342.6,2446 1342.8,2435.9 1343,2431 1343.2,2436.4 1343.5,2449.3 1343.7,2452 1343.9,2442 1344.1,2444.7 1344.3,2447.3 1344.6,2452.4 1344.8,2449.9 1345,2465 1345.2,2449.9 1345.4,2437.4 1345.7,2447.4 1345.9,2462.4 1346.1,2444.7 1346.3,2442 1346.5,2452 1346.8,2423.9 1347,2462 1347.2,2449 1347.4,2456.5 1347.7,2432.8 1347.9,2453.4 1348.1,2447.9 1348.3,2452.9 1348.5,2452.6 1348.8,2452.2 1349,2435.3 1349.2,2431.9 1349.4,2434.1 1349.6,2419.1 1349.9,2424 1350.1,2420.3 1350.3,2434.3 1350.5,2412.4 1350.7,2438.9 1351,2394.6 1351.2,2418.6 1351.4,2359.9 1351.6,2403.6 1351.8,2379.4 1352.1,2401.3 1352.3,2413.8 1352.5,2385.4 1352.7,2359.9 1353,2383.1 1353.2,2364.3 1353.4,2366.8 1353.6,2369.5 1353.8,2351 1354.1,2379.1 1354.3,2367.8 1354.5,2367.5 1354.7,2346 1354.9,2389.6 1355.2,2357 1355.4,2351 1355.6,2369.1 1355.8,2377.2 1356,2351 1356.3,2382.7 1356.5,2373.3 1356.7,2353.9 1356.9,2386.3 1357.2,2394.3 1357.4,2405.5 1357.6,2413.2 1357.8,2423.9 1358,2390.1 1358.3,2425.8 1358.5,2408.4 1358.7,2409.6 1358.9,2395.9 1359.1,2438.2 1359.4,2421.7 1359.6,2419.8 1359.8,2409.6 1360,2435.4 1360.2,2444.3 1360.5,2431.4 1360.7,2424.2 1360.9,2453.7 1361.1,2448.9 1361.3,2454.4 1361.6,2464.8 1361.8,2450 1362,2462.7 1362.2,2455.6 1362.5,2455.8 1362.7,2458.4 1362.9,2458.6 1363.1,2458.8 1363.3,2459 1363.6,2461.5 1363.8,2468.6 1364,2468.7 1364.2,2473.4 1364.4,2473.4 1364.7,2471.1 1364.9,2473.4 1365.1,2473.4 1365.3,2464.2 1365.5,2480.4 1365.8,2455 1366,2473.4 1366.2,2473.4 1366.4,2457.3 1366.6,2466.5 1366.9,2468.8 1367.1,2473.4 1367.3,2464.2 1367.5,2471.1 1367.8,2466.5 1368,2471.1 1368.2,2473.5 1368.4,2473.5 1368.6,2473.5 1368.9,2466.5 1369.1,2459.6 1369.3,2473.5 1369.5,2464.2 1369.7,2471.1 1370,2471.1 1370.2,2480.4 1370.4,2466.5 1370.6,2480.4 1370.8,2473.5 1371.1,2478.1 1371.3,2464.2 1371.5,2464.2 1371.7,2473.5 1372,2473.5 1372.2,2473.5 1372.4,2475.8 1372.6,2468.8 1372.8,2478.1 1373.1,2471.2 1373.3,2468.8 1373.5,2471.2 1373.7,2475.8 1373.9,2478.1 1374.2,2480.4 1374.4,2475.8 1374.6,2473.5 1374.8,2480.4 1375,2459.6 1375.3,2480.4 1375.5,2468.9 1375.7,2471.2 1375.9,2471.2 1376.1,2473.5 1376.4,2478.1 1376.6,2473.5 1376.8,2480.4 1377,2473.5 1377.3,2480.4 1377.5,2473.5 1377.7,2480.4 1377.9,2475.8 1378.1,2475.8 1378.4,2475.8 1378.6,2475.8 1378.8,2468.9 1379,2471.2 1379.2,2471.2 1379.5,2468.9 1379.7,2475.8 1379.9,2475.8 1380.1,2482.7 1380.3,2475.8 1380.6,2471.2 1380.8,2473.5 1381,2475.8 1381.2,2482.7 1381.4,2471.2 1381.7,2478.1 1381.9,2480.4 1382.1,2473.5 1382.3,2473.5 1382.6,2485 1382.8,2480.4 1383,2482.7 1383.2,2468.9 1383.4,2480.4 1383.7,2478.1 1383.9,2471.2 1384.1,2471.2 1384.3,2473.5 1384.5,2478.1 1384.8,2475.8 1385,2475.8 1385.2,2478.1 1385.4,2473.5 1385.6,2468.9 1385.9,2482.7 1386.1,2475.8 1386.3,2478.1 1386.5,2485 1386.8,2468.9 1387,2468.9 1387.2,2480.4 1387.4,2480.4 1387.6,2473.5 1387.9,2478.1 1388.1,2466.6 1388.3,2475.8 1388.5,2485 1388.7,2485 1389,2478.1 1389.2,2480.4 1389.4,2475.8 1389.6,2482.7 1389.8,2473.5 1390.1,2475.8 1390.3,2475.8 1390.5,2473.5 1390.7,2471.2 1390.9,2480.4 1391.2,2473.5 1391.4,2466.6 1391.6,2482.7 1391.8,2471.2 1392.1,2475.8 1392.3,2478.1 1392.5,2462 1392.7,2471.2 1392.9,2471.2 1393.2,2480.4 1393.4,2478.1 1393.6,2482.7 1393.8,2478.1 1394,2480.4 1394.3,2475.8 1394.5,2475.8 1394.7,2475.8 1394.9,2480.4 1395.1,2478.1 1395.4,2480.4 1395.6,2478.1 1395.8,2473.5 1396,2468.9 1396.2,2471.2 1396.5,2471.2 1396.7,2482.7 1396.9,2471.2 1397.1,2478.1 1397.4,2478.1 1397.6,2475.8 1397.8,2468.9 1398,2475.8 1398.2,2480.4 1398.5,2478.1 1398.7,2478.1 1398.9,2482.7 1399.1,2480.4 1399.3,2478.1 1399.6,2482.7 1399.8,2468.9 1400,2478.1 1400.2,2464.3 1400.4,2475.8 1400.7,2471.2 1400.9,2475.8 1401.1,2473.5 1401.3,2480.4 1401.6,2473.5 1401.8,2482.7 1402,2473.5 1402.2,2482.7 1402.4,2478.1 1402.7,2471.2 1402.9,2475.8 1403.1,2475.8 1403.3,2475.8 1403.5,2475.8 1403.8,2475.8 1404,2468.9 1404.2,2480.4 1404.4,2468.9 1404.6,2468.9 1404.9,2475.8 1405.1,2478.1 1405.3,2478.1 1405.5,2473.5 1405.7,2475.8 1406,2480.4 1406.2,2475.8 1406.4,2478.1 1406.6,2471.2 1406.9,2468.9 1407.1,2468.9 1407.3,2471.2 1407.5,2475.8 1407.7,2478.1 1408,2473.5 1408.2,2468.9 1408.4,2471.2 1408.6,2468.9 1408.8,2475.8 1409.1,2468.9 1409.3,2478.1 1409.5,2473.5 1409.7,2482.7 1409.9,2473.5 1410.2,2475.8 1410.4,2475.8 1410.6,2475.8 1410.8,2468.9 1411,2471.2 1411.3,2478.1 1411.5,2475.8 1411.7,2473.5 1411.9,2475.8 1412.2,2466.7 1412.4,2478.1 1412.6,2473.5 1412.8,2466.7 1413,2468.9 1413.3,2471.2 1413.5,2475.8 1413.7,2469 1413.9,2473.5 1414.1,2475.8 1414.4,2464.4 1414.6,2466.7 1414.8,2473.5 1415,2462.1 1415.2,2464.4 1415.5,2469 1415.7,2473.5 1415.9,2480.4 1416.1,2478.1 1416.4,2466.7 1416.6,2469 1416.8,2462.1 1417,2475.8 1417.2,2471.3 1417.5,2459.8 1417.7,2464.3 1417.9,2461.9 1418.1,2461.8 1418.3,2459.4 1418.6,2463.9 1418.8,2463.8 1419,2463.7 1419.2,2461.3 1419.4,2461.1 1419.7,2461 1419.9,2456 1420.1,2458.3 1420.3,2448.4 1420.5,2460.4 1420.8,2460.3 1421,2457.7 1421.2,2457.5 1421.4,2447.2 1421.7,2454.6 1421.9,2444.2 1422.1,2451.6 1422.3,2466.9 1422.5,2425.1 1422.8,2445.7 1423,2442.7 1423.2,2442.4 1423.4,2442.2 1423.6,2436.5 1423.9,2428 1424.1,2441.3 1424.3,2446.5 1424.5,2407.5 1424.7,2405.6 1425,2417.8 1425.2,2428.7 1425.4,2408.6 1425.6,2428.1 1425.8,2413.6 1426.1,2419.1 1426.3,2424.6 1426.5,2424.4 1426.7,2430 1427,2418.3 1427.2,2426.9 1427.4,2426.9 1427.6,2400.6 1427.8,2435.6 1428.1,2441.5 1428.3,2427 1428.5,2405.6 1428.7,2424.4 1428.9,2407.4 1429.2,2422 1429.4,2416.5 1429.6,2433.9 1429.8,2436.9 1430,2426 1430.3,2409.5 1430.5,2407.2 1430.7,2460.1 1430.9,2419.1 1431.1,2433.2 1431.4,2430.8 1431.6,2450 1431.8,2447.6 1432,2431.9 1432.3,2440.2 1432.5,2451 1432.7,2417.5 1432.9,2430.8 1433.1,2444 1433.4,2446.8 1433.6,2449.6 1433.8,2442.3 1434,2450.1 1434.2,2445.4 1434.5,2443.2 1434.7,2455.7 1434.9,2465.6 1435.1,2446.3 1435.3,2451.4 1435.6,2470.7 1435.8,2470.7 1436,2459 1436.2,2468.5 1436.5,2473.3 1436.7,2457.1 1436.9,2464.1 1437.1,2468.8 1437.3,2475.8 1437.6,2464.4 1437.8,2448.5 1438,2464.4 1438.2,2480.4 1438.4,2473.6 1438.7,2471.3 1438.9,2478.2 1439.1,2466.7 1439.3,2471.3 1439.5,2462.2 1439.8,2466.7 1440,2469 1440.2,2466.7 1440.4,2473.6 1440.6,2464.5 1440.9,2475.9 1441.1,2469 1441.3,2469 1441.5,2473.6 1441.8,2475.9 1442,2459.9 1442.2,2471.3 1442.4,2478.2 1442.6,2471.3 1442.9,2473.6 1443.1,2464.5 1443.3,2466.7 1443.5,2480.4 1443.7,2475.9 1444,2475.9 1444.2,2473.6 1444.4,2475.9 1444.6,2471.3 1444.8,2475.9 1445.1,2475.9 1445.3,2478.2 1445.5,2471.3 1445.7,2480.4 1445.9,2482.7 1446.2,2478.2 1446.4,2478.2 1446.6,2475.9 1446.8,2478.2 1447.1,2473.6 1447.3,2480.4 1447.5,2473.6 1447.7,2478.2 1447.9,2469 1448.2,2478.2 1448.4,2478.2 1448.6,2478.2 1448.8,2469 1449,2471.3 1449.3,2480.4 1449.5,2471.3 1449.7,2473.6 1449.9,2482.7 1450.1,2475.9 1450.4,2464.5 1450.6,2475.9 1450.8,2475.9 1451,2478.2 1451.3,2469.1 1451.5,2475.9 1451.7,2471.3 1451.9,2478.2 1452.1,2473.6 1452.4,2471.3 1452.6,2471.3 1452.8,2473.6 1453,2475.9 1453.2,2478.2 1453.5,2471.3 1453.7,2471.3 1453.9,2475.9 1454.1,2473.6 1454.3,2475.9 1454.6,2475.9 1454.8,2475.9 1455,2480.4 1455.2,2475.9 1455.4,2478.2 1455.7,2480.4 1455.9,2473.6 1456.1,2480.4 1456.3,2478.2 1456.6,2475.9 1456.8,2482.7 1457,2478.2 1457.2,2473.6 1457.4,2478.2 1457.7,2485 1457.9,2478.2 1458.1,2478.2 1458.3,2480.4 1458.5,2478.2 1458.8,2478.2 1459,2480.4 1459.2,2478.2 1459.4,2471.3 1459.6,2478.2 1459.9,2473.6 1460.1,2478.2 1460.3,2473.6 1460.5,2480.4 1460.7,2480.4 1461,2471.4 1461.2,2485 1461.4,2473.6 1461.6,2464.5 1461.9,2482.7 1462.1,2480.5 1462.3,2478.2 1462.5,2485 1462.7,2478.2 1463,2478.2 1463.2,2475.9 1463.4,2478.2 1463.6,2473.6 1463.8,2475.9 1464.1,2475.9 1464.3,2471.4 1464.5,2475.9 1464.7,2475.9 1464.9,2473.6 1465.2,2478.2 1465.4,2480.5 1465.6,2478.2 1465.8,2482.7 1466.1,2475.9 1466.3,2475.9 1466.5,2482.7 1466.7,2480.5 1466.9,2473.6 1467.2,2478.2 1467.4,2475.9 1467.6,2478.2 1467.8,2478.2 1468,2475.9 1468.3,2473.6 1468.5,2480.5 1468.7,2478.2 1468.9,2471.4 1469.1,2475.9 1469.4,2473.6 1469.6,2478.2 1469.8,2482.7 1470,2478.2 1470.2,2480.5 1470.5,2473.6 1470.7,2478.2 1470.9,2480.5 1471.1,2478.2 1471.4,2480.5 1471.6,2475.9 1471.8,2482.7 1472,2475.9 1472.2,2478.2 1472.5,2482.7 1472.7,2478.2 1472.9,2475.9 1473.1,2480.5 1473.3,2473.6 1473.6,2478.2 1473.8,2473.6 1474,2473.6 1474.2,2482.7 1474.4,2482.7 1474.7,2473.7 1474.9,2478.2 1475.1,2475.9 1475.3,2475.9 1475.5,2473.7 1475.8,2473.7 1476,2480.5 1476.2,2469.1 1476.4,2480.5 1476.7,2478.2 1476.9,2482.7 1477.1,2478.2 1477.3,2482.7 1477.5,2475.9 1477.8,2480.5 1478,2475.9 1478.2,2485 1478.4,2482.7 1478.6,2478.2 1478.9,2478.2 1479.1,2482.7 1479.3,2482.7 1479.5,2478.2 1479.7,2480.5 1480,2482.7 1480.2,2480.5 1480.4,2475.9 1480.6,2482.7 1480.9,2475.9 1481.1,2480.5 1481.3,2480.5 1481.5,2480.5 1481.7,2480.5 1482,2482.7 1482.2,2475.9 1482.4,2482.7 1482.6,2475.9 1482.8,2475.9 1483.1,2478.2 1483.3,2466.9 1483.5,2485 1483.7,2480.5 1483.9,2480.5 1484.2,2480.5 1484.4,2485 1484.6,2478.2 1484.8,2480.5 1485,2485 1485.3,2475.9 1485.5,2482.7 1485.7,2482.7 1485.9,2473.7 1486.2,2485 1486.4,2473.7 1486.6,2485 1486.8,2473.7 1487,2473.7 1487.3,2480.5 1487.5,2478.2 1487.7,2480.5 1487.9,2478.2 1488.1,2482.7 1488.4,2478.2 1488.6,2482.7 1488.8,2478.2 1489,2475.9 1489.2,2485 1489.5,2471.4 1489.7,2480.5 1489.9,2482.7 1490.1,2475.9 1490.3,2473.7 1490.6,2475.9 1490.8,2480.5 1491,2478.2 1491.2,2475.9 1491.5,2478.2 1491.7,2475.9 1491.9,2482.7 1492.1,2482.7 1492.3,2471.4 1492.6,2482.7 1492.8,2480.5 1493,2473.7 1493.2,2478.2 1493.4,2482.7 1493.7,2482.7 1493.9,2478.2 1494.1,2475.9 1494.3,2473.7 1494.5,2476 1494.8,2476 1495,2482.7 1495.2,2482.7 1495.4,2476 1495.7,2482.7 1495.9,2473.7 1496.1,2473.7 1496.3,2473.7 1496.5,2480.5 1496.8,2478.2 1497,2480.5 1497.2,2478.2 1497.4,2478.2 1497.6,2473.7 1497.9,2476 1498.1,2480.5 1498.3,2476 1498.5,2478.2 1498.7,2482.7 1499,2480.5 1499.2,2480.5 1499.4,2469.2 1499.6,2482.7 1499.8,2480.5 1500.1,2482.7 1500.3,2476 1500.5,2482.7 1500.7,2471.4 1501,2485 1501.2,2480.5 1501.4,2478.2 1501.6,2478.2 1501.8,2476 1502.1,2473.7 1502.3,2473.7 1502.5,2478.2 1502.7,2480.5 1502.9,2480.5 1503.2,2480.5 1503.4,2478.2 1503.6,2482.7 1503.8,2485 1504,2476 1504.3,2480.5 1504.5,2480.5 1504.7,2480.5 1504.9,2480.5 1505.1,2478.2 1505.4,2478.2 1505.6,2482.7 1505.8,2480.5 1506,2478.2 1506.3,2476 1506.5,2480.5 1506.7,2473.7 1506.9,2478.2 1507.1,2478.2 1507.4,2480.5 1507.6,2478.2 1507.8,2480.5 1508,2478.2 1508.2,2476 1508.5,2478.2 1508.7,2480.5 1508.9,2478.2 1509.1,2480.5 1509.3,2480.5 1509.6,2478.2 1509.8,2482.7 1510,2480.5 1510.2,2480.5 1510.5,2480.5 1510.7,2476 1510.9,2478.2 1511.1,2476 1511.3,2480.5 1511.6,2476 1511.8,2476 1512,2471.5 1512.2,2476 1512.4,2478.2 1512.7,2480.5 1512.9,2478.2 1513.1,2471.5 1513.3,2480.5 1513.5,2480.5 1513.8,2482.7 1514,2480.5 1514.2,2473.7 1514.4,2478.2 1514.6,2482.7 1514.9,2482.7 1515.1,2473.7 1515.3,2480.5 1515.5,2476 1515.8,2482.7 1516,2482.7 1516.2,2480.5 1516.4,2473.7 1516.6,2485 1516.9,2480.5 1517.1,2482.7 1517.3,2476 1517.5,2476 1517.7,2480.5 1518,2480.5 1518.2,2480.5 1518.4,2480.5 1518.6,2478.2 1518.8,2480.5 1519.1,2476 1519.3,2480.5 1519.5,2480.5 1519.7,2476 1519.9,2478.2 1520.2,2480.5 1520.4,2482.7 1520.6,2476 1520.8,2482.7 1521.1,2485 1521.3,2478.2 1521.5,2482.7 1521.7,2478.2 1521.9,2482.7 1522.2,2480.5 1522.4,2471.5 1522.6,2482.7 1522.8,2476 1523,2480.5 1523.3,2478.2 1523.5,2476 1523.7,2476 1523.9,2478.2 1524.1,2478.2 1524.4,2473.7 1524.6,2478.2 1524.8,2485 1525,2482.7 1525.3,2480.5 1525.5,2476 1525.7,2480.5 1525.9,2478.2 1526.1,2478.2 1526.4,2478.2 1526.6,2473.7 1526.8,2482.7 1527,2480.5 1527.2,2478.2 1527.5,2482.7 1527.7,2473.8 1527.9,2473.8 1528.1,2478.3 1528.3,2478.3 1528.6,2480.5 1528.8,2482.8 1529,2473.8 1529.2,2482.8 1529.4,2480.5 1529.7,2482.8 1529.9,2480.5 1530.1,2476 1530.3,2480.5 1530.6,2478.3 1530.8,2473.8 1531,2478.3 1531.2,2480.5 1531.4,2482.8 1531.7,2485 1531.9,2482.8 1532.1,2476 1532.3,2473.8 1532.5,2480.5 1532.8,2476 1533,2478.3 1533.2,2485 1533.4,2476 1533.6,2476 1533.9,2480.5 1534.1,2476 1534.3,2473.8 1534.5,2478.3 1534.7,2471.5 1535,2480.5 1535.2,2476 1535.4,2473.8 1535.6,2482.8 1535.9,2480.5 1536.1,2480.5 1536.3,2485 1536.5,2476 1536.7,2480.5 1537,2478.3 1537.2,2476 1537.4,2480.5 1537.6,2478.3 1537.8,2482.8 1538.1,2478.3 1538.3,2469.3 1538.5,2480.5 1538.7,2480.5 1538.9,2478.3 1539.2,2485 1539.4,2480.5 1539.6,2478.3 1539.8,2480.5 1540,2482.8 1540.3,2480.5 1540.5,2471.5 1540.7,2478.3 1540.9,2482.8 1541.2,2476 1541.4,2478.3 1541.6,2485 1541.8,2471.5 1542,2469.3 1542.3,2471.5 1542.5,2480.5 1542.7,2480.5 1542.9,2482.8 1543.1,2480.5 1543.4,2480.5 1543.6,2480.5 1543.8,2482.8 1544,2480.5 1544.2,2480.5 1544.5,2480.5 1544.7,2482.8 1544.9,2480.5 1545.1,2480.5 1545.4,2473.8 1545.6,2473.8 1545.8,2478.3 1546,2476 1546.2,2471.5 1546.5,2478.3 1546.7,2480.5 1546.9,2480.5 1547.1,2476 1547.3,2480.5 1547.6,2478.3 1547.8,2478.3 1548,2480.5 1548.2,2476 1548.4,2485 1548.7,2476 1548.9,2480.5 1549.1,2480.5 1549.3,2476 1549.5,2482.8 1549.8,2478.3 1550,2480.5 1550.2,2482.8 1550.4,2478.3 1550.7,2478.3 1550.9,2485 1551.1,2476 1551.3,2478.3 1551.5,2480.5 1551.8,2482.8 1552,2476 1552.2,2480.5 1552.4,2480.5 1552.6,2478.3 1552.9,2482.8 1553.1,2482.8 1553.3,2480.5 1553.5,2480.5 1553.7,2476 1554,2476 1554.2,2478.3 1554.4,2478.3 1554.6,2478.3 1554.8,2485 1555.1,2478.3 1555.3,2480.5 1555.5,2473.8 1555.7,2482.8 1556,2476 1556.2,2471.6 1556.4,2473.8 1556.6,2478.3 1556.8,2482.8 1557.1,2485 1557.3,2478.3 1557.5,2480.5 1557.7,2485 1557.9,2473.8 1558.2,2482.8 1558.4,2478.3 1558.6,2482.8 1558.8,2480.5 1559,2482.8 1559.3,2485 1559.5,2478.3 1559.7,2480.5 1559.9,2480.5 1560.2,2482.8 1560.4,2476 1560.6,2476 1560.8,2478.3 1561,2467.1 1561.3,2480.5 1561.5,2478.3 1561.7,2478.3 1561.9,2476.1 1562.1,2485 1562.4,2482.8 1562.6,2473.8 1562.8,2473.8 1563,2471.6 1563.2,2478.3 1563.5,2476.1 1563.7,2476.1 1563.9,2476.1 1564.1,2478.3 1564.3,2476.1 1564.6,2473.8 1564.8,2482.8 1565,2480.5 1565.2,2485 1565.5,2480.5 1565.7,2476.1 1565.9,2482.8 1566.1,2480.5 1566.3,2480.5 1566.6,2476.1 1566.8,2485 1567,2480.5 1567.2,2480.5 1567.4,2478.3 1567.7,2478.3 1567.9,2482.8 1568.1,2485 1568.3,2478.3 1568.5,2478.3 1568.8,2485 1569,2482.8 1569.2,2478.3 1569.4,2476.1 1569.6,2480.5 1569.9,2478.3 1570.1,2482.8 1570.3,2473.8 1570.5,2478.3 1570.8,2482.8 1571,2482.8 1571.2,2478.3 1571.4,2480.5 1571.6,2485 1571.9,2478.3 1572.1,2478.3 1572.3,2467.1 1572.5,2480.5 1572.7,2478.3 1573,2471.6 1573.2,2476.1 1573.4,2478.3 1573.6,2480.5 1573.8,2482.8 1574.1,2478.3 1574.3,2476.1 1574.5,2480.5 1574.7,2478.3 1575,2478.3 1575.2,2480.5 1575.4,2485 1575.6,2480.5 1575.8,2473.8 1576.1,2482.8 1576.3,2471.6 1576.5,2478.3 1576.7,2480.5 1576.9,2469.4 1577.2,2485 1577.4,2480.5 1577.6,2473.8 1577.8,2480.5 1578,2478.3 1578.3,2480.5 1578.5,2478.3 1578.7,2482.8 1578.9,2473.8 1579.1,2478.3 1579.4,2478.3 1579.6,2482.8 1579.8,2467.1 1580,2482.8 1580.3,2482.8 1580.5,2478.3 1580.7,2480.5 1580.9,2480.5 1581.1,2482.8 1581.4,2480.5 1581.6,2482.8 1581.8,2476.1 1582,2473.8 1582.2,2478.3 1582.5,2482.8 1582.7,2480.5 1582.9,2478.3 1583.1,2482.8 1583.3,2482.8 1583.6,2482.8 1583.8,2471.6 1584,2476.1 1584.2,2482.8 1584.4,2482.8 1584.7,2478.3 1584.9,2478.3 1585.1,2485 1585.3,2478.3 1585.6,2478.3 1585.8,2469.4 1586,2476.1 1586.2,2478.3 1586.4,2476.1 1586.7,2485 1586.9,2480.5 1587.1,2473.8 1587.3,2471.6 1587.5,2478.3 1587.8,2478.3 1588,2480.5 1588.2,2480.5 1588.4,2478.3 1588.6,2476.1 1588.9,2482.8 1589.1,2478.3 1589.3,2476.1 1589.5,2482.8 1589.8,2482.8 1590,2480.5 1590.2,2478.3 1590.4,2482.8 1590.6,2482.8 1590.9,2471.6 1591.1,2478.3 1591.3,2478.3 1591.5,2480.5 1591.7,2485 1592,2482.8 1592.2,2471.6 1592.4,2482.8 1592.6,2473.8 1592.8,2476.1 1593.1,2480.5 1593.3,2476.1 1593.5,2480.5 1593.7,2478.3 1593.9,2476.1 1594.2,2478.3 1594.4,2476.1 1594.6,2485 1594.8,2478.3 1595.1,2478.3 1595.3,2476.1 1595.5,2478.3 1595.7,2480.5 1595.9,2478.3 1596.2,2480.5 1596.4,2478.3 1596.6,2480.5 1596.8,2471.6 1597,2476.1 1597.3,2480.5 1597.5,2476.1 1597.7,2476.1 1597.9,2469.4 1598.1,2471.6 1598.4,2473.8 1598.6,2476.1 1598.8,2478.3 1599,2478.3 1599.2,2480.5 1599.5,2476.1 1599.7,2471.6 1599.9,2471.6 1600.1,2482.8 1600.4,2476.1 1600.6,2480.5 1600.8,2467.1 1601,2476.1 1601.2,2478.3 1601.5,2482.8 1601.7,2482.8 1601.9,2476.1 1602.1,2473.8 1602.3,2473.8 1602.6,2476.1 1602.8,2467.1 1603,2480.5 1603.2,2480.5 1603.4,2478.3 1603.7,2478.3 1603.9,2473.8 1604.1,2478.3 1604.3,2476.1 1604.6,2476.1 1604.8,2480.5 1605,2480.5 1605.2,2467.1 1605.4,2467.1 1605.7,2473.8 1605.9,2473.8 1606.1,2473.8 1606.3,2480.5 1606.5,2469.4 1606.8,2476.1 1607,2467.1 1607.2,2471.6 1607.4,2471.6 1607.6,2480.5 1607.9,2469.4 1608.1,2460.4 1608.3,2467.1 1608.5,2469.4 1608.7,2467.1 1609,2476.1 1609.2,2469.4 1609.4,2478.3 1609.6,2473.8 1609.9,2469.4 1610.1,2467.1 1610.3,2471.6 1610.5,2478.3 1610.7,2473.8 1611,2469.4 1611.2,2456 1611.4,2469.4 1611.6,2476.1 1611.8,2469.4 1612.1,2476.1 1612.3,2460.4 1612.5,2464.9 1612.7,2471.6 1612.9,2471.6 1613.2,2469.4 1613.4,2473.8 1613.6,2464.9 1613.8,2458.2 1614,2471.6 1614.3,2453.7 1614.5,2469.3 1614.7,2460.3 1614.9,2471.5 1615.2,2469.2 1615.4,2469.1 1615.6,2471.4 1615.8,2464.5 1616,2450.7 1616.3,2462.1 1616.5,2457.4 1616.7,2471.2 1616.9,2452.6 1617.1,2464.1 1617.4,2457.1 1617.6,2440.6 1617.8,2447.5 1618,2447.4 1618.2,2452 1618.5,2437.9 1618.7,2454.4 1618.9,2470.9 1619.1,2452.1 1619.4,2475.6 1619.6,2449.9 1619.8,2447.6 1620,2454.6 1620.2,2461.7 1620.5,2461.7 1620.7,2459.4 1620.9,2459.5 1621.1,2468.8 1621.3,2468.8 1621.6,2459.5 1621.8,2455 1622,2459.6 1622.2,2459.6 1622.4,2455.1 1622.7,2464.3 1622.9,2471.2 1623.1,2466.6 1623.3,2462.1 1623.5,2466.7 1623.8,2471.3 1624,2464.4 1624.2,2464.5 1624.4,2462.2 1624.7,2453.1 1624.9,2460 1625.1,2446.4 1625.3,2455.5 1625.5,2455.5 1625.8,2462.3 1626,2464.6 1626.2,2471.4 1626.4,2444.3 1626.6,2453.4 1626.9,2469.2 1627.1,2464.7 1627.3,2464.7 1627.5,2449 1627.7,2449.1 1628,2471.5 1628.2,2458.1 1628.4,2473.8 1628.6,2464.9 1628.8,2469.3 1629.1,2456 1629.3,2473.8 1629.5,2453.7 1629.7,2460.4 1630,2469.4 1630.2,2456 1630.4,2462.7 1630.6,2464.9 1630.8,2460.4 1631.1,2478.3 1631.3,2462.7 1631.5,2467.1 1631.7,2469.4 1631.9,2460.4 1632.2,2473.8 1632.4,2473.8 1632.6,2478.3 1632.8,2464.9 1633,2471.6 1633.3,2464.9 1633.5,2464.9 1633.7,2476.1 1633.9,2467.1 1634.1,2473.8 1634.4,2473.8 1634.6,2469.4 1634.8,2473.8 1635,2458.2 1635.3,2473.8 1635.5,2469.4 1635.7,2476.1 1635.9,2462.7 1636.1,2464.9 1636.4,2476.1 1636.6,2456 1636.8,2469.4 1637,2467.1 1637.2,2462.7 1637.5,2473.8 1637.7,2478.3 1637.9,2473.8 1638.1,2476.1 1638.3,2467.1 1638.6,2462.7 1638.8,2476.1 1639,2462.7 1639.2,2473.8 1639.5,2462.7 1639.7,2469.4 1639.9,2473.8 1640.1,2476.1 1640.3,2476.1 1640.6,2449.3 1640.8,2467.1 1641,2467.1 1641.2,2469.4 1641.4,2462.7 1641.7,2462.7 1641.9,2471.6 1642.1,2473.8 1642.3,2467.1 1642.5,2467.1 1642.8,2471.6 1643,2469.4 1643.2,2471.6 1643.4,2469.4 1643.6,2467.1 1643.9,2464.9 1644.1,2478.3 1644.3,2485 1644.5,2473.8 1644.8,2460.4 1645,2473.8 1645.2,2473.8 1645.4,2476.1 1645.6,2473.8 1645.9,2467.1 1646.1,2469.4 1646.3,2462.7 1646.5,2476.1 1646.7,2478.3 1647,2478.3 1647.2,2462.7 1647.4,2473.8 1647.6,2473.8 1647.8,2471.6 1648.1,2471.6 1648.3,2467.1 1648.5,2473.8 1648.7,2473.8 1648.9,2478.3 1649.2,2469.4 1649.4,2471.6 1649.6,2480.5 1649.8,2478.3 1650.1,2478.3 1650.3,2467.1 1650.5,2476.1 1650.7,2478.3 1650.9,2473.8 1651.2,2478.3 1651.4,2471.6 1651.6,2478.3 1651.8,2471.6 1652,2467.1 1652.3,2471.6 1652.5,2476.1 1652.7,2471.6 1652.9,2478.3 1653.1,2471.6 1653.4,2473.8 1653.6,2471.6 1653.8,2480.5 1654,2478.3 1654.3,2473.8 1654.5,2467.1 1654.7,2469.4 1654.9,2476.1 1655.1,2467.1 1655.4,2473.8 1655.6,2480.5 1655.8,2480.5 1656,2473.8 1656.2,2476.1 1656.5,2473.8 1656.7,2485 1656.9,2480.5 1657.1,2473.8 1657.3,2471.6 1657.6,2467.1 1657.8,2469.4 1658,2473.8 1658.2,2476.1 1658.4,2478.3 1658.7,2476.1 1658.9,2473.8 1659.1,2478.3 1659.3,2460.4 1659.6,2480.5 1659.8,2478.3 1660,2473.8 1660.2,2469.4 1660.4,2476.1 1660.7,2476.1 1660.9,2480.5 1661.1,2480.5 1661.3,2471.6 1661.5,2476.1 1661.8,2476.1 1662,2473.8 1662.2,2478.3 1662.4,2473.8 1662.6,2478.3 1662.9,2471.6 1663.1,2473.8 1663.3,2478.3 1663.5,2476.1 1663.7,2473.8 1664,2473.8 1664.2,2478.3 1664.4,2480.5 1664.6,2480.5 1664.9,2478.3 1665.1,2473.8 1665.3,2480.5 1665.5,2478.3 1665.7,2480.5 1666,2485 1666.2,2478.3 1666.4,2482.8 1666.6,2476.1 1666.8,2478.3 1667.1,2476.1 1667.3,2469.4 1667.5,2467.1 1667.7,2476.1 1667.9,2478.3 1668.2,2469.4 1668.4,2476.1 1668.6,2482.8 1668.8,2482.8 1669.1,2478.3 1669.3,2476.1 1669.5,2480.5 1669.7,2478.3 1669.9,2480.5 1670.2,2471.6 1670.4,2478.3 1670.6,2480.5 1670.8,2471.6 1671,2473.8 1671.3,2478.3 1671.5,2482.8 1671.7,2480.5 1671.9,2478.3 1672.1,2476.1 1672.4,2478.3 1672.6,2469.4 1672.8,2476.1 1673,2476.1 1673.2,2480.5 1673.5,2467.1 1673.7,2467.1 1673.9,2478.3 1674.1,2473.8 1674.4,2482.8 1674.6,2482.8 1674.8,2480.5 1675,2480.5 1675.2,2480.5 1675.5,2482.8 1675.7,2478.3 1675.9,2478.3 1676.1,2478.3 1676.3,2478.3 1676.6,2473.8 1676.8,2476.1 1677,2471.6 1677.2,2476.1 1677.4,2473.8 1677.7,2478.3 1677.9,2478.3 1678.1,2482.8 1678.3,2480.5 1678.5,2469.4 1678.8,2471.6 1679,2482.8 1679.2,2478.3 1679.4,2473.8 1679.7,2473.8 1679.9,2469.4 1680.1,2482.8 1680.3,2478.3 1680.5,2478.3 1680.8,2476.1 1681,2473.8 1681.2,2482.8"/>
<g font-family='"Liberation Sans", sans-serif' font-size="52.7" text-anchor="middle" fill="#000">
<text transform="translate(341 1755) rotate(-90) scale(1.019 1)">[003]</text>
<text transform="translate(739.9 2134.8) rotate(-90) scale(1.019 1)">[101]</text>
<text transform="translate(784.1 2281.5) rotate(-90) scale(1.019 1)">[006]</text>
<text transform="translate(855.2 2050.4) rotate(-90) scale(1.019 1)">[102]</text>
<text transform="translate(916.1 1704.2) rotate(-90) scale(1.019 1)">[104]</text>
<text transform="translate(1007.9 2305.6) rotate(-90) scale(1.019 1)">[005]</text>
<text transform="translate(1229.2 2311.2) rotate(-90) scale(1.019 1)">[007]</text>
<text transform="translate(1344 2221.4) rotate(-90) scale(1.019 1)">[008]</text>
<text transform="translate(1426.3 2058.5) rotate(-90) scale(1.019 1)">[010]</text>
<text transform="translate(1453.9 2310.5) rotate(-90) scale(1.019 1)">[013]</text>
<text transform="translate(1591.3 2058.5) rotate(-90) scale(1.019 1)">[021]</text>
<text transform="translate(1656.9 2361.7) rotate(-90) scale(1.019 1)">[116]</text>
<text transform="translate(415.4 2276.5) scale(1 1.019)">C2/m</text>
</g>
<g fill="none" stroke="#000" stroke-width="3.8" stroke-linecap="round" stroke-linejoin="round">
<polyline points="750.8,2352.5 750.8,2399.5"/>
<polyline points="836.9,2146 836.9,2328 772.8,2402.8"/>
<polyline points="1408.6,2127 1411,2217.7 1364.2,2330.5"/>
<polyline points="1570,2137.5 1570,2224.8 1605.8,2438"/>
<polyline points="358,2358.5 358,2331 479,2331"/>
<polyline points="474.2,2331 474.2,2360.5"/>
<polyline points="418.8,2304.5 418.8,2333"/>
</g>
<text x="1610.6" y="1645.6" font-family='"Liberation Serif", serif' font-weight="bold" font-size="101" text-anchor="middle">b</text>
</svg></body></html>
